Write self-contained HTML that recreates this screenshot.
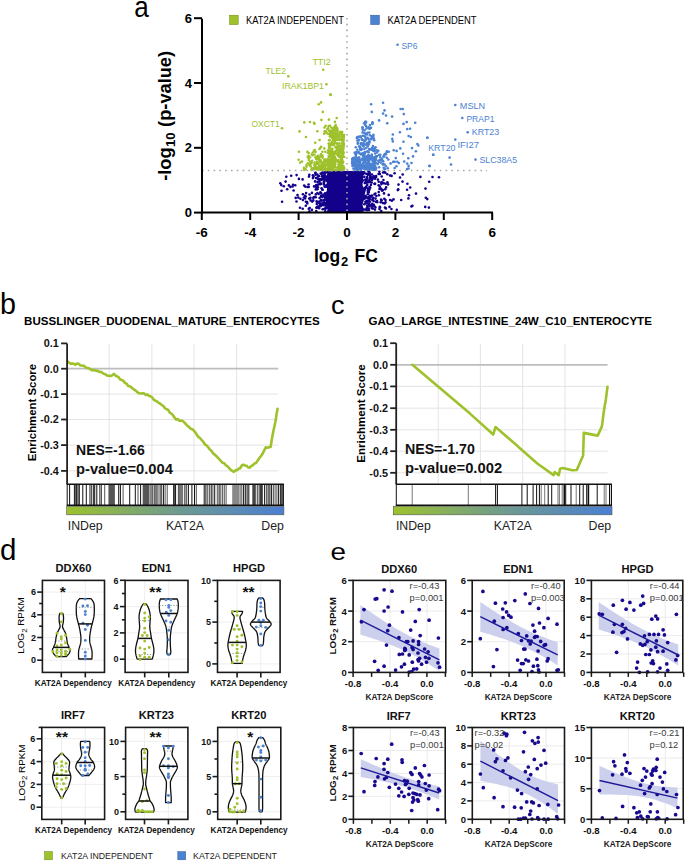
<!DOCTYPE html>
<html><head><meta charset="utf-8"><style>
html,body{margin:0;padding:0;background:#fff;}
svg{display:block;}
text{font-family:"Liberation Sans", sans-serif;}
</style></head><body>
<svg width="685" height="862" viewBox="0 0 685 862">
<rect width="685" height="862" fill="#fff"/>
<text x="134.2" y="16.6" font-size="29" fill="#000" textLength="14.5" lengthAdjust="spacingAndGlyphs">a</text>
<rect x="229.5" y="15.2" width="8.7" height="9.4" fill="#9ec12c" stroke="#6b8a1a" stroke-width="0.5"/>
<text x="246.0" y="23.6" font-size="10" fill="#000" textLength="97.9" lengthAdjust="spacingAndGlyphs">KAT2A INDEPENDENT</text>
<rect x="370.7" y="15.2" width="8.7" height="9.4" fill="#4b82d2" stroke="#2d5a9a" stroke-width="0.5"/>
<text x="387.4" y="23.6" font-size="10" fill="#000" textLength="89.2" lengthAdjust="spacingAndGlyphs">KAT2A DEPENDENT</text>
<path d="M326.4,171.0 L327.2,173.4 L326.8,175.8 L325.2,178.2 L325.4,180.6 L327.1,183.1 L324.5,185.5 L327.0,187.9 L326.9,190.3 L325.9,192.7 L325.4,195.1 L325.3,197.5 L325.3,199.9 L325.8,202.4 L326.0,204.8 L326.2,207.2 L327.5,209.6 L326.9,212.0 L363.1,212.0 L364.6,209.6 L363.1,207.2 L362.5,204.8 L363.2,202.4 L364.0,199.9 L364.0,197.5 L364.4,195.1 L365.3,192.7 L363.9,190.3 L364.0,187.9 L362.6,185.5 L362.6,183.1 L364.3,180.6 L363.0,178.2 L363.1,175.8 L365.5,173.4 L364.4,171.0Z" fill="#13008b"/>
<circle cx="315.5" cy="172.7" r="1.3" fill="#13008b"/>
<circle cx="325.9" cy="172.3" r="1.3" fill="#13008b"/>
<circle cx="319.2" cy="181.6" r="1.3" fill="#13008b"/>
<circle cx="324.1" cy="181.4" r="1.3" fill="#13008b"/>
<circle cx="323.3" cy="179.0" r="1.3" fill="#13008b"/>
<circle cx="302.9" cy="194.2" r="1.3" fill="#13008b"/>
<circle cx="315.5" cy="173.1" r="1.3" fill="#13008b"/>
<circle cx="297.5" cy="195.1" r="1.3" fill="#13008b"/>
<circle cx="312.9" cy="178.1" r="1.3" fill="#13008b"/>
<circle cx="309.2" cy="198.6" r="1.3" fill="#13008b"/>
<circle cx="324.9" cy="172.3" r="1.3" fill="#13008b"/>
<circle cx="323.7" cy="183.9" r="1.3" fill="#13008b"/>
<circle cx="324.2" cy="209.0" r="1.3" fill="#13008b"/>
<circle cx="317.4" cy="193.0" r="1.3" fill="#13008b"/>
<circle cx="316.8" cy="204.0" r="1.3" fill="#13008b"/>
<circle cx="325.0" cy="197.8" r="1.3" fill="#13008b"/>
<circle cx="323.1" cy="195.9" r="1.3" fill="#13008b"/>
<circle cx="318.0" cy="179.2" r="1.3" fill="#13008b"/>
<circle cx="325.5" cy="194.5" r="1.3" fill="#13008b"/>
<circle cx="325.3" cy="173.1" r="1.3" fill="#13008b"/>
<circle cx="319.5" cy="203.6" r="1.3" fill="#13008b"/>
<circle cx="311.9" cy="209.9" r="1.3" fill="#13008b"/>
<circle cx="305.8" cy="205.7" r="1.3" fill="#13008b"/>
<circle cx="320.7" cy="173.5" r="1.3" fill="#13008b"/>
<circle cx="316.2" cy="185.0" r="1.3" fill="#13008b"/>
<circle cx="320.3" cy="184.2" r="1.3" fill="#13008b"/>
<circle cx="319.0" cy="176.0" r="1.3" fill="#13008b"/>
<circle cx="324.9" cy="196.6" r="1.3" fill="#13008b"/>
<circle cx="307.3" cy="203.4" r="1.3" fill="#13008b"/>
<circle cx="319.4" cy="184.0" r="1.3" fill="#13008b"/>
<circle cx="319.4" cy="206.0" r="1.3" fill="#13008b"/>
<circle cx="325.8" cy="203.4" r="1.3" fill="#13008b"/>
<circle cx="317.9" cy="176.7" r="1.3" fill="#13008b"/>
<circle cx="318.0" cy="202.2" r="1.3" fill="#13008b"/>
<circle cx="318.0" cy="206.8" r="1.3" fill="#13008b"/>
<circle cx="321.7" cy="179.4" r="1.3" fill="#13008b"/>
<circle cx="315.8" cy="194.4" r="1.3" fill="#13008b"/>
<circle cx="314.2" cy="197.0" r="1.3" fill="#13008b"/>
<circle cx="321.1" cy="195.9" r="1.3" fill="#13008b"/>
<circle cx="323.4" cy="175.3" r="1.3" fill="#13008b"/>
<circle cx="313.3" cy="197.9" r="1.3" fill="#13008b"/>
<circle cx="321.0" cy="196.8" r="1.3" fill="#13008b"/>
<circle cx="320.4" cy="204.5" r="1.3" fill="#13008b"/>
<circle cx="325.2" cy="203.6" r="1.3" fill="#13008b"/>
<circle cx="324.2" cy="184.6" r="1.3" fill="#13008b"/>
<circle cx="310.6" cy="200.4" r="1.3" fill="#13008b"/>
<circle cx="320.5" cy="206.2" r="1.3" fill="#13008b"/>
<circle cx="325.8" cy="207.2" r="1.3" fill="#13008b"/>
<circle cx="316.0" cy="178.0" r="1.3" fill="#13008b"/>
<circle cx="322.3" cy="172.6" r="1.3" fill="#13008b"/>
<circle cx="303.9" cy="197.5" r="1.3" fill="#13008b"/>
<circle cx="319.7" cy="180.1" r="1.3" fill="#13008b"/>
<circle cx="318.7" cy="194.0" r="1.3" fill="#13008b"/>
<circle cx="322.7" cy="209.3" r="1.3" fill="#13008b"/>
<circle cx="325.9" cy="186.7" r="1.3" fill="#13008b"/>
<circle cx="285.6" cy="181.6" r="1.3" fill="#13008b"/>
<circle cx="322.5" cy="189.8" r="1.3" fill="#13008b"/>
<circle cx="310.5" cy="197.8" r="1.3" fill="#13008b"/>
<circle cx="324.9" cy="175.5" r="1.3" fill="#13008b"/>
<circle cx="305.4" cy="186.7" r="1.3" fill="#13008b"/>
<circle cx="325.9" cy="176.8" r="1.3" fill="#13008b"/>
<circle cx="319.6" cy="198.0" r="1.3" fill="#13008b"/>
<circle cx="325.3" cy="204.7" r="1.3" fill="#13008b"/>
<circle cx="324.6" cy="186.6" r="1.3" fill="#13008b"/>
<circle cx="314.1" cy="186.4" r="1.3" fill="#13008b"/>
<circle cx="306.1" cy="193.1" r="1.3" fill="#13008b"/>
<circle cx="320.9" cy="180.1" r="1.3" fill="#13008b"/>
<circle cx="315.1" cy="181.4" r="1.3" fill="#13008b"/>
<circle cx="317.9" cy="184.7" r="1.3" fill="#13008b"/>
<circle cx="322.4" cy="189.8" r="1.3" fill="#13008b"/>
<circle cx="309.3" cy="174.8" r="1.3" fill="#13008b"/>
<circle cx="312.2" cy="201.6" r="1.3" fill="#13008b"/>
<circle cx="323.4" cy="194.7" r="1.3" fill="#13008b"/>
<circle cx="320.6" cy="183.5" r="1.3" fill="#13008b"/>
<circle cx="317.4" cy="174.6" r="1.3" fill="#13008b"/>
<circle cx="317.4" cy="202.0" r="1.3" fill="#13008b"/>
<circle cx="325.4" cy="176.7" r="1.3" fill="#13008b"/>
<circle cx="286.3" cy="176.8" r="1.3" fill="#13008b"/>
<circle cx="326.0" cy="176.7" r="1.3" fill="#13008b"/>
<circle cx="315.5" cy="174.8" r="1.3" fill="#13008b"/>
<circle cx="316.4" cy="207.8" r="1.3" fill="#13008b"/>
<circle cx="323.9" cy="182.3" r="1.3" fill="#13008b"/>
<circle cx="320.9" cy="183.8" r="1.3" fill="#13008b"/>
<circle cx="323.2" cy="204.8" r="1.3" fill="#13008b"/>
<circle cx="325.9" cy="196.3" r="1.3" fill="#13008b"/>
<circle cx="319.9" cy="179.0" r="1.3" fill="#13008b"/>
<circle cx="317.0" cy="188.9" r="1.3" fill="#13008b"/>
<circle cx="317.4" cy="206.9" r="1.3" fill="#13008b"/>
<circle cx="292.6" cy="186.5" r="1.3" fill="#13008b"/>
<circle cx="324.7" cy="199.9" r="1.3" fill="#13008b"/>
<circle cx="324.6" cy="175.4" r="1.3" fill="#13008b"/>
<circle cx="321.6" cy="200.6" r="1.3" fill="#13008b"/>
<circle cx="324.4" cy="202.6" r="1.3" fill="#13008b"/>
<circle cx="321.9" cy="204.5" r="1.3" fill="#13008b"/>
<circle cx="305.1" cy="198.5" r="1.3" fill="#13008b"/>
<circle cx="315.9" cy="186.3" r="1.3" fill="#13008b"/>
<circle cx="321.5" cy="174.1" r="1.3" fill="#13008b"/>
<circle cx="320.4" cy="192.3" r="1.3" fill="#13008b"/>
<circle cx="282.1" cy="201.8" r="1.3" fill="#13008b"/>
<circle cx="321.9" cy="179.1" r="1.3" fill="#13008b"/>
<circle cx="317.5" cy="182.1" r="1.3" fill="#13008b"/>
<circle cx="311.9" cy="192.9" r="1.3" fill="#13008b"/>
<circle cx="316.6" cy="201.4" r="1.3" fill="#13008b"/>
<circle cx="316.9" cy="207.4" r="1.3" fill="#13008b"/>
<circle cx="313.6" cy="176.5" r="1.3" fill="#13008b"/>
<circle cx="324.1" cy="178.9" r="1.3" fill="#13008b"/>
<circle cx="321.5" cy="203.5" r="1.3" fill="#13008b"/>
<circle cx="315.7" cy="197.3" r="1.3" fill="#13008b"/>
<circle cx="320.9" cy="200.3" r="1.3" fill="#13008b"/>
<circle cx="309.4" cy="211.4" r="1.3" fill="#13008b"/>
<circle cx="325.2" cy="209.1" r="1.3" fill="#13008b"/>
<circle cx="321.9" cy="205.2" r="1.3" fill="#13008b"/>
<circle cx="323.4" cy="202.6" r="1.3" fill="#13008b"/>
<circle cx="317.9" cy="187.3" r="1.3" fill="#13008b"/>
<circle cx="322.4" cy="197.1" r="1.3" fill="#13008b"/>
<circle cx="298.9" cy="178.9" r="1.3" fill="#13008b"/>
<circle cx="319.3" cy="201.9" r="1.3" fill="#13008b"/>
<circle cx="305.9" cy="201.8" r="1.3" fill="#13008b"/>
<circle cx="313.3" cy="200.4" r="1.3" fill="#13008b"/>
<circle cx="317.4" cy="189.3" r="1.3" fill="#13008b"/>
<circle cx="316.9" cy="186.6" r="1.3" fill="#13008b"/>
<circle cx="321.6" cy="188.3" r="1.3" fill="#13008b"/>
<circle cx="323.6" cy="172.8" r="1.3" fill="#13008b"/>
<circle cx="324.0" cy="205.3" r="1.3" fill="#13008b"/>
<circle cx="325.1" cy="193.2" r="1.3" fill="#13008b"/>
<circle cx="308.7" cy="187.0" r="1.3" fill="#13008b"/>
<circle cx="321.2" cy="193.4" r="1.3" fill="#13008b"/>
<circle cx="323.7" cy="200.4" r="1.3" fill="#13008b"/>
<circle cx="316.1" cy="186.8" r="1.3" fill="#13008b"/>
<circle cx="321.9" cy="204.7" r="1.3" fill="#13008b"/>
<circle cx="319.1" cy="208.3" r="1.3" fill="#13008b"/>
<circle cx="307.5" cy="187.0" r="1.3" fill="#13008b"/>
<circle cx="324.3" cy="177.0" r="1.3" fill="#13008b"/>
<circle cx="319.4" cy="201.9" r="1.3" fill="#13008b"/>
<circle cx="325.3" cy="211.2" r="1.3" fill="#13008b"/>
<circle cx="322.9" cy="177.4" r="1.3" fill="#13008b"/>
<circle cx="321.3" cy="200.0" r="1.3" fill="#13008b"/>
<circle cx="323.9" cy="204.5" r="1.3" fill="#13008b"/>
<circle cx="325.9" cy="208.3" r="1.3" fill="#13008b"/>
<circle cx="323.4" cy="176.4" r="1.3" fill="#13008b"/>
<circle cx="312.9" cy="175.2" r="1.3" fill="#13008b"/>
<circle cx="316.3" cy="211.0" r="1.3" fill="#13008b"/>
<circle cx="321.9" cy="176.2" r="1.3" fill="#13008b"/>
<circle cx="324.4" cy="178.6" r="1.3" fill="#13008b"/>
<circle cx="309.5" cy="194.5" r="1.3" fill="#13008b"/>
<circle cx="315.8" cy="189.4" r="1.3" fill="#13008b"/>
<circle cx="296.5" cy="201.5" r="1.3" fill="#13008b"/>
<circle cx="322.5" cy="179.1" r="1.3" fill="#13008b"/>
<circle cx="309.7" cy="208.1" r="1.3" fill="#13008b"/>
<circle cx="325.6" cy="180.2" r="1.3" fill="#13008b"/>
<circle cx="380.7" cy="202.3" r="1.3" fill="#13008b"/>
<circle cx="366.2" cy="173.8" r="1.3" fill="#13008b"/>
<circle cx="367.1" cy="200.8" r="1.3" fill="#13008b"/>
<circle cx="364.3" cy="204.2" r="1.3" fill="#13008b"/>
<circle cx="381.4" cy="189.3" r="1.3" fill="#13008b"/>
<circle cx="379.9" cy="174.0" r="1.3" fill="#13008b"/>
<circle cx="384.3" cy="198.8" r="1.3" fill="#13008b"/>
<circle cx="367.0" cy="181.3" r="1.3" fill="#13008b"/>
<circle cx="365.7" cy="197.2" r="1.3" fill="#13008b"/>
<circle cx="379.7" cy="186.6" r="1.3" fill="#13008b"/>
<circle cx="368.4" cy="197.0" r="1.3" fill="#13008b"/>
<circle cx="378.7" cy="181.8" r="1.3" fill="#13008b"/>
<circle cx="368.4" cy="190.6" r="1.3" fill="#13008b"/>
<circle cx="368.7" cy="192.5" r="1.3" fill="#13008b"/>
<circle cx="364.3" cy="196.7" r="1.3" fill="#13008b"/>
<circle cx="377.9" cy="179.6" r="1.3" fill="#13008b"/>
<circle cx="367.4" cy="210.0" r="1.3" fill="#13008b"/>
<circle cx="364.8" cy="183.1" r="1.3" fill="#13008b"/>
<circle cx="374.6" cy="183.7" r="1.3" fill="#13008b"/>
<circle cx="369.9" cy="181.8" r="1.3" fill="#13008b"/>
<circle cx="367.7" cy="174.2" r="1.3" fill="#13008b"/>
<circle cx="380.6" cy="188.4" r="1.3" fill="#13008b"/>
<circle cx="367.6" cy="202.4" r="1.3" fill="#13008b"/>
<circle cx="372.3" cy="199.9" r="1.3" fill="#13008b"/>
<circle cx="366.6" cy="179.3" r="1.3" fill="#13008b"/>
<circle cx="376.0" cy="177.0" r="1.3" fill="#13008b"/>
<circle cx="388.1" cy="184.4" r="1.3" fill="#13008b"/>
<circle cx="377.2" cy="202.2" r="1.3" fill="#13008b"/>
<circle cx="368.7" cy="191.0" r="1.3" fill="#13008b"/>
<circle cx="385.9" cy="208.4" r="1.3" fill="#13008b"/>
<circle cx="373.3" cy="197.8" r="1.3" fill="#13008b"/>
<circle cx="365.7" cy="196.3" r="1.3" fill="#13008b"/>
<circle cx="366.1" cy="202.2" r="1.3" fill="#13008b"/>
<circle cx="365.6" cy="201.5" r="1.3" fill="#13008b"/>
<circle cx="378.7" cy="185.3" r="1.3" fill="#13008b"/>
<circle cx="429.2" cy="181.8" r="1.3" fill="#13008b"/>
<circle cx="379.5" cy="189.0" r="1.3" fill="#13008b"/>
<circle cx="364.4" cy="191.1" r="1.3" fill="#13008b"/>
<circle cx="371.5" cy="177.2" r="1.3" fill="#13008b"/>
<circle cx="385.2" cy="189.2" r="1.3" fill="#13008b"/>
<circle cx="369.8" cy="197.1" r="1.3" fill="#13008b"/>
<circle cx="364.3" cy="176.9" r="1.3" fill="#13008b"/>
<circle cx="367.0" cy="177.0" r="1.3" fill="#13008b"/>
<circle cx="367.1" cy="178.4" r="1.3" fill="#13008b"/>
<circle cx="365.6" cy="182.8" r="1.3" fill="#13008b"/>
<circle cx="366.9" cy="210.0" r="1.3" fill="#13008b"/>
<circle cx="383.1" cy="172.5" r="1.3" fill="#13008b"/>
<circle cx="375.1" cy="178.8" r="1.3" fill="#13008b"/>
<circle cx="369.8" cy="178.1" r="1.3" fill="#13008b"/>
<circle cx="382.4" cy="190.5" r="1.3" fill="#13008b"/>
<circle cx="384.2" cy="172.1" r="1.3" fill="#13008b"/>
<circle cx="369.2" cy="189.8" r="1.3" fill="#13008b"/>
<circle cx="372.3" cy="178.0" r="1.3" fill="#13008b"/>
<circle cx="367.3" cy="182.3" r="1.3" fill="#13008b"/>
<circle cx="365.9" cy="203.2" r="1.3" fill="#13008b"/>
<circle cx="370.1" cy="178.9" r="1.3" fill="#13008b"/>
<circle cx="364.6" cy="196.2" r="1.3" fill="#13008b"/>
<circle cx="370.2" cy="187.8" r="1.3" fill="#13008b"/>
<circle cx="365.0" cy="188.2" r="1.3" fill="#13008b"/>
<circle cx="369.4" cy="204.2" r="1.3" fill="#13008b"/>
<circle cx="372.1" cy="177.9" r="1.3" fill="#13008b"/>
<circle cx="368.7" cy="208.5" r="1.3" fill="#13008b"/>
<circle cx="380.0" cy="207.2" r="1.3" fill="#13008b"/>
<circle cx="369.2" cy="198.2" r="1.3" fill="#13008b"/>
<circle cx="369.4" cy="173.5" r="1.3" fill="#13008b"/>
<circle cx="365.5" cy="198.0" r="1.3" fill="#13008b"/>
<circle cx="371.9" cy="195.5" r="1.3" fill="#13008b"/>
<circle cx="385.5" cy="202.4" r="1.3" fill="#13008b"/>
<circle cx="383.4" cy="180.1" r="1.3" fill="#13008b"/>
<circle cx="365.0" cy="209.6" r="1.3" fill="#13008b"/>
<circle cx="379.8" cy="206.9" r="1.3" fill="#13008b"/>
<circle cx="376.1" cy="176.1" r="1.3" fill="#13008b"/>
<circle cx="381.4" cy="184.1" r="1.3" fill="#13008b"/>
<circle cx="385.4" cy="172.8" r="1.3" fill="#13008b"/>
<circle cx="373.8" cy="204.7" r="1.3" fill="#13008b"/>
<circle cx="371.7" cy="208.1" r="1.3" fill="#13008b"/>
<circle cx="381.3" cy="211.1" r="1.3" fill="#13008b"/>
<circle cx="376.4" cy="196.0" r="1.3" fill="#13008b"/>
<circle cx="367.6" cy="198.1" r="1.3" fill="#13008b"/>
<circle cx="375.5" cy="198.6" r="1.3" fill="#13008b"/>
<circle cx="367.7" cy="194.3" r="1.3" fill="#13008b"/>
<circle cx="374.9" cy="209.6" r="1.3" fill="#13008b"/>
<circle cx="369.8" cy="195.8" r="1.3" fill="#13008b"/>
<circle cx="367.2" cy="184.9" r="1.3" fill="#13008b"/>
<circle cx="367.8" cy="192.0" r="1.3" fill="#13008b"/>
<circle cx="364.1" cy="172.2" r="1.3" fill="#13008b"/>
<circle cx="381.6" cy="200.5" r="1.3" fill="#13008b"/>
<circle cx="369.7" cy="199.3" r="1.3" fill="#13008b"/>
<circle cx="367.5" cy="188.3" r="1.3" fill="#13008b"/>
<circle cx="369.7" cy="205.6" r="1.3" fill="#13008b"/>
<circle cx="375.9" cy="201.7" r="1.3" fill="#13008b"/>
<circle cx="370.9" cy="185.0" r="1.3" fill="#13008b"/>
<circle cx="367.8" cy="174.6" r="1.3" fill="#13008b"/>
<circle cx="374.2" cy="176.8" r="1.3" fill="#13008b"/>
<circle cx="372.5" cy="178.9" r="1.3" fill="#13008b"/>
<circle cx="385.7" cy="183.7" r="1.3" fill="#13008b"/>
<circle cx="364.8" cy="189.4" r="1.3" fill="#13008b"/>
<circle cx="372.8" cy="208.6" r="1.3" fill="#13008b"/>
<circle cx="371.7" cy="182.6" r="1.3" fill="#13008b"/>
<circle cx="375.4" cy="207.4" r="1.3" fill="#13008b"/>
<circle cx="364.5" cy="198.7" r="1.3" fill="#13008b"/>
<circle cx="367.2" cy="205.6" r="1.3" fill="#13008b"/>
<circle cx="365.5" cy="187.6" r="1.3" fill="#13008b"/>
<circle cx="368.5" cy="171.6" r="1.3" fill="#13008b"/>
<circle cx="382.9" cy="203.0" r="1.3" fill="#13008b"/>
<circle cx="366.0" cy="181.3" r="1.3" fill="#13008b"/>
<circle cx="374.7" cy="177.2" r="1.3" fill="#13008b"/>
<circle cx="384.6" cy="203.5" r="1.3" fill="#13008b"/>
<circle cx="372.7" cy="199.0" r="1.3" fill="#13008b"/>
<circle cx="372.0" cy="180.0" r="1.3" fill="#13008b"/>
<circle cx="387.4" cy="182.2" r="1.3" fill="#13008b"/>
<circle cx="379.5" cy="209.1" r="1.3" fill="#13008b"/>
<circle cx="370.3" cy="182.2" r="1.3" fill="#13008b"/>
<circle cx="381.1" cy="199.6" r="1.3" fill="#13008b"/>
<circle cx="370.1" cy="176.7" r="1.3" fill="#13008b"/>
<circle cx="368.6" cy="204.1" r="1.3" fill="#13008b"/>
<circle cx="373.8" cy="176.2" r="1.3" fill="#13008b"/>
<circle cx="378.7" cy="192.1" r="1.3" fill="#13008b"/>
<circle cx="368.8" cy="172.9" r="1.3" fill="#13008b"/>
<circle cx="375.4" cy="193.5" r="1.3" fill="#13008b"/>
<circle cx="371.6" cy="205.4" r="1.3" fill="#13008b"/>
<circle cx="370.2" cy="174.9" r="1.3" fill="#13008b"/>
<circle cx="381.6" cy="182.5" r="1.3" fill="#13008b"/>
<circle cx="366.0" cy="202.1" r="1.3" fill="#13008b"/>
<circle cx="365.0" cy="195.8" r="1.3" fill="#13008b"/>
<circle cx="374.8" cy="184.0" r="1.3" fill="#13008b"/>
<circle cx="371.5" cy="196.7" r="1.3" fill="#13008b"/>
<circle cx="407.1" cy="189.7" r="1.3" fill="#13008b"/>
<circle cx="372.8" cy="206.0" r="1.3" fill="#13008b"/>
<circle cx="383.9" cy="183.2" r="1.3" fill="#13008b"/>
<circle cx="369.9" cy="201.8" r="1.3" fill="#13008b"/>
<circle cx="364.4" cy="196.9" r="1.3" fill="#13008b"/>
<circle cx="373.6" cy="201.1" r="1.3" fill="#13008b"/>
<circle cx="366.2" cy="186.6" r="1.3" fill="#13008b"/>
<circle cx="368.7" cy="200.5" r="1.3" fill="#13008b"/>
<circle cx="393.5" cy="199.4" r="1.3" fill="#13008b"/>
<circle cx="369.4" cy="187.0" r="1.3" fill="#13008b"/>
<circle cx="369.6" cy="172.6" r="1.3" fill="#13008b"/>
<circle cx="369.0" cy="210.0" r="1.3" fill="#13008b"/>
<circle cx="385.5" cy="200.0" r="1.3" fill="#13008b"/>
<circle cx="365.3" cy="179.7" r="1.3" fill="#13008b"/>
<circle cx="369.1" cy="200.7" r="1.3" fill="#13008b"/>
<circle cx="366.3" cy="182.6" r="1.3" fill="#13008b"/>
<circle cx="367.9" cy="190.3" r="1.3" fill="#13008b"/>
<circle cx="374.2" cy="205.9" r="1.3" fill="#13008b"/>
<circle cx="369.2" cy="189.4" r="1.3" fill="#13008b"/>
<circle cx="382.5" cy="183.0" r="1.3" fill="#13008b"/>
<circle cx="375.1" cy="183.7" r="1.3" fill="#13008b"/>
<circle cx="368.1" cy="174.6" r="1.3" fill="#13008b"/>
<circle cx="369.2" cy="180.3" r="1.3" fill="#13008b"/>
<circle cx="368.3" cy="182.3" r="1.3" fill="#13008b"/>
<circle cx="371.7" cy="178.4" r="1.3" fill="#13008b"/>
<circle cx="378.6" cy="174.0" r="1.3" fill="#13008b"/>
<circle cx="397.8" cy="190.1" r="1.3" fill="#13008b"/>
<circle cx="365.7" cy="180.1" r="1.3" fill="#13008b"/>
<circle cx="377.0" cy="201.1" r="1.3" fill="#13008b"/>
<circle cx="366.6" cy="208.4" r="1.3" fill="#13008b"/>
<circle cx="381.5" cy="182.4" r="1.3" fill="#13008b"/>
<circle cx="374.5" cy="194.4" r="1.3" fill="#13008b"/>
<circle cx="368.6" cy="191.8" r="1.3" fill="#13008b"/>
<circle cx="372.0" cy="174.5" r="1.3" fill="#13008b"/>
<circle cx="381.7" cy="176.5" r="1.3" fill="#13008b"/>
<circle cx="367.5" cy="206.9" r="1.3" fill="#13008b"/>
<circle cx="382.0" cy="190.5" r="1.3" fill="#13008b"/>
<circle cx="372.2" cy="203.7" r="1.3" fill="#13008b"/>
<circle cx="387.3" cy="174.2" r="1.3" fill="#13008b"/>
<circle cx="378.9" cy="195.3" r="1.3" fill="#13008b"/>
<circle cx="372.8" cy="206.1" r="1.3" fill="#13008b"/>
<circle cx="369.6" cy="206.2" r="1.3" fill="#13008b"/>
<circle cx="379.3" cy="171.7" r="1.3" fill="#13008b"/>
<circle cx="295.2" cy="185.3" r="1.3" fill="#13008b"/>
<circle cx="290.4" cy="186.9" r="1.3" fill="#13008b"/>
<circle cx="302.6" cy="179.4" r="1.3" fill="#13008b"/>
<circle cx="281.3" cy="185.1" r="1.3" fill="#13008b"/>
<circle cx="287.2" cy="189.3" r="1.3" fill="#13008b"/>
<circle cx="304.2" cy="185.6" r="1.3" fill="#13008b"/>
<circle cx="293.6" cy="190.5" r="1.3" fill="#13008b"/>
<circle cx="293.0" cy="184.7" r="1.3" fill="#13008b"/>
<circle cx="309.0" cy="176.6" r="1.3" fill="#13008b"/>
<circle cx="288.9" cy="185.4" r="1.3" fill="#13008b"/>
<circle cx="280.3" cy="183.3" r="1.3" fill="#13008b"/>
<circle cx="291.2" cy="175.8" r="1.3" fill="#13008b"/>
<circle cx="283.8" cy="186.2" r="1.3" fill="#13008b"/>
<circle cx="281.5" cy="190.8" r="1.3" fill="#13008b"/>
<circle cx="296.6" cy="175.1" r="1.3" fill="#13008b"/>
<circle cx="308.6" cy="184.5" r="1.3" fill="#13008b"/>
<circle cx="305.7" cy="196.5" r="1.3" fill="#13008b"/>
<circle cx="300.4" cy="198.7" r="1.3" fill="#13008b"/>
<circle cx="298.3" cy="197.6" r="1.3" fill="#13008b"/>
<circle cx="300.0" cy="207.7" r="1.3" fill="#13008b"/>
<circle cx="302.7" cy="208.7" r="1.3" fill="#13008b"/>
<circle cx="305.0" cy="195.7" r="1.3" fill="#13008b"/>
<circle cx="302.9" cy="200.0" r="1.3" fill="#13008b"/>
<circle cx="295.7" cy="197.9" r="1.3" fill="#13008b"/>
<circle cx="307.1" cy="202.0" r="1.3" fill="#13008b"/>
<circle cx="308.8" cy="208.8" r="1.3" fill="#13008b"/>
<circle cx="386.1" cy="187.4" r="1.3" fill="#13008b"/>
<circle cx="391.9" cy="200.7" r="1.3" fill="#13008b"/>
<circle cx="410.2" cy="187.5" r="1.3" fill="#13008b"/>
<circle cx="412.4" cy="205.7" r="1.3" fill="#13008b"/>
<circle cx="425.2" cy="206.9" r="1.3" fill="#13008b"/>
<circle cx="407.4" cy="183.8" r="1.3" fill="#13008b"/>
<circle cx="390.2" cy="200.0" r="1.3" fill="#13008b"/>
<circle cx="402.5" cy="181.6" r="1.3" fill="#13008b"/>
<circle cx="439.0" cy="177.3" r="1.3" fill="#13008b"/>
<circle cx="425.5" cy="188.6" r="1.3" fill="#13008b"/>
<circle cx="388.7" cy="194.9" r="1.3" fill="#13008b"/>
<circle cx="428.9" cy="207.6" r="1.3" fill="#13008b"/>
<circle cx="400.0" cy="177.5" r="1.3" fill="#13008b"/>
<circle cx="427.3" cy="199.1" r="1.3" fill="#13008b"/>
<circle cx="382.7" cy="190.1" r="1.3" fill="#13008b"/>
<circle cx="432.5" cy="177.0" r="1.3" fill="#13008b"/>
<circle cx="391.4" cy="209.0" r="1.3" fill="#13008b"/>
<circle cx="408.4" cy="198.4" r="1.3" fill="#13008b"/>
<circle cx="420.4" cy="176.9" r="1.3" fill="#13008b"/>
<circle cx="411.5" cy="206.4" r="1.3" fill="#13008b"/>
<circle cx="391.6" cy="175.9" r="1.3" fill="#13008b"/>
<circle cx="390.1" cy="175.5" r="1.3" fill="#13008b"/>
<circle cx="398.5" cy="184.6" r="1.3" fill="#13008b"/>
<circle cx="385.0" cy="207.6" r="1.3" fill="#13008b"/>
<circle cx="394.6" cy="173.3" r="1.3" fill="#13008b"/>
<circle cx="389.5" cy="206.9" r="1.3" fill="#13008b"/>
<circle cx="409.0" cy="195.2" r="1.3" fill="#13008b"/>
<circle cx="402.7" cy="174.5" r="1.3" fill="#13008b"/>
<circle cx="416.0" cy="193.6" r="1.3" fill="#13008b"/>
<circle cx="398.3" cy="189.4" r="1.3" fill="#13008b"/>
<circle cx="384.0" cy="193.4" r="1.3" fill="#13008b"/>
<circle cx="401.2" cy="200.0" r="1.3" fill="#13008b"/>
<circle cx="425.8" cy="197.8" r="1.3" fill="#13008b"/>
<circle cx="396.8" cy="209.9" r="1.3" fill="#13008b"/>
<circle cx="331.7" cy="166.8" r="1.3" fill="#9ec12c"/>
<circle cx="334.9" cy="141.6" r="1.3" fill="#9ec12c"/>
<circle cx="334.6" cy="156.5" r="1.3" fill="#9ec12c"/>
<circle cx="333.1" cy="144.5" r="1.3" fill="#9ec12c"/>
<circle cx="335.8" cy="134.6" r="1.3" fill="#9ec12c"/>
<circle cx="341.0" cy="132.3" r="1.3" fill="#9ec12c"/>
<circle cx="327.5" cy="164.7" r="1.3" fill="#9ec12c"/>
<circle cx="331.8" cy="157.4" r="1.3" fill="#9ec12c"/>
<circle cx="336.6" cy="136.2" r="1.3" fill="#9ec12c"/>
<circle cx="339.5" cy="134.3" r="1.3" fill="#9ec12c"/>
<circle cx="338.0" cy="160.9" r="1.3" fill="#9ec12c"/>
<circle cx="340.3" cy="132.6" r="1.3" fill="#9ec12c"/>
<circle cx="328.6" cy="159.8" r="1.3" fill="#9ec12c"/>
<circle cx="329.5" cy="163.9" r="1.3" fill="#9ec12c"/>
<circle cx="333.3" cy="145.0" r="1.3" fill="#9ec12c"/>
<circle cx="331.7" cy="159.7" r="1.3" fill="#9ec12c"/>
<circle cx="340.0" cy="156.7" r="1.3" fill="#9ec12c"/>
<circle cx="344.1" cy="156.9" r="1.3" fill="#9ec12c"/>
<circle cx="338.8" cy="155.9" r="1.3" fill="#9ec12c"/>
<circle cx="326.1" cy="169.7" r="1.3" fill="#9ec12c"/>
<circle cx="331.1" cy="170.0" r="1.3" fill="#9ec12c"/>
<circle cx="341.2" cy="140.1" r="1.3" fill="#9ec12c"/>
<circle cx="343.0" cy="151.3" r="1.3" fill="#9ec12c"/>
<circle cx="337.7" cy="147.3" r="1.3" fill="#9ec12c"/>
<circle cx="334.4" cy="139.3" r="1.3" fill="#9ec12c"/>
<circle cx="333.0" cy="159.5" r="1.3" fill="#9ec12c"/>
<circle cx="337.7" cy="161.7" r="1.3" fill="#9ec12c"/>
<circle cx="341.8" cy="162.5" r="1.3" fill="#9ec12c"/>
<circle cx="332.6" cy="161.2" r="1.3" fill="#9ec12c"/>
<circle cx="331.8" cy="142.1" r="1.3" fill="#9ec12c"/>
<circle cx="326.7" cy="160.6" r="1.3" fill="#9ec12c"/>
<circle cx="328.8" cy="163.4" r="1.3" fill="#9ec12c"/>
<circle cx="341.8" cy="148.8" r="1.3" fill="#9ec12c"/>
<circle cx="337.3" cy="167.6" r="1.3" fill="#9ec12c"/>
<circle cx="344.0" cy="168.1" r="1.3" fill="#9ec12c"/>
<circle cx="329.5" cy="146.0" r="1.3" fill="#9ec12c"/>
<circle cx="334.7" cy="138.9" r="1.3" fill="#9ec12c"/>
<circle cx="340.5" cy="163.9" r="1.3" fill="#9ec12c"/>
<circle cx="338.7" cy="149.1" r="1.3" fill="#9ec12c"/>
<circle cx="326.8" cy="169.9" r="1.3" fill="#9ec12c"/>
<circle cx="333.9" cy="157.4" r="1.3" fill="#9ec12c"/>
<circle cx="338.3" cy="149.3" r="1.3" fill="#9ec12c"/>
<circle cx="338.6" cy="164.6" r="1.3" fill="#9ec12c"/>
<circle cx="334.5" cy="162.0" r="1.3" fill="#9ec12c"/>
<circle cx="330.6" cy="153.3" r="1.3" fill="#9ec12c"/>
<circle cx="343.6" cy="152.7" r="1.3" fill="#9ec12c"/>
<circle cx="334.5" cy="165.6" r="1.3" fill="#9ec12c"/>
<circle cx="339.7" cy="145.7" r="1.3" fill="#9ec12c"/>
<circle cx="335.5" cy="170.0" r="1.3" fill="#9ec12c"/>
<circle cx="331.0" cy="134.2" r="1.3" fill="#9ec12c"/>
<circle cx="330.4" cy="165.2" r="1.3" fill="#9ec12c"/>
<circle cx="327.5" cy="162.6" r="1.3" fill="#9ec12c"/>
<circle cx="329.4" cy="166.5" r="1.3" fill="#9ec12c"/>
<circle cx="332.8" cy="132.9" r="1.3" fill="#9ec12c"/>
<circle cx="333.5" cy="166.2" r="1.3" fill="#9ec12c"/>
<circle cx="332.9" cy="152.5" r="1.3" fill="#9ec12c"/>
<circle cx="335.4" cy="129.2" r="1.3" fill="#9ec12c"/>
<circle cx="341.5" cy="138.8" r="1.3" fill="#9ec12c"/>
<circle cx="325.9" cy="170.0" r="1.3" fill="#9ec12c"/>
<circle cx="329.2" cy="153.3" r="1.3" fill="#9ec12c"/>
<circle cx="341.0" cy="151.1" r="1.3" fill="#9ec12c"/>
<circle cx="336.7" cy="147.6" r="1.3" fill="#9ec12c"/>
<circle cx="334.3" cy="160.9" r="1.3" fill="#9ec12c"/>
<circle cx="331.3" cy="161.1" r="1.3" fill="#9ec12c"/>
<circle cx="335.6" cy="170.0" r="1.3" fill="#9ec12c"/>
<circle cx="329.6" cy="170.0" r="1.3" fill="#9ec12c"/>
<circle cx="341.8" cy="152.8" r="1.3" fill="#9ec12c"/>
<circle cx="340.9" cy="170.0" r="1.3" fill="#9ec12c"/>
<circle cx="331.8" cy="166.3" r="1.3" fill="#9ec12c"/>
<circle cx="327.1" cy="160.4" r="1.3" fill="#9ec12c"/>
<circle cx="342.1" cy="167.5" r="1.3" fill="#9ec12c"/>
<circle cx="331.3" cy="167.8" r="1.3" fill="#9ec12c"/>
<circle cx="339.2" cy="136.6" r="1.3" fill="#9ec12c"/>
<circle cx="341.8" cy="155.3" r="1.3" fill="#9ec12c"/>
<circle cx="340.6" cy="162.8" r="1.3" fill="#9ec12c"/>
<circle cx="342.1" cy="143.5" r="1.3" fill="#9ec12c"/>
<circle cx="334.8" cy="167.1" r="1.3" fill="#9ec12c"/>
<circle cx="341.4" cy="164.2" r="1.3" fill="#9ec12c"/>
<circle cx="336.4" cy="134.3" r="1.3" fill="#9ec12c"/>
<circle cx="333.5" cy="135.3" r="1.3" fill="#9ec12c"/>
<circle cx="335.6" cy="151.6" r="1.3" fill="#9ec12c"/>
<circle cx="331.9" cy="167.8" r="1.3" fill="#9ec12c"/>
<circle cx="340.1" cy="162.5" r="1.3" fill="#9ec12c"/>
<circle cx="341.1" cy="170.0" r="1.3" fill="#9ec12c"/>
<circle cx="328.3" cy="168.2" r="1.3" fill="#9ec12c"/>
<circle cx="328.6" cy="170.0" r="1.3" fill="#9ec12c"/>
<circle cx="332.9" cy="167.5" r="1.3" fill="#9ec12c"/>
<circle cx="335.6" cy="147.2" r="1.3" fill="#9ec12c"/>
<circle cx="343.4" cy="166.1" r="1.3" fill="#9ec12c"/>
<circle cx="343.1" cy="166.8" r="1.3" fill="#9ec12c"/>
<circle cx="343.7" cy="137.1" r="1.3" fill="#9ec12c"/>
<circle cx="339.4" cy="162.5" r="1.3" fill="#9ec12c"/>
<circle cx="338.5" cy="160.1" r="1.3" fill="#9ec12c"/>
<circle cx="330.7" cy="168.9" r="1.3" fill="#9ec12c"/>
<circle cx="334.7" cy="140.5" r="1.3" fill="#9ec12c"/>
<circle cx="328.7" cy="143.6" r="1.3" fill="#9ec12c"/>
<circle cx="341.4" cy="152.7" r="1.3" fill="#9ec12c"/>
<circle cx="332.2" cy="152.7" r="1.3" fill="#9ec12c"/>
<circle cx="327.0" cy="169.8" r="1.3" fill="#9ec12c"/>
<circle cx="331.7" cy="166.3" r="1.3" fill="#9ec12c"/>
<circle cx="332.9" cy="153.5" r="1.3" fill="#9ec12c"/>
<circle cx="340.3" cy="131.7" r="1.3" fill="#9ec12c"/>
<circle cx="329.1" cy="140.3" r="1.3" fill="#9ec12c"/>
<circle cx="331.5" cy="151.7" r="1.3" fill="#9ec12c"/>
<circle cx="342.5" cy="152.5" r="1.3" fill="#9ec12c"/>
<circle cx="341.5" cy="167.3" r="1.3" fill="#9ec12c"/>
<circle cx="338.7" cy="138.0" r="1.3" fill="#9ec12c"/>
<circle cx="336.0" cy="170.0" r="1.3" fill="#9ec12c"/>
<circle cx="329.8" cy="168.0" r="1.3" fill="#9ec12c"/>
<circle cx="342.2" cy="145.8" r="1.3" fill="#9ec12c"/>
<circle cx="340.6" cy="139.7" r="1.3" fill="#9ec12c"/>
<circle cx="336.9" cy="139.8" r="1.3" fill="#9ec12c"/>
<circle cx="330.1" cy="154.0" r="1.3" fill="#9ec12c"/>
<circle cx="330.1" cy="163.6" r="1.3" fill="#9ec12c"/>
<circle cx="332.8" cy="166.8" r="1.3" fill="#9ec12c"/>
<circle cx="334.3" cy="137.8" r="1.3" fill="#9ec12c"/>
<circle cx="330.5" cy="136.2" r="1.3" fill="#9ec12c"/>
<circle cx="333.5" cy="164.2" r="1.3" fill="#9ec12c"/>
<circle cx="336.0" cy="137.9" r="1.3" fill="#9ec12c"/>
<circle cx="331.8" cy="159.1" r="1.3" fill="#9ec12c"/>
<circle cx="333.4" cy="159.8" r="1.3" fill="#9ec12c"/>
<circle cx="332.9" cy="155.1" r="1.3" fill="#9ec12c"/>
<circle cx="332.5" cy="170.0" r="1.3" fill="#9ec12c"/>
<circle cx="337.8" cy="153.9" r="1.3" fill="#9ec12c"/>
<circle cx="335.2" cy="164.0" r="1.3" fill="#9ec12c"/>
<circle cx="331.6" cy="145.1" r="1.3" fill="#9ec12c"/>
<circle cx="340.8" cy="152.6" r="1.3" fill="#9ec12c"/>
<circle cx="337.1" cy="136.2" r="1.3" fill="#9ec12c"/>
<circle cx="336.3" cy="136.3" r="1.3" fill="#9ec12c"/>
<circle cx="339.0" cy="166.4" r="1.3" fill="#9ec12c"/>
<circle cx="339.7" cy="164.1" r="1.3" fill="#9ec12c"/>
<circle cx="342.0" cy="135.9" r="1.3" fill="#9ec12c"/>
<circle cx="341.0" cy="156.4" r="1.3" fill="#9ec12c"/>
<circle cx="338.1" cy="167.8" r="1.3" fill="#9ec12c"/>
<circle cx="339.1" cy="166.9" r="1.3" fill="#9ec12c"/>
<circle cx="332.1" cy="133.4" r="1.3" fill="#9ec12c"/>
<circle cx="339.2" cy="153.6" r="1.3" fill="#9ec12c"/>
<circle cx="330.7" cy="165.1" r="1.3" fill="#9ec12c"/>
<circle cx="331.7" cy="155.0" r="1.3" fill="#9ec12c"/>
<circle cx="329.1" cy="156.9" r="1.3" fill="#9ec12c"/>
<circle cx="333.9" cy="156.6" r="1.3" fill="#9ec12c"/>
<circle cx="330.2" cy="133.5" r="1.3" fill="#9ec12c"/>
<circle cx="339.2" cy="135.9" r="1.3" fill="#9ec12c"/>
<circle cx="339.6" cy="165.9" r="1.3" fill="#9ec12c"/>
<circle cx="340.1" cy="167.7" r="1.3" fill="#9ec12c"/>
<circle cx="329.0" cy="160.0" r="1.3" fill="#9ec12c"/>
<circle cx="338.8" cy="139.6" r="1.3" fill="#9ec12c"/>
<circle cx="341.6" cy="147.9" r="1.3" fill="#9ec12c"/>
<circle cx="328.9" cy="146.0" r="1.3" fill="#9ec12c"/>
<circle cx="331.0" cy="150.8" r="1.3" fill="#9ec12c"/>
<circle cx="330.9" cy="165.2" r="1.3" fill="#9ec12c"/>
<circle cx="336.4" cy="135.1" r="1.3" fill="#9ec12c"/>
<circle cx="328.7" cy="170.0" r="1.3" fill="#9ec12c"/>
<circle cx="337.0" cy="143.4" r="1.3" fill="#9ec12c"/>
<circle cx="332.3" cy="165.6" r="1.3" fill="#9ec12c"/>
<circle cx="338.3" cy="156.0" r="1.3" fill="#9ec12c"/>
<circle cx="337.6" cy="131.8" r="1.3" fill="#9ec12c"/>
<circle cx="339.0" cy="151.2" r="1.3" fill="#9ec12c"/>
<circle cx="330.4" cy="166.5" r="1.3" fill="#9ec12c"/>
<circle cx="339.2" cy="156.7" r="1.3" fill="#9ec12c"/>
<circle cx="339.9" cy="149.0" r="1.3" fill="#9ec12c"/>
<circle cx="339.0" cy="170.0" r="1.3" fill="#9ec12c"/>
<circle cx="327.6" cy="162.6" r="1.3" fill="#9ec12c"/>
<circle cx="343.2" cy="168.6" r="1.3" fill="#9ec12c"/>
<circle cx="337.3" cy="150.1" r="1.3" fill="#9ec12c"/>
<circle cx="331.6" cy="158.3" r="1.3" fill="#9ec12c"/>
<circle cx="334.8" cy="152.3" r="1.3" fill="#9ec12c"/>
<circle cx="335.8" cy="159.2" r="1.3" fill="#9ec12c"/>
<circle cx="336.5" cy="147.7" r="1.3" fill="#9ec12c"/>
<circle cx="330.2" cy="169.1" r="1.3" fill="#9ec12c"/>
<circle cx="333.2" cy="138.9" r="1.3" fill="#9ec12c"/>
<circle cx="334.8" cy="136.8" r="1.3" fill="#9ec12c"/>
<circle cx="340.6" cy="151.7" r="1.3" fill="#9ec12c"/>
<circle cx="334.5" cy="157.6" r="1.3" fill="#9ec12c"/>
<circle cx="330.1" cy="136.3" r="1.3" fill="#9ec12c"/>
<circle cx="334.5" cy="161.2" r="1.3" fill="#9ec12c"/>
<circle cx="332.3" cy="138.0" r="1.3" fill="#9ec12c"/>
<circle cx="326.9" cy="160.5" r="1.3" fill="#9ec12c"/>
<circle cx="343.8" cy="145.4" r="1.3" fill="#9ec12c"/>
<circle cx="331.7" cy="161.3" r="1.3" fill="#9ec12c"/>
<circle cx="336.7" cy="150.2" r="1.3" fill="#9ec12c"/>
<circle cx="334.9" cy="135.3" r="1.3" fill="#9ec12c"/>
<circle cx="326.5" cy="170.0" r="1.3" fill="#9ec12c"/>
<circle cx="342.7" cy="141.3" r="1.3" fill="#9ec12c"/>
<circle cx="343.2" cy="149.6" r="1.3" fill="#9ec12c"/>
<circle cx="329.7" cy="162.6" r="1.3" fill="#9ec12c"/>
<circle cx="334.0" cy="159.8" r="1.3" fill="#9ec12c"/>
<circle cx="332.5" cy="170.0" r="1.3" fill="#9ec12c"/>
<circle cx="329.3" cy="163.1" r="1.3" fill="#9ec12c"/>
<circle cx="338.8" cy="147.8" r="1.3" fill="#9ec12c"/>
<circle cx="340.2" cy="168.3" r="1.3" fill="#9ec12c"/>
<circle cx="340.4" cy="145.9" r="1.3" fill="#9ec12c"/>
<circle cx="339.4" cy="137.0" r="1.3" fill="#9ec12c"/>
<circle cx="330.5" cy="130.7" r="1.3" fill="#9ec12c"/>
<circle cx="332.7" cy="138.6" r="1.3" fill="#9ec12c"/>
<circle cx="336.9" cy="140.0" r="1.3" fill="#9ec12c"/>
<circle cx="338.8" cy="165.6" r="1.3" fill="#9ec12c"/>
<circle cx="335.0" cy="138.6" r="1.3" fill="#9ec12c"/>
<circle cx="334.1" cy="166.7" r="1.3" fill="#9ec12c"/>
<circle cx="341.8" cy="137.9" r="1.3" fill="#9ec12c"/>
<circle cx="330.1" cy="134.8" r="1.3" fill="#9ec12c"/>
<circle cx="332.4" cy="148.9" r="1.3" fill="#9ec12c"/>
<circle cx="332.4" cy="153.2" r="1.3" fill="#9ec12c"/>
<circle cx="344.1" cy="168.1" r="1.3" fill="#9ec12c"/>
<circle cx="331.5" cy="150.9" r="1.3" fill="#9ec12c"/>
<circle cx="327.7" cy="158.8" r="1.3" fill="#9ec12c"/>
<circle cx="333.5" cy="167.4" r="1.3" fill="#9ec12c"/>
<circle cx="337.7" cy="167.8" r="1.3" fill="#9ec12c"/>
<circle cx="330.9" cy="144.8" r="1.3" fill="#9ec12c"/>
<circle cx="341.9" cy="134.0" r="1.3" fill="#9ec12c"/>
<circle cx="330.0" cy="161.6" r="1.3" fill="#9ec12c"/>
<circle cx="338.7" cy="168.4" r="1.3" fill="#9ec12c"/>
<circle cx="329.5" cy="160.8" r="1.3" fill="#9ec12c"/>
<circle cx="342.0" cy="166.1" r="1.3" fill="#9ec12c"/>
<circle cx="329.5" cy="167.6" r="1.3" fill="#9ec12c"/>
<circle cx="339.9" cy="148.5" r="1.3" fill="#9ec12c"/>
<circle cx="341.4" cy="160.1" r="1.3" fill="#9ec12c"/>
<circle cx="331.4" cy="157.8" r="1.3" fill="#9ec12c"/>
<circle cx="327.8" cy="164.6" r="1.3" fill="#9ec12c"/>
<circle cx="337.7" cy="145.9" r="1.3" fill="#9ec12c"/>
<circle cx="335.3" cy="161.6" r="1.3" fill="#9ec12c"/>
<circle cx="335.2" cy="157.7" r="1.3" fill="#9ec12c"/>
<circle cx="340.4" cy="157.5" r="1.3" fill="#9ec12c"/>
<circle cx="336.1" cy="139.2" r="1.3" fill="#9ec12c"/>
<circle cx="335.2" cy="163.7" r="1.3" fill="#9ec12c"/>
<circle cx="336.0" cy="146.7" r="1.3" fill="#9ec12c"/>
<circle cx="334.4" cy="164.3" r="1.3" fill="#9ec12c"/>
<circle cx="335.3" cy="139.7" r="1.3" fill="#9ec12c"/>
<circle cx="329.6" cy="159.7" r="1.3" fill="#9ec12c"/>
<circle cx="332.0" cy="158.1" r="1.3" fill="#9ec12c"/>
<circle cx="333.0" cy="140.6" r="1.3" fill="#9ec12c"/>
<circle cx="331.9" cy="150.6" r="1.3" fill="#9ec12c"/>
<circle cx="340.2" cy="167.9" r="1.3" fill="#9ec12c"/>
<circle cx="328.0" cy="166.3" r="1.3" fill="#9ec12c"/>
<circle cx="333.3" cy="128.4" r="1.3" fill="#9ec12c"/>
<circle cx="335.3" cy="170.0" r="1.3" fill="#9ec12c"/>
<circle cx="331.9" cy="163.4" r="1.3" fill="#9ec12c"/>
<circle cx="333.4" cy="132.2" r="1.3" fill="#9ec12c"/>
<circle cx="332.5" cy="170.0" r="1.3" fill="#9ec12c"/>
<circle cx="335.1" cy="167.1" r="1.3" fill="#9ec12c"/>
<circle cx="338.4" cy="161.5" r="1.3" fill="#9ec12c"/>
<circle cx="343.7" cy="169.1" r="1.3" fill="#9ec12c"/>
<circle cx="341.7" cy="158.0" r="1.3" fill="#9ec12c"/>
<circle cx="334.7" cy="153.4" r="1.3" fill="#9ec12c"/>
<circle cx="334.6" cy="160.7" r="1.3" fill="#9ec12c"/>
<circle cx="333.5" cy="167.3" r="1.3" fill="#9ec12c"/>
<circle cx="332.4" cy="143.8" r="1.3" fill="#9ec12c"/>
<circle cx="343.5" cy="143.3" r="1.3" fill="#9ec12c"/>
<circle cx="328.9" cy="151.0" r="1.3" fill="#9ec12c"/>
<circle cx="329.7" cy="166.0" r="1.3" fill="#9ec12c"/>
<circle cx="338.5" cy="154.2" r="1.3" fill="#9ec12c"/>
<circle cx="337.6" cy="147.9" r="1.3" fill="#9ec12c"/>
<circle cx="331.9" cy="156.2" r="1.3" fill="#9ec12c"/>
<circle cx="343.2" cy="142.1" r="1.3" fill="#9ec12c"/>
<circle cx="333.9" cy="159.4" r="1.3" fill="#9ec12c"/>
<circle cx="337.5" cy="153.3" r="1.3" fill="#9ec12c"/>
<circle cx="327.3" cy="168.9" r="1.3" fill="#9ec12c"/>
<circle cx="342.3" cy="156.2" r="1.3" fill="#9ec12c"/>
<circle cx="330.3" cy="143.7" r="1.3" fill="#9ec12c"/>
<circle cx="334.8" cy="143.2" r="1.3" fill="#9ec12c"/>
<circle cx="342.2" cy="160.3" r="1.3" fill="#9ec12c"/>
<circle cx="343.4" cy="136.8" r="1.3" fill="#9ec12c"/>
<circle cx="342.8" cy="140.0" r="1.3" fill="#9ec12c"/>
<circle cx="341.2" cy="159.8" r="1.3" fill="#9ec12c"/>
<circle cx="331.2" cy="156.0" r="1.3" fill="#9ec12c"/>
<circle cx="329.6" cy="140.1" r="1.3" fill="#9ec12c"/>
<circle cx="334.3" cy="164.1" r="1.3" fill="#9ec12c"/>
<circle cx="329.1" cy="148.4" r="1.3" fill="#9ec12c"/>
<circle cx="343.6" cy="147.6" r="1.3" fill="#9ec12c"/>
<circle cx="327.7" cy="152.7" r="1.3" fill="#9ec12c"/>
<circle cx="334.0" cy="139.6" r="1.3" fill="#9ec12c"/>
<circle cx="330.2" cy="160.9" r="1.3" fill="#9ec12c"/>
<circle cx="328.1" cy="150.3" r="1.3" fill="#9ec12c"/>
<circle cx="335.4" cy="161.2" r="1.3" fill="#9ec12c"/>
<circle cx="331.1" cy="132.3" r="1.3" fill="#9ec12c"/>
<circle cx="342.4" cy="163.3" r="1.3" fill="#9ec12c"/>
<circle cx="339.4" cy="143.4" r="1.3" fill="#9ec12c"/>
<circle cx="333.6" cy="154.9" r="1.3" fill="#9ec12c"/>
<circle cx="342.0" cy="132.0" r="1.3" fill="#9ec12c"/>
<circle cx="341.3" cy="134.6" r="1.3" fill="#9ec12c"/>
<circle cx="331.6" cy="170.0" r="1.3" fill="#9ec12c"/>
<circle cx="342.0" cy="132.6" r="1.3" fill="#9ec12c"/>
<circle cx="343.0" cy="154.6" r="1.3" fill="#9ec12c"/>
<circle cx="337.1" cy="170.0" r="1.3" fill="#9ec12c"/>
<circle cx="333.3" cy="154.5" r="1.3" fill="#9ec12c"/>
<circle cx="342.3" cy="170.0" r="1.3" fill="#9ec12c"/>
<circle cx="343.2" cy="152.9" r="1.3" fill="#9ec12c"/>
<circle cx="332.3" cy="166.0" r="1.3" fill="#9ec12c"/>
<circle cx="328.7" cy="155.8" r="1.3" fill="#9ec12c"/>
<circle cx="341.9" cy="159.3" r="1.3" fill="#9ec12c"/>
<circle cx="338.7" cy="150.4" r="1.3" fill="#9ec12c"/>
<circle cx="332.8" cy="138.1" r="1.3" fill="#9ec12c"/>
<circle cx="337.8" cy="136.7" r="1.3" fill="#9ec12c"/>
<circle cx="332.0" cy="161.7" r="1.3" fill="#9ec12c"/>
<circle cx="342.9" cy="149.9" r="1.3" fill="#9ec12c"/>
<circle cx="331.9" cy="170.0" r="1.3" fill="#9ec12c"/>
<circle cx="330.1" cy="160.0" r="1.3" fill="#9ec12c"/>
<circle cx="330.1" cy="136.6" r="1.3" fill="#9ec12c"/>
<circle cx="332.1" cy="167.4" r="1.3" fill="#9ec12c"/>
<circle cx="344.0" cy="135.0" r="1.3" fill="#9ec12c"/>
<circle cx="331.5" cy="149.7" r="1.3" fill="#9ec12c"/>
<circle cx="334.6" cy="161.8" r="1.3" fill="#9ec12c"/>
<circle cx="343.8" cy="144.4" r="1.3" fill="#9ec12c"/>
<circle cx="326.3" cy="164.7" r="1.3" fill="#9ec12c"/>
<circle cx="333.6" cy="139.6" r="1.3" fill="#9ec12c"/>
<circle cx="341.0" cy="165.6" r="1.3" fill="#9ec12c"/>
<circle cx="328.1" cy="162.9" r="1.3" fill="#9ec12c"/>
<circle cx="343.1" cy="142.9" r="1.3" fill="#9ec12c"/>
<circle cx="341.3" cy="158.0" r="1.3" fill="#9ec12c"/>
<circle cx="328.6" cy="165.4" r="1.3" fill="#9ec12c"/>
<circle cx="337.3" cy="154.7" r="1.3" fill="#9ec12c"/>
<circle cx="336.4" cy="160.6" r="1.3" fill="#9ec12c"/>
<circle cx="339.1" cy="152.0" r="1.3" fill="#9ec12c"/>
<circle cx="333.4" cy="143.6" r="1.3" fill="#9ec12c"/>
<circle cx="335.1" cy="137.7" r="1.3" fill="#9ec12c"/>
<circle cx="330.0" cy="170.0" r="1.3" fill="#9ec12c"/>
<circle cx="332.5" cy="151.6" r="1.3" fill="#9ec12c"/>
<circle cx="332.1" cy="136.2" r="1.3" fill="#9ec12c"/>
<circle cx="342.6" cy="157.0" r="1.3" fill="#9ec12c"/>
<circle cx="342.4" cy="145.8" r="1.3" fill="#9ec12c"/>
<circle cx="332.4" cy="168.5" r="1.3" fill="#9ec12c"/>
<circle cx="339.6" cy="140.0" r="1.3" fill="#9ec12c"/>
<circle cx="335.8" cy="151.0" r="1.3" fill="#9ec12c"/>
<circle cx="333.6" cy="136.5" r="1.3" fill="#9ec12c"/>
<circle cx="334.0" cy="145.0" r="1.3" fill="#9ec12c"/>
<circle cx="343.7" cy="140.0" r="1.3" fill="#9ec12c"/>
<circle cx="331.9" cy="170.0" r="1.3" fill="#9ec12c"/>
<circle cx="337.6" cy="143.9" r="1.3" fill="#9ec12c"/>
<circle cx="343.2" cy="162.0" r="1.3" fill="#9ec12c"/>
<circle cx="331.8" cy="161.5" r="1.3" fill="#9ec12c"/>
<circle cx="340.8" cy="161.9" r="1.3" fill="#9ec12c"/>
<circle cx="330.0" cy="147.9" r="1.3" fill="#9ec12c"/>
<circle cx="339.8" cy="152.3" r="1.3" fill="#9ec12c"/>
<circle cx="341.5" cy="132.4" r="1.3" fill="#9ec12c"/>
<circle cx="341.2" cy="170.0" r="1.3" fill="#9ec12c"/>
<circle cx="343.7" cy="170.0" r="1.3" fill="#9ec12c"/>
<circle cx="339.3" cy="154.6" r="1.3" fill="#9ec12c"/>
<circle cx="343.9" cy="137.6" r="1.3" fill="#9ec12c"/>
<circle cx="332.0" cy="154.6" r="1.3" fill="#9ec12c"/>
<circle cx="336.2" cy="153.7" r="1.3" fill="#9ec12c"/>
<circle cx="327.0" cy="133.2" r="1.3" fill="#9ec12c"/>
<circle cx="325.2" cy="131.9" r="1.3" fill="#9ec12c"/>
<circle cx="330.1" cy="134.1" r="1.3" fill="#9ec12c"/>
<circle cx="334.1" cy="127.7" r="1.3" fill="#9ec12c"/>
<circle cx="334.9" cy="132.9" r="1.3" fill="#9ec12c"/>
<circle cx="324.2" cy="133.7" r="1.3" fill="#9ec12c"/>
<circle cx="337.2" cy="128.6" r="1.3" fill="#9ec12c"/>
<circle cx="327.5" cy="129.1" r="1.3" fill="#9ec12c"/>
<circle cx="328.1" cy="128.3" r="1.3" fill="#9ec12c"/>
<circle cx="335.7" cy="125.1" r="1.3" fill="#9ec12c"/>
<circle cx="336.5" cy="127.3" r="1.3" fill="#9ec12c"/>
<circle cx="334.3" cy="128.3" r="1.3" fill="#9ec12c"/>
<circle cx="328.7" cy="126.1" r="1.3" fill="#9ec12c"/>
<circle cx="330.5" cy="132.7" r="1.3" fill="#9ec12c"/>
<circle cx="335.7" cy="129.3" r="1.3" fill="#9ec12c"/>
<circle cx="329.0" cy="130.7" r="1.3" fill="#9ec12c"/>
<circle cx="335.3" cy="127.8" r="1.3" fill="#9ec12c"/>
<circle cx="334.9" cy="128.6" r="1.3" fill="#9ec12c"/>
<circle cx="330.6" cy="132.5" r="1.3" fill="#9ec12c"/>
<circle cx="336.6" cy="129.7" r="1.3" fill="#9ec12c"/>
<circle cx="329.4" cy="131.0" r="1.3" fill="#9ec12c"/>
<circle cx="334.5" cy="129.2" r="1.3" fill="#9ec12c"/>
<circle cx="333.0" cy="130.6" r="1.3" fill="#9ec12c"/>
<circle cx="328.6" cy="134.0" r="1.3" fill="#9ec12c"/>
<circle cx="331.4" cy="127.7" r="1.3" fill="#9ec12c"/>
<circle cx="332.5" cy="130.2" r="1.3" fill="#9ec12c"/>
<circle cx="331.5" cy="131.9" r="1.3" fill="#9ec12c"/>
<circle cx="325.6" cy="125.9" r="1.3" fill="#9ec12c"/>
<circle cx="337.9" cy="134.6" r="1.3" fill="#9ec12c"/>
<circle cx="337.5" cy="130.0" r="1.3" fill="#9ec12c"/>
<circle cx="324.5" cy="127.5" r="1.3" fill="#9ec12c"/>
<circle cx="337.2" cy="132.6" r="1.3" fill="#9ec12c"/>
<circle cx="331.4" cy="133.2" r="1.3" fill="#9ec12c"/>
<circle cx="325.8" cy="131.3" r="1.3" fill="#9ec12c"/>
<circle cx="335.5" cy="134.2" r="1.3" fill="#9ec12c"/>
<circle cx="330.1" cy="125.9" r="1.3" fill="#9ec12c"/>
<circle cx="334.0" cy="130.3" r="1.3" fill="#9ec12c"/>
<circle cx="335.6" cy="132.4" r="1.3" fill="#9ec12c"/>
<circle cx="331.5" cy="134.2" r="1.3" fill="#9ec12c"/>
<circle cx="324.7" cy="131.4" r="1.3" fill="#9ec12c"/>
<circle cx="324.3" cy="148.4" r="1.3" fill="#9ec12c"/>
<circle cx="303.9" cy="167.9" r="1.3" fill="#9ec12c"/>
<circle cx="324.7" cy="160.7" r="1.3" fill="#9ec12c"/>
<circle cx="308.8" cy="160.0" r="1.3" fill="#9ec12c"/>
<circle cx="320.1" cy="166.5" r="1.3" fill="#9ec12c"/>
<circle cx="324.6" cy="163.3" r="1.3" fill="#9ec12c"/>
<circle cx="315.5" cy="152.0" r="1.3" fill="#9ec12c"/>
<circle cx="318.6" cy="163.0" r="1.3" fill="#9ec12c"/>
<circle cx="322.6" cy="164.0" r="1.3" fill="#9ec12c"/>
<circle cx="322.8" cy="167.0" r="1.3" fill="#9ec12c"/>
<circle cx="324.2" cy="159.8" r="1.3" fill="#9ec12c"/>
<circle cx="318.4" cy="169.8" r="1.3" fill="#9ec12c"/>
<circle cx="319.2" cy="167.4" r="1.3" fill="#9ec12c"/>
<circle cx="321.2" cy="146.7" r="1.3" fill="#9ec12c"/>
<circle cx="321.5" cy="164.0" r="1.3" fill="#9ec12c"/>
<circle cx="314.5" cy="164.6" r="1.3" fill="#9ec12c"/>
<circle cx="319.2" cy="165.6" r="1.3" fill="#9ec12c"/>
<circle cx="320.3" cy="156.6" r="1.3" fill="#9ec12c"/>
<circle cx="312.6" cy="155.2" r="1.3" fill="#9ec12c"/>
<circle cx="324.9" cy="167.3" r="1.3" fill="#9ec12c"/>
<circle cx="319.8" cy="159.8" r="1.3" fill="#9ec12c"/>
<circle cx="322.5" cy="155.9" r="1.3" fill="#9ec12c"/>
<circle cx="323.6" cy="164.8" r="1.3" fill="#9ec12c"/>
<circle cx="316.6" cy="161.9" r="1.3" fill="#9ec12c"/>
<circle cx="315.0" cy="167.6" r="1.3" fill="#9ec12c"/>
<circle cx="316.7" cy="169.4" r="1.3" fill="#9ec12c"/>
<circle cx="323.6" cy="169.1" r="1.3" fill="#9ec12c"/>
<circle cx="311.5" cy="170.0" r="1.3" fill="#9ec12c"/>
<circle cx="317.1" cy="158.9" r="1.3" fill="#9ec12c"/>
<circle cx="317.7" cy="168.8" r="1.3" fill="#9ec12c"/>
<circle cx="311.8" cy="168.5" r="1.3" fill="#9ec12c"/>
<circle cx="323.1" cy="167.2" r="1.3" fill="#9ec12c"/>
<circle cx="315.5" cy="166.6" r="1.3" fill="#9ec12c"/>
<circle cx="320.6" cy="161.1" r="1.3" fill="#9ec12c"/>
<circle cx="324.0" cy="165.0" r="1.3" fill="#9ec12c"/>
<circle cx="325.5" cy="169.5" r="1.3" fill="#9ec12c"/>
<circle cx="322.1" cy="164.3" r="1.3" fill="#9ec12c"/>
<circle cx="313.3" cy="168.8" r="1.3" fill="#9ec12c"/>
<circle cx="318.0" cy="163.9" r="1.3" fill="#9ec12c"/>
<circle cx="314.9" cy="150.0" r="1.3" fill="#9ec12c"/>
<circle cx="316.3" cy="156.7" r="1.3" fill="#9ec12c"/>
<circle cx="314.7" cy="165.5" r="1.3" fill="#9ec12c"/>
<circle cx="322.7" cy="169.5" r="1.3" fill="#9ec12c"/>
<circle cx="320.3" cy="148.1" r="1.3" fill="#9ec12c"/>
<circle cx="306.5" cy="166.8" r="1.3" fill="#9ec12c"/>
<circle cx="319.0" cy="169.1" r="1.3" fill="#9ec12c"/>
<circle cx="324.3" cy="167.0" r="1.3" fill="#9ec12c"/>
<circle cx="321.7" cy="166.9" r="1.3" fill="#9ec12c"/>
<circle cx="308.6" cy="155.9" r="1.3" fill="#9ec12c"/>
<circle cx="324.4" cy="169.8" r="1.3" fill="#9ec12c"/>
<circle cx="319.5" cy="149.0" r="1.3" fill="#9ec12c"/>
<circle cx="324.7" cy="161.2" r="1.3" fill="#9ec12c"/>
<circle cx="317.2" cy="163.1" r="1.3" fill="#9ec12c"/>
<circle cx="319.4" cy="160.0" r="1.3" fill="#9ec12c"/>
<circle cx="322.4" cy="151.8" r="1.3" fill="#9ec12c"/>
<circle cx="321.1" cy="166.7" r="1.3" fill="#9ec12c"/>
<circle cx="321.9" cy="169.4" r="1.3" fill="#9ec12c"/>
<circle cx="312.1" cy="160.8" r="1.3" fill="#9ec12c"/>
<circle cx="318.6" cy="157.4" r="1.3" fill="#9ec12c"/>
<circle cx="319.1" cy="158.9" r="1.3" fill="#9ec12c"/>
<circle cx="321.3" cy="166.5" r="1.3" fill="#9ec12c"/>
<circle cx="321.6" cy="156.1" r="1.3" fill="#9ec12c"/>
<circle cx="313.8" cy="168.6" r="1.3" fill="#9ec12c"/>
<circle cx="325.3" cy="169.0" r="1.3" fill="#9ec12c"/>
<circle cx="310.7" cy="166.5" r="1.3" fill="#9ec12c"/>
<circle cx="317.9" cy="163.2" r="1.3" fill="#9ec12c"/>
<circle cx="323.5" cy="166.1" r="1.3" fill="#9ec12c"/>
<circle cx="314.5" cy="162.5" r="1.3" fill="#9ec12c"/>
<circle cx="322.7" cy="164.7" r="1.3" fill="#9ec12c"/>
<circle cx="321.4" cy="154.8" r="1.3" fill="#9ec12c"/>
<circle cx="313.9" cy="150.7" r="1.3" fill="#9ec12c"/>
<circle cx="320.2" cy="168.8" r="1.3" fill="#9ec12c"/>
<circle cx="325.5" cy="165.8" r="1.3" fill="#9ec12c"/>
<circle cx="322.6" cy="165.1" r="1.3" fill="#9ec12c"/>
<circle cx="319.6" cy="160.5" r="1.3" fill="#9ec12c"/>
<circle cx="316.0" cy="168.5" r="1.3" fill="#9ec12c"/>
<circle cx="325.0" cy="159.6" r="1.3" fill="#9ec12c"/>
<circle cx="311.6" cy="163.0" r="1.3" fill="#9ec12c"/>
<circle cx="324.6" cy="169.0" r="1.3" fill="#9ec12c"/>
<circle cx="325.3" cy="168.4" r="1.3" fill="#9ec12c"/>
<circle cx="320.2" cy="166.3" r="1.3" fill="#9ec12c"/>
<circle cx="317.4" cy="167.5" r="1.3" fill="#9ec12c"/>
<circle cx="314.4" cy="154.5" r="1.3" fill="#9ec12c"/>
<circle cx="310.5" cy="164.0" r="1.3" fill="#9ec12c"/>
<circle cx="314.8" cy="167.1" r="1.3" fill="#9ec12c"/>
<circle cx="313.0" cy="168.5" r="1.3" fill="#9ec12c"/>
<circle cx="320.7" cy="160.2" r="1.3" fill="#9ec12c"/>
<circle cx="322.6" cy="157.8" r="1.3" fill="#9ec12c"/>
<circle cx="316.2" cy="159.1" r="1.3" fill="#9ec12c"/>
<circle cx="317.2" cy="162.2" r="1.3" fill="#9ec12c"/>
<circle cx="311.7" cy="154.5" r="1.3" fill="#9ec12c"/>
<circle cx="318.0" cy="155.8" r="1.3" fill="#9ec12c"/>
<circle cx="323.1" cy="162.6" r="1.3" fill="#9ec12c"/>
<circle cx="317.1" cy="158.2" r="1.3" fill="#9ec12c"/>
<circle cx="322.8" cy="163.6" r="1.3" fill="#9ec12c"/>
<circle cx="309.5" cy="165.0" r="1.3" fill="#9ec12c"/>
<circle cx="320.9" cy="154.2" r="1.3" fill="#9ec12c"/>
<circle cx="321.2" cy="169.7" r="1.3" fill="#9ec12c"/>
<circle cx="315.5" cy="157.2" r="1.3" fill="#9ec12c"/>
<circle cx="308.7" cy="157.9" r="1.3" fill="#9ec12c"/>
<circle cx="319.7" cy="160.8" r="1.3" fill="#9ec12c"/>
<circle cx="307.8" cy="163.2" r="1.3" fill="#9ec12c"/>
<circle cx="324.5" cy="169.3" r="1.3" fill="#9ec12c"/>
<circle cx="324.4" cy="163.7" r="1.3" fill="#9ec12c"/>
<circle cx="310.2" cy="161.9" r="1.3" fill="#9ec12c"/>
<circle cx="322.8" cy="166.6" r="1.3" fill="#9ec12c"/>
<circle cx="325.4" cy="169.6" r="1.3" fill="#9ec12c"/>
<circle cx="320.8" cy="161.7" r="1.3" fill="#9ec12c"/>
<circle cx="312.8" cy="152.5" r="1.3" fill="#9ec12c"/>
<circle cx="325.0" cy="163.5" r="1.3" fill="#9ec12c"/>
<circle cx="317.2" cy="159.0" r="1.3" fill="#9ec12c"/>
<circle cx="321.4" cy="170.0" r="1.3" fill="#9ec12c"/>
<circle cx="323.1" cy="162.9" r="1.3" fill="#9ec12c"/>
<circle cx="324.9" cy="165.2" r="1.3" fill="#9ec12c"/>
<circle cx="325.3" cy="151.7" r="1.3" fill="#9ec12c"/>
<circle cx="318.2" cy="156.3" r="1.3" fill="#9ec12c"/>
<circle cx="315.8" cy="164.6" r="1.3" fill="#9ec12c"/>
<circle cx="314.4" cy="169.1" r="1.3" fill="#9ec12c"/>
<circle cx="316.1" cy="157.2" r="1.3" fill="#9ec12c"/>
<circle cx="317.9" cy="167.5" r="1.3" fill="#9ec12c"/>
<circle cx="302.0" cy="161.5" r="1.3" fill="#9ec12c"/>
<circle cx="309.8" cy="165.3" r="1.3" fill="#9ec12c"/>
<circle cx="308.6" cy="153.0" r="1.3" fill="#9ec12c"/>
<circle cx="305.6" cy="169.2" r="1.3" fill="#9ec12c"/>
<circle cx="307.8" cy="156.9" r="1.3" fill="#9ec12c"/>
<circle cx="304.1" cy="169.9" r="1.3" fill="#9ec12c"/>
<circle cx="306.5" cy="165.1" r="1.3" fill="#9ec12c"/>
<circle cx="298.6" cy="159.7" r="1.3" fill="#9ec12c"/>
<circle cx="309.9" cy="157.3" r="1.3" fill="#9ec12c"/>
<circle cx="307.4" cy="151.9" r="1.3" fill="#9ec12c"/>
<circle cx="298.9" cy="151.8" r="1.3" fill="#9ec12c"/>
<circle cx="300.2" cy="162.6" r="1.3" fill="#9ec12c"/>
<circle cx="318.7" cy="104.3" r="1.3" fill="#9ec12c"/>
<circle cx="321.0" cy="102.4" r="1.3" fill="#9ec12c"/>
<circle cx="322.8" cy="111.9" r="1.3" fill="#9ec12c"/>
<circle cx="321.4" cy="119.9" r="1.3" fill="#9ec12c"/>
<circle cx="314.0" cy="122.8" r="1.3" fill="#9ec12c"/>
<circle cx="314.5" cy="123.8" r="1.3" fill="#9ec12c"/>
<circle cx="304.3" cy="122.4" r="1.3" fill="#9ec12c"/>
<circle cx="328.9" cy="119.6" r="1.3" fill="#9ec12c"/>
<circle cx="336.7" cy="118.0" r="1.3" fill="#9ec12c"/>
<circle cx="334.9" cy="121.9" r="1.3" fill="#9ec12c"/>
<circle cx="330.7" cy="95.0" r="1.3" fill="#9ec12c"/>
<circle cx="299.5" cy="131.4" r="1.3" fill="#9ec12c"/>
<circle cx="317.3" cy="131.2" r="1.3" fill="#9ec12c"/>
<circle cx="319.6" cy="140.0" r="1.3" fill="#9ec12c"/>
<circle cx="315.2" cy="142.8" r="1.3" fill="#9ec12c"/>
<circle cx="335.4" cy="129.8" r="1.3" fill="#9ec12c"/>
<circle cx="334.9" cy="126.5" r="1.3" fill="#9ec12c"/>
<circle cx="323.2" cy="69.8" r="1.3" fill="#9ec12c"/>
<circle cx="288.3" cy="76.2" r="1.3" fill="#9ec12c"/>
<circle cx="326.4" cy="84.2" r="1.3" fill="#9ec12c"/>
<circle cx="330.4" cy="94.2" r="1.3" fill="#9ec12c"/>
<circle cx="282.0" cy="128.2" r="1.3" fill="#9ec12c"/>
<circle cx="310.0" cy="122.0" r="1.3" fill="#9ec12c"/>
<circle cx="306.0" cy="137.0" r="1.3" fill="#9ec12c"/>
<circle cx="370.6" cy="159.2" r="1.3" fill="#4b82d2"/>
<circle cx="373.8" cy="158.7" r="1.3" fill="#4b82d2"/>
<circle cx="360.8" cy="165.9" r="1.3" fill="#4b82d2"/>
<circle cx="374.5" cy="167.7" r="1.3" fill="#4b82d2"/>
<circle cx="359.1" cy="159.1" r="1.3" fill="#4b82d2"/>
<circle cx="374.6" cy="160.5" r="1.3" fill="#4b82d2"/>
<circle cx="374.1" cy="159.5" r="1.3" fill="#4b82d2"/>
<circle cx="355.7" cy="166.2" r="1.3" fill="#4b82d2"/>
<circle cx="372.7" cy="167.4" r="1.3" fill="#4b82d2"/>
<circle cx="368.9" cy="168.0" r="1.3" fill="#4b82d2"/>
<circle cx="368.9" cy="159.1" r="1.3" fill="#4b82d2"/>
<circle cx="372.2" cy="158.3" r="1.3" fill="#4b82d2"/>
<circle cx="364.9" cy="166.5" r="1.3" fill="#4b82d2"/>
<circle cx="364.2" cy="159.1" r="1.3" fill="#4b82d2"/>
<circle cx="360.8" cy="166.3" r="1.3" fill="#4b82d2"/>
<circle cx="372.8" cy="165.4" r="1.3" fill="#4b82d2"/>
<circle cx="373.6" cy="163.8" r="1.3" fill="#4b82d2"/>
<circle cx="355.9" cy="168.2" r="1.3" fill="#4b82d2"/>
<circle cx="370.5" cy="167.7" r="1.3" fill="#4b82d2"/>
<circle cx="358.6" cy="167.7" r="1.3" fill="#4b82d2"/>
<circle cx="356.4" cy="167.7" r="1.3" fill="#4b82d2"/>
<circle cx="356.7" cy="164.5" r="1.3" fill="#4b82d2"/>
<circle cx="365.8" cy="169.3" r="1.3" fill="#4b82d2"/>
<circle cx="358.7" cy="160.6" r="1.3" fill="#4b82d2"/>
<circle cx="357.8" cy="168.7" r="1.3" fill="#4b82d2"/>
<circle cx="354.4" cy="165.5" r="1.3" fill="#4b82d2"/>
<circle cx="359.8" cy="162.7" r="1.3" fill="#4b82d2"/>
<circle cx="370.6" cy="169.0" r="1.3" fill="#4b82d2"/>
<circle cx="352.5" cy="165.9" r="1.3" fill="#4b82d2"/>
<circle cx="363.6" cy="163.8" r="1.3" fill="#4b82d2"/>
<circle cx="366.5" cy="164.0" r="1.3" fill="#4b82d2"/>
<circle cx="353.2" cy="158.8" r="1.3" fill="#4b82d2"/>
<circle cx="359.1" cy="160.5" r="1.3" fill="#4b82d2"/>
<circle cx="373.8" cy="169.2" r="1.3" fill="#4b82d2"/>
<circle cx="375.9" cy="159.7" r="1.3" fill="#4b82d2"/>
<circle cx="372.4" cy="164.0" r="1.3" fill="#4b82d2"/>
<circle cx="356.1" cy="162.2" r="1.3" fill="#4b82d2"/>
<circle cx="370.3" cy="168.8" r="1.3" fill="#4b82d2"/>
<circle cx="362.8" cy="165.1" r="1.3" fill="#4b82d2"/>
<circle cx="356.1" cy="161.8" r="1.3" fill="#4b82d2"/>
<circle cx="363.5" cy="160.3" r="1.3" fill="#4b82d2"/>
<circle cx="374.1" cy="160.2" r="1.3" fill="#4b82d2"/>
<circle cx="373.1" cy="168.2" r="1.3" fill="#4b82d2"/>
<circle cx="361.4" cy="159.8" r="1.3" fill="#4b82d2"/>
<circle cx="353.5" cy="163.8" r="1.3" fill="#4b82d2"/>
<circle cx="373.6" cy="162.3" r="1.3" fill="#4b82d2"/>
<circle cx="375.7" cy="159.5" r="1.3" fill="#4b82d2"/>
<circle cx="364.3" cy="166.0" r="1.3" fill="#4b82d2"/>
<circle cx="357.4" cy="158.3" r="1.3" fill="#4b82d2"/>
<circle cx="365.1" cy="159.0" r="1.3" fill="#4b82d2"/>
<circle cx="368.7" cy="160.2" r="1.3" fill="#4b82d2"/>
<circle cx="363.6" cy="166.3" r="1.3" fill="#4b82d2"/>
<circle cx="360.5" cy="164.3" r="1.3" fill="#4b82d2"/>
<circle cx="357.9" cy="168.7" r="1.3" fill="#4b82d2"/>
<circle cx="359.1" cy="160.9" r="1.3" fill="#4b82d2"/>
<circle cx="353.2" cy="158.8" r="1.3" fill="#4b82d2"/>
<circle cx="358.1" cy="168.8" r="1.3" fill="#4b82d2"/>
<circle cx="374.9" cy="161.1" r="1.3" fill="#4b82d2"/>
<circle cx="352.2" cy="161.9" r="1.3" fill="#4b82d2"/>
<circle cx="369.5" cy="169.8" r="1.3" fill="#4b82d2"/>
<circle cx="370.9" cy="158.4" r="1.3" fill="#4b82d2"/>
<circle cx="361.7" cy="165.0" r="1.3" fill="#4b82d2"/>
<circle cx="366.3" cy="167.6" r="1.3" fill="#4b82d2"/>
<circle cx="357.3" cy="169.9" r="1.3" fill="#4b82d2"/>
<circle cx="368.0" cy="160.6" r="1.3" fill="#4b82d2"/>
<circle cx="369.0" cy="166.8" r="1.3" fill="#4b82d2"/>
<circle cx="369.6" cy="164.5" r="1.3" fill="#4b82d2"/>
<circle cx="363.8" cy="168.5" r="1.3" fill="#4b82d2"/>
<circle cx="375.3" cy="163.2" r="1.3" fill="#4b82d2"/>
<circle cx="372.8" cy="166.1" r="1.3" fill="#4b82d2"/>
<circle cx="365.7" cy="160.2" r="1.3" fill="#4b82d2"/>
<circle cx="368.4" cy="162.3" r="1.3" fill="#4b82d2"/>
<circle cx="358.6" cy="161.5" r="1.3" fill="#4b82d2"/>
<circle cx="374.6" cy="167.8" r="1.3" fill="#4b82d2"/>
<circle cx="367.5" cy="169.6" r="1.3" fill="#4b82d2"/>
<circle cx="373.5" cy="159.0" r="1.3" fill="#4b82d2"/>
<circle cx="358.9" cy="158.1" r="1.3" fill="#4b82d2"/>
<circle cx="375.6" cy="162.7" r="1.3" fill="#4b82d2"/>
<circle cx="354.5" cy="158.3" r="1.3" fill="#4b82d2"/>
<circle cx="364.7" cy="161.7" r="1.3" fill="#4b82d2"/>
<circle cx="354.7" cy="163.2" r="1.3" fill="#4b82d2"/>
<circle cx="356.6" cy="165.8" r="1.3" fill="#4b82d2"/>
<circle cx="370.3" cy="166.6" r="1.3" fill="#4b82d2"/>
<circle cx="353.6" cy="164.9" r="1.3" fill="#4b82d2"/>
<circle cx="361.2" cy="168.2" r="1.3" fill="#4b82d2"/>
<circle cx="356.6" cy="165.7" r="1.3" fill="#4b82d2"/>
<circle cx="372.4" cy="164.6" r="1.3" fill="#4b82d2"/>
<circle cx="354.0" cy="169.9" r="1.3" fill="#4b82d2"/>
<circle cx="360.1" cy="166.1" r="1.3" fill="#4b82d2"/>
<circle cx="372.5" cy="167.5" r="1.3" fill="#4b82d2"/>
<circle cx="368.5" cy="162.8" r="1.3" fill="#4b82d2"/>
<circle cx="368.9" cy="160.1" r="1.3" fill="#4b82d2"/>
<circle cx="375.8" cy="163.1" r="1.3" fill="#4b82d2"/>
<circle cx="352.6" cy="162.4" r="1.3" fill="#4b82d2"/>
<circle cx="368.0" cy="163.1" r="1.3" fill="#4b82d2"/>
<circle cx="369.9" cy="167.8" r="1.3" fill="#4b82d2"/>
<circle cx="370.0" cy="166.4" r="1.3" fill="#4b82d2"/>
<circle cx="369.1" cy="159.6" r="1.3" fill="#4b82d2"/>
<circle cx="353.7" cy="157.9" r="1.3" fill="#4b82d2"/>
<circle cx="354.0" cy="168.6" r="1.3" fill="#4b82d2"/>
<circle cx="370.5" cy="170.0" r="1.3" fill="#4b82d2"/>
<circle cx="366.7" cy="157.6" r="1.3" fill="#4b82d2"/>
<circle cx="358.3" cy="159.3" r="1.3" fill="#4b82d2"/>
<circle cx="352.2" cy="163.2" r="1.3" fill="#4b82d2"/>
<circle cx="364.8" cy="160.0" r="1.3" fill="#4b82d2"/>
<circle cx="354.2" cy="163.4" r="1.3" fill="#4b82d2"/>
<circle cx="370.0" cy="158.6" r="1.3" fill="#4b82d2"/>
<circle cx="360.2" cy="167.9" r="1.3" fill="#4b82d2"/>
<circle cx="371.4" cy="165.5" r="1.3" fill="#4b82d2"/>
<circle cx="354.3" cy="162.3" r="1.3" fill="#4b82d2"/>
<circle cx="363.9" cy="168.2" r="1.3" fill="#4b82d2"/>
<circle cx="354.4" cy="161.6" r="1.3" fill="#4b82d2"/>
<circle cx="370.7" cy="167.7" r="1.3" fill="#4b82d2"/>
<circle cx="365.4" cy="161.7" r="1.3" fill="#4b82d2"/>
<circle cx="357.6" cy="160.2" r="1.3" fill="#4b82d2"/>
<circle cx="375.1" cy="165.7" r="1.3" fill="#4b82d2"/>
<circle cx="368.4" cy="157.2" r="1.3" fill="#4b82d2"/>
<circle cx="360.1" cy="162.8" r="1.3" fill="#4b82d2"/>
<circle cx="372.5" cy="161.0" r="1.3" fill="#4b82d2"/>
<circle cx="361.1" cy="169.9" r="1.3" fill="#4b82d2"/>
<circle cx="374.6" cy="169.2" r="1.3" fill="#4b82d2"/>
<circle cx="359.1" cy="161.6" r="1.3" fill="#4b82d2"/>
<circle cx="375.6" cy="158.0" r="1.3" fill="#4b82d2"/>
<circle cx="353.5" cy="162.9" r="1.3" fill="#4b82d2"/>
<circle cx="369.6" cy="158.5" r="1.3" fill="#4b82d2"/>
<circle cx="359.0" cy="169.7" r="1.3" fill="#4b82d2"/>
<circle cx="362.2" cy="158.8" r="1.3" fill="#4b82d2"/>
<circle cx="367.3" cy="159.0" r="1.3" fill="#4b82d2"/>
<circle cx="353.1" cy="162.9" r="1.3" fill="#4b82d2"/>
<circle cx="357.4" cy="165.7" r="1.3" fill="#4b82d2"/>
<circle cx="354.5" cy="161.7" r="1.3" fill="#4b82d2"/>
<circle cx="369.8" cy="167.9" r="1.3" fill="#4b82d2"/>
<circle cx="357.3" cy="162.3" r="1.3" fill="#4b82d2"/>
<circle cx="364.0" cy="161.9" r="1.3" fill="#4b82d2"/>
<circle cx="359.9" cy="164.2" r="1.3" fill="#4b82d2"/>
<circle cx="357.7" cy="167.7" r="1.3" fill="#4b82d2"/>
<circle cx="374.4" cy="170.0" r="1.3" fill="#4b82d2"/>
<circle cx="364.2" cy="168.4" r="1.3" fill="#4b82d2"/>
<circle cx="367.6" cy="159.7" r="1.3" fill="#4b82d2"/>
<circle cx="368.9" cy="168.3" r="1.3" fill="#4b82d2"/>
<circle cx="371.7" cy="169.6" r="1.3" fill="#4b82d2"/>
<circle cx="358.3" cy="167.9" r="1.3" fill="#4b82d2"/>
<circle cx="353.9" cy="164.5" r="1.3" fill="#4b82d2"/>
<circle cx="363.2" cy="163.5" r="1.3" fill="#4b82d2"/>
<circle cx="356.1" cy="159.0" r="1.3" fill="#4b82d2"/>
<circle cx="352.5" cy="159.4" r="1.3" fill="#4b82d2"/>
<circle cx="374.1" cy="157.5" r="1.3" fill="#4b82d2"/>
<circle cx="367.0" cy="158.9" r="1.3" fill="#4b82d2"/>
<circle cx="361.9" cy="165.4" r="1.3" fill="#4b82d2"/>
<circle cx="355.3" cy="169.0" r="1.3" fill="#4b82d2"/>
<circle cx="370.3" cy="157.7" r="1.3" fill="#4b82d2"/>
<circle cx="364.8" cy="168.1" r="1.3" fill="#4b82d2"/>
<circle cx="356.2" cy="163.0" r="1.3" fill="#4b82d2"/>
<circle cx="375.6" cy="167.7" r="1.3" fill="#4b82d2"/>
<circle cx="374.8" cy="160.0" r="1.3" fill="#4b82d2"/>
<circle cx="374.3" cy="168.4" r="1.3" fill="#4b82d2"/>
<circle cx="371.8" cy="165.8" r="1.3" fill="#4b82d2"/>
<circle cx="364.8" cy="168.2" r="1.3" fill="#4b82d2"/>
<circle cx="359.2" cy="159.3" r="1.3" fill="#4b82d2"/>
<circle cx="367.6" cy="163.0" r="1.3" fill="#4b82d2"/>
<circle cx="355.6" cy="162.9" r="1.3" fill="#4b82d2"/>
<circle cx="366.8" cy="167.1" r="1.3" fill="#4b82d2"/>
<circle cx="353.6" cy="168.6" r="1.3" fill="#4b82d2"/>
<circle cx="352.3" cy="159.4" r="1.3" fill="#4b82d2"/>
<circle cx="369.2" cy="160.8" r="1.3" fill="#4b82d2"/>
<circle cx="360.2" cy="161.3" r="1.3" fill="#4b82d2"/>
<circle cx="368.7" cy="157.0" r="1.3" fill="#4b82d2"/>
<circle cx="370.7" cy="163.9" r="1.3" fill="#4b82d2"/>
<circle cx="372.0" cy="168.6" r="1.3" fill="#4b82d2"/>
<circle cx="366.8" cy="163.2" r="1.3" fill="#4b82d2"/>
<circle cx="372.3" cy="167.4" r="1.3" fill="#4b82d2"/>
<circle cx="367.8" cy="164.5" r="1.3" fill="#4b82d2"/>
<circle cx="374.3" cy="165.3" r="1.3" fill="#4b82d2"/>
<circle cx="373.5" cy="163.8" r="1.3" fill="#4b82d2"/>
<circle cx="353.0" cy="158.3" r="1.3" fill="#4b82d2"/>
<circle cx="358.4" cy="160.1" r="1.3" fill="#4b82d2"/>
<circle cx="361.3" cy="165.9" r="1.3" fill="#4b82d2"/>
<circle cx="358.1" cy="160.0" r="1.3" fill="#4b82d2"/>
<circle cx="356.2" cy="159.3" r="1.3" fill="#4b82d2"/>
<circle cx="373.0" cy="160.7" r="1.3" fill="#4b82d2"/>
<circle cx="352.6" cy="164.0" r="1.3" fill="#4b82d2"/>
<circle cx="356.4" cy="158.7" r="1.3" fill="#4b82d2"/>
<circle cx="370.2" cy="164.8" r="1.3" fill="#4b82d2"/>
<circle cx="357.4" cy="169.3" r="1.3" fill="#4b82d2"/>
<circle cx="358.2" cy="167.6" r="1.3" fill="#4b82d2"/>
<circle cx="375.2" cy="162.5" r="1.3" fill="#4b82d2"/>
<circle cx="370.3" cy="166.3" r="1.3" fill="#4b82d2"/>
<circle cx="362.8" cy="165.8" r="1.3" fill="#4b82d2"/>
<circle cx="355.3" cy="166.0" r="1.3" fill="#4b82d2"/>
<circle cx="358.5" cy="168.5" r="1.3" fill="#4b82d2"/>
<circle cx="375.5" cy="169.4" r="1.3" fill="#4b82d2"/>
<circle cx="371.0" cy="169.7" r="1.3" fill="#4b82d2"/>
<circle cx="353.7" cy="162.2" r="1.3" fill="#4b82d2"/>
<circle cx="369.0" cy="167.0" r="1.3" fill="#4b82d2"/>
<circle cx="361.0" cy="165.3" r="1.3" fill="#4b82d2"/>
<circle cx="369.3" cy="158.1" r="1.3" fill="#4b82d2"/>
<circle cx="359.1" cy="162.9" r="1.3" fill="#4b82d2"/>
<circle cx="355.1" cy="160.1" r="1.3" fill="#4b82d2"/>
<circle cx="352.5" cy="160.9" r="1.3" fill="#4b82d2"/>
<circle cx="359.1" cy="157.8" r="1.3" fill="#4b82d2"/>
<circle cx="372.6" cy="169.6" r="1.3" fill="#4b82d2"/>
<circle cx="373.4" cy="166.3" r="1.3" fill="#4b82d2"/>
<circle cx="368.4" cy="157.8" r="1.3" fill="#4b82d2"/>
<circle cx="369.9" cy="165.2" r="1.3" fill="#4b82d2"/>
<circle cx="356.7" cy="157.9" r="1.3" fill="#4b82d2"/>
<circle cx="360.5" cy="168.6" r="1.3" fill="#4b82d2"/>
<circle cx="373.6" cy="169.7" r="1.3" fill="#4b82d2"/>
<circle cx="375.7" cy="158.7" r="1.3" fill="#4b82d2"/>
<circle cx="362.6" cy="165.9" r="1.3" fill="#4b82d2"/>
<circle cx="370.6" cy="164.6" r="1.3" fill="#4b82d2"/>
<circle cx="374.4" cy="158.1" r="1.3" fill="#4b82d2"/>
<circle cx="375.9" cy="168.2" r="1.3" fill="#4b82d2"/>
<circle cx="359.1" cy="157.5" r="1.3" fill="#4b82d2"/>
<circle cx="367.7" cy="166.1" r="1.3" fill="#4b82d2"/>
<circle cx="361.4" cy="167.9" r="1.3" fill="#4b82d2"/>
<circle cx="363.2" cy="168.0" r="1.3" fill="#4b82d2"/>
<circle cx="363.1" cy="164.5" r="1.3" fill="#4b82d2"/>
<circle cx="358.7" cy="165.2" r="1.3" fill="#4b82d2"/>
<circle cx="352.5" cy="158.9" r="1.3" fill="#4b82d2"/>
<circle cx="370.4" cy="169.7" r="1.3" fill="#4b82d2"/>
<circle cx="368.7" cy="169.8" r="1.3" fill="#4b82d2"/>
<circle cx="372.2" cy="168.9" r="1.3" fill="#4b82d2"/>
<circle cx="355.7" cy="163.2" r="1.3" fill="#4b82d2"/>
<circle cx="357.7" cy="160.6" r="1.3" fill="#4b82d2"/>
<circle cx="366.3" cy="165.0" r="1.3" fill="#4b82d2"/>
<circle cx="374.5" cy="163.1" r="1.3" fill="#4b82d2"/>
<circle cx="363.3" cy="162.7" r="1.3" fill="#4b82d2"/>
<circle cx="356.8" cy="169.9" r="1.3" fill="#4b82d2"/>
<circle cx="366.3" cy="167.9" r="1.3" fill="#4b82d2"/>
<circle cx="375.0" cy="157.0" r="1.3" fill="#4b82d2"/>
<circle cx="355.9" cy="152.2" r="1.3" fill="#4b82d2"/>
<circle cx="357.0" cy="137.4" r="1.3" fill="#4b82d2"/>
<circle cx="374.4" cy="148.6" r="1.3" fill="#4b82d2"/>
<circle cx="356.0" cy="154.4" r="1.3" fill="#4b82d2"/>
<circle cx="369.7" cy="158.0" r="1.3" fill="#4b82d2"/>
<circle cx="361.1" cy="154.5" r="1.3" fill="#4b82d2"/>
<circle cx="358.9" cy="152.4" r="1.3" fill="#4b82d2"/>
<circle cx="360.2" cy="149.8" r="1.3" fill="#4b82d2"/>
<circle cx="369.5" cy="149.6" r="1.3" fill="#4b82d2"/>
<circle cx="355.8" cy="147.3" r="1.3" fill="#4b82d2"/>
<circle cx="373.1" cy="149.0" r="1.3" fill="#4b82d2"/>
<circle cx="367.1" cy="157.6" r="1.3" fill="#4b82d2"/>
<circle cx="359.7" cy="153.5" r="1.3" fill="#4b82d2"/>
<circle cx="360.5" cy="137.0" r="1.3" fill="#4b82d2"/>
<circle cx="369.1" cy="157.7" r="1.3" fill="#4b82d2"/>
<circle cx="367.9" cy="142.8" r="1.3" fill="#4b82d2"/>
<circle cx="361.7" cy="149.0" r="1.3" fill="#4b82d2"/>
<circle cx="362.3" cy="143.5" r="1.3" fill="#4b82d2"/>
<circle cx="364.7" cy="152.1" r="1.3" fill="#4b82d2"/>
<circle cx="374.3" cy="151.3" r="1.3" fill="#4b82d2"/>
<circle cx="366.3" cy="148.0" r="1.3" fill="#4b82d2"/>
<circle cx="371.5" cy="138.4" r="1.3" fill="#4b82d2"/>
<circle cx="368.6" cy="152.2" r="1.3" fill="#4b82d2"/>
<circle cx="366.9" cy="156.8" r="1.3" fill="#4b82d2"/>
<circle cx="365.3" cy="157.6" r="1.3" fill="#4b82d2"/>
<circle cx="368.7" cy="139.1" r="1.3" fill="#4b82d2"/>
<circle cx="365.3" cy="152.5" r="1.3" fill="#4b82d2"/>
<circle cx="370.7" cy="156.3" r="1.3" fill="#4b82d2"/>
<circle cx="359.2" cy="146.2" r="1.3" fill="#4b82d2"/>
<circle cx="362.3" cy="140.0" r="1.3" fill="#4b82d2"/>
<circle cx="372.9" cy="146.1" r="1.3" fill="#4b82d2"/>
<circle cx="363.1" cy="155.7" r="1.3" fill="#4b82d2"/>
<circle cx="372.8" cy="150.5" r="1.3" fill="#4b82d2"/>
<circle cx="375.2" cy="153.5" r="1.3" fill="#4b82d2"/>
<circle cx="367.3" cy="157.8" r="1.3" fill="#4b82d2"/>
<circle cx="358.7" cy="136.9" r="1.3" fill="#4b82d2"/>
<circle cx="370.8" cy="149.4" r="1.3" fill="#4b82d2"/>
<circle cx="369.3" cy="156.0" r="1.3" fill="#4b82d2"/>
<circle cx="361.8" cy="139.0" r="1.3" fill="#4b82d2"/>
<circle cx="371.6" cy="136.4" r="1.3" fill="#4b82d2"/>
<circle cx="365.2" cy="140.8" r="1.3" fill="#4b82d2"/>
<circle cx="355.7" cy="153.8" r="1.3" fill="#4b82d2"/>
<circle cx="355.8" cy="155.0" r="1.3" fill="#4b82d2"/>
<circle cx="360.0" cy="147.8" r="1.3" fill="#4b82d2"/>
<circle cx="367.7" cy="146.5" r="1.3" fill="#4b82d2"/>
<circle cx="371.1" cy="139.2" r="1.3" fill="#4b82d2"/>
<circle cx="358.7" cy="136.9" r="1.3" fill="#4b82d2"/>
<circle cx="357.1" cy="138.3" r="1.3" fill="#4b82d2"/>
<circle cx="368.1" cy="151.9" r="1.3" fill="#4b82d2"/>
<circle cx="363.7" cy="146.4" r="1.3" fill="#4b82d2"/>
<circle cx="364.2" cy="156.2" r="1.3" fill="#4b82d2"/>
<circle cx="372.0" cy="148.0" r="1.3" fill="#4b82d2"/>
<circle cx="375.2" cy="157.1" r="1.3" fill="#4b82d2"/>
<circle cx="376.2" cy="156.4" r="1.3" fill="#4b82d2"/>
<circle cx="371.9" cy="156.2" r="1.3" fill="#4b82d2"/>
<circle cx="354.7" cy="152.8" r="1.3" fill="#4b82d2"/>
<circle cx="357.9" cy="152.6" r="1.3" fill="#4b82d2"/>
<circle cx="367.2" cy="143.5" r="1.3" fill="#4b82d2"/>
<circle cx="376.0" cy="157.0" r="1.3" fill="#4b82d2"/>
<circle cx="355.9" cy="156.4" r="1.3" fill="#4b82d2"/>
<circle cx="365.8" cy="144.7" r="1.3" fill="#4b82d2"/>
<circle cx="363.5" cy="144.3" r="1.3" fill="#4b82d2"/>
<circle cx="363.7" cy="143.4" r="1.3" fill="#4b82d2"/>
<circle cx="361.1" cy="143.2" r="1.3" fill="#4b82d2"/>
<circle cx="361.1" cy="144.6" r="1.3" fill="#4b82d2"/>
<circle cx="360.2" cy="147.2" r="1.3" fill="#4b82d2"/>
<circle cx="358.0" cy="142.6" r="1.3" fill="#4b82d2"/>
<circle cx="366.7" cy="156.9" r="1.3" fill="#4b82d2"/>
<circle cx="364.3" cy="154.6" r="1.3" fill="#4b82d2"/>
<circle cx="369.5" cy="142.6" r="1.3" fill="#4b82d2"/>
<circle cx="368.6" cy="155.0" r="1.3" fill="#4b82d2"/>
<circle cx="374.7" cy="147.7" r="1.3" fill="#4b82d2"/>
<circle cx="362.0" cy="153.6" r="1.3" fill="#4b82d2"/>
<circle cx="373.5" cy="150.0" r="1.3" fill="#4b82d2"/>
<circle cx="363.4" cy="140.3" r="1.3" fill="#4b82d2"/>
<circle cx="368.6" cy="144.6" r="1.3" fill="#4b82d2"/>
<circle cx="371.9" cy="149.7" r="1.3" fill="#4b82d2"/>
<circle cx="363.2" cy="153.4" r="1.3" fill="#4b82d2"/>
<circle cx="364.5" cy="141.0" r="1.3" fill="#4b82d2"/>
<circle cx="368.0" cy="144.7" r="1.3" fill="#4b82d2"/>
<circle cx="357.4" cy="149.8" r="1.3" fill="#4b82d2"/>
<circle cx="366.1" cy="139.4" r="1.3" fill="#4b82d2"/>
<circle cx="357.7" cy="143.8" r="1.3" fill="#4b82d2"/>
<circle cx="360.8" cy="136.5" r="1.3" fill="#4b82d2"/>
<circle cx="367.9" cy="144.5" r="1.3" fill="#4b82d2"/>
<circle cx="373.8" cy="138.6" r="1.3" fill="#4b82d2"/>
<circle cx="375.6" cy="147.3" r="1.3" fill="#4b82d2"/>
<circle cx="360.9" cy="143.4" r="1.3" fill="#4b82d2"/>
<circle cx="359.1" cy="140.1" r="1.3" fill="#4b82d2"/>
<circle cx="365.9" cy="156.8" r="1.3" fill="#4b82d2"/>
<circle cx="364.3" cy="149.0" r="1.3" fill="#4b82d2"/>
<circle cx="363.1" cy="145.9" r="1.3" fill="#4b82d2"/>
<circle cx="371.7" cy="157.3" r="1.3" fill="#4b82d2"/>
<circle cx="369.4" cy="141.4" r="1.3" fill="#4b82d2"/>
<circle cx="366.7" cy="143.3" r="1.3" fill="#4b82d2"/>
<circle cx="367.6" cy="137.7" r="1.3" fill="#4b82d2"/>
<circle cx="367.3" cy="151.3" r="1.3" fill="#4b82d2"/>
<circle cx="369.2" cy="149.1" r="1.3" fill="#4b82d2"/>
<circle cx="373.0" cy="138.3" r="1.3" fill="#4b82d2"/>
<circle cx="374.9" cy="150.4" r="1.3" fill="#4b82d2"/>
<circle cx="374.2" cy="140.3" r="1.3" fill="#4b82d2"/>
<circle cx="373.1" cy="150.2" r="1.3" fill="#4b82d2"/>
<circle cx="357.0" cy="152.0" r="1.3" fill="#4b82d2"/>
<circle cx="364.4" cy="153.3" r="1.3" fill="#4b82d2"/>
<circle cx="371.8" cy="154.6" r="1.3" fill="#4b82d2"/>
<circle cx="361.2" cy="150.0" r="1.3" fill="#4b82d2"/>
<circle cx="367.9" cy="155.5" r="1.3" fill="#4b82d2"/>
<circle cx="357.4" cy="140.5" r="1.3" fill="#4b82d2"/>
<circle cx="360.5" cy="136.7" r="1.3" fill="#4b82d2"/>
<circle cx="363.2" cy="156.7" r="1.3" fill="#4b82d2"/>
<circle cx="362.9" cy="135.7" r="1.3" fill="#4b82d2"/>
<circle cx="367.5" cy="132.8" r="1.3" fill="#4b82d2"/>
<circle cx="365.0" cy="124.7" r="1.3" fill="#4b82d2"/>
<circle cx="373.2" cy="136.6" r="1.3" fill="#4b82d2"/>
<circle cx="366.1" cy="126.0" r="1.3" fill="#4b82d2"/>
<circle cx="366.9" cy="134.4" r="1.3" fill="#4b82d2"/>
<circle cx="372.4" cy="122.3" r="1.3" fill="#4b82d2"/>
<circle cx="369.3" cy="128.8" r="1.3" fill="#4b82d2"/>
<circle cx="362.7" cy="129.6" r="1.3" fill="#4b82d2"/>
<circle cx="364.8" cy="136.2" r="1.3" fill="#4b82d2"/>
<circle cx="369.9" cy="135.2" r="1.3" fill="#4b82d2"/>
<circle cx="364.6" cy="130.3" r="1.3" fill="#4b82d2"/>
<circle cx="365.2" cy="121.9" r="1.3" fill="#4b82d2"/>
<circle cx="370.1" cy="128.3" r="1.3" fill="#4b82d2"/>
<circle cx="368.4" cy="127.4" r="1.3" fill="#4b82d2"/>
<circle cx="365.5" cy="137.9" r="1.3" fill="#4b82d2"/>
<circle cx="369.3" cy="132.6" r="1.3" fill="#4b82d2"/>
<circle cx="370.2" cy="127.9" r="1.3" fill="#4b82d2"/>
<circle cx="362.5" cy="127.2" r="1.3" fill="#4b82d2"/>
<circle cx="365.6" cy="134.0" r="1.3" fill="#4b82d2"/>
<circle cx="366.0" cy="122.6" r="1.3" fill="#4b82d2"/>
<circle cx="373.4" cy="134.9" r="1.3" fill="#4b82d2"/>
<circle cx="362.7" cy="132.4" r="1.3" fill="#4b82d2"/>
<circle cx="366.5" cy="128.4" r="1.3" fill="#4b82d2"/>
<circle cx="364.5" cy="133.1" r="1.3" fill="#4b82d2"/>
<circle cx="371.0" cy="127.8" r="1.3" fill="#4b82d2"/>
<circle cx="372.5" cy="123.4" r="1.3" fill="#4b82d2"/>
<circle cx="362.7" cy="128.1" r="1.3" fill="#4b82d2"/>
<circle cx="382.7" cy="164.3" r="1.3" fill="#4b82d2"/>
<circle cx="379.9" cy="160.0" r="1.3" fill="#4b82d2"/>
<circle cx="386.0" cy="166.3" r="1.3" fill="#4b82d2"/>
<circle cx="396.6" cy="150.9" r="1.3" fill="#4b82d2"/>
<circle cx="379.1" cy="167.3" r="1.3" fill="#4b82d2"/>
<circle cx="376.1" cy="167.9" r="1.3" fill="#4b82d2"/>
<circle cx="393.7" cy="150.2" r="1.3" fill="#4b82d2"/>
<circle cx="388.3" cy="159.5" r="1.3" fill="#4b82d2"/>
<circle cx="377.1" cy="152.4" r="1.3" fill="#4b82d2"/>
<circle cx="382.4" cy="160.6" r="1.3" fill="#4b82d2"/>
<circle cx="388.8" cy="151.8" r="1.3" fill="#4b82d2"/>
<circle cx="383.7" cy="167.7" r="1.3" fill="#4b82d2"/>
<circle cx="403.1" cy="153.7" r="1.3" fill="#4b82d2"/>
<circle cx="390.6" cy="163.4" r="1.3" fill="#4b82d2"/>
<circle cx="398.8" cy="163.1" r="1.3" fill="#4b82d2"/>
<circle cx="384.2" cy="156.4" r="1.3" fill="#4b82d2"/>
<circle cx="386.0" cy="154.3" r="1.3" fill="#4b82d2"/>
<circle cx="387.7" cy="168.3" r="1.3" fill="#4b82d2"/>
<circle cx="378.3" cy="150.8" r="1.3" fill="#4b82d2"/>
<circle cx="379.2" cy="155.1" r="1.3" fill="#4b82d2"/>
<circle cx="383.3" cy="156.5" r="1.3" fill="#4b82d2"/>
<circle cx="397.3" cy="161.7" r="1.3" fill="#4b82d2"/>
<circle cx="380.3" cy="157.4" r="1.3" fill="#4b82d2"/>
<circle cx="386.6" cy="152.2" r="1.3" fill="#4b82d2"/>
<circle cx="383.2" cy="161.4" r="1.3" fill="#4b82d2"/>
<circle cx="384.6" cy="164.5" r="1.3" fill="#4b82d2"/>
<circle cx="377.8" cy="164.1" r="1.3" fill="#4b82d2"/>
<circle cx="381.6" cy="159.8" r="1.3" fill="#4b82d2"/>
<circle cx="377.2" cy="156.1" r="1.3" fill="#4b82d2"/>
<circle cx="376.7" cy="150.2" r="1.3" fill="#4b82d2"/>
<circle cx="378.3" cy="160.7" r="1.3" fill="#4b82d2"/>
<circle cx="380.8" cy="162.6" r="1.3" fill="#4b82d2"/>
<circle cx="382.1" cy="158.8" r="1.3" fill="#4b82d2"/>
<circle cx="384.9" cy="169.2" r="1.3" fill="#4b82d2"/>
<circle cx="385.0" cy="154.0" r="1.3" fill="#4b82d2"/>
<circle cx="396.4" cy="166.3" r="1.3" fill="#4b82d2"/>
<circle cx="383.4" cy="164.4" r="1.3" fill="#4b82d2"/>
<circle cx="394.6" cy="168.0" r="1.3" fill="#4b82d2"/>
<circle cx="408.5" cy="168.5" r="1.3" fill="#4b82d2"/>
<circle cx="384.3" cy="154.7" r="1.3" fill="#4b82d2"/>
<circle cx="384.3" cy="168.4" r="1.3" fill="#4b82d2"/>
<circle cx="395.8" cy="158.1" r="1.3" fill="#4b82d2"/>
<circle cx="407.2" cy="163.6" r="1.3" fill="#4b82d2"/>
<circle cx="407.1" cy="169.1" r="1.3" fill="#4b82d2"/>
<circle cx="393.2" cy="161.9" r="1.3" fill="#4b82d2"/>
<circle cx="394.7" cy="161.7" r="1.3" fill="#4b82d2"/>
<circle cx="387.0" cy="151.4" r="1.3" fill="#4b82d2"/>
<circle cx="378.7" cy="161.9" r="1.3" fill="#4b82d2"/>
<circle cx="380.3" cy="154.8" r="1.3" fill="#4b82d2"/>
<circle cx="386.8" cy="157.8" r="1.3" fill="#4b82d2"/>
<circle cx="371.1" cy="104.2" r="1.3" fill="#4b82d2"/>
<circle cx="383.1" cy="102.8" r="1.3" fill="#4b82d2"/>
<circle cx="371.8" cy="111.9" r="1.3" fill="#4b82d2"/>
<circle cx="384.5" cy="110.4" r="1.3" fill="#4b82d2"/>
<circle cx="383.1" cy="113.6" r="1.3" fill="#4b82d2"/>
<circle cx="386.0" cy="115.5" r="1.3" fill="#4b82d2"/>
<circle cx="392.1" cy="116.6" r="1.3" fill="#4b82d2"/>
<circle cx="400.6" cy="109.0" r="1.3" fill="#4b82d2"/>
<circle cx="402.8" cy="109.0" r="1.3" fill="#4b82d2"/>
<circle cx="403.8" cy="114.1" r="1.3" fill="#4b82d2"/>
<circle cx="379.1" cy="120.4" r="1.3" fill="#4b82d2"/>
<circle cx="387.2" cy="123.3" r="1.3" fill="#4b82d2"/>
<circle cx="364.1" cy="123.3" r="1.3" fill="#4b82d2"/>
<circle cx="366.0" cy="121.8" r="1.3" fill="#4b82d2"/>
<circle cx="369.9" cy="125.0" r="1.3" fill="#4b82d2"/>
<circle cx="372.4" cy="123.9" r="1.3" fill="#4b82d2"/>
<circle cx="406.7" cy="122.1" r="1.3" fill="#4b82d2"/>
<circle cx="415.2" cy="122.8" r="1.3" fill="#4b82d2"/>
<circle cx="403.5" cy="123.9" r="1.3" fill="#4b82d2"/>
<circle cx="407.2" cy="129.1" r="1.3" fill="#4b82d2"/>
<circle cx="410.1" cy="128.7" r="1.3" fill="#4b82d2"/>
<circle cx="399.9" cy="132.3" r="1.3" fill="#4b82d2"/>
<circle cx="392.8" cy="134.5" r="1.3" fill="#4b82d2"/>
<circle cx="392.3" cy="138.9" r="1.3" fill="#4b82d2"/>
<circle cx="392.8" cy="141.4" r="1.3" fill="#4b82d2"/>
<circle cx="403.5" cy="141.8" r="1.3" fill="#4b82d2"/>
<circle cx="408.6" cy="136.0" r="1.3" fill="#4b82d2"/>
<circle cx="410.8" cy="137.0" r="1.3" fill="#4b82d2"/>
<circle cx="427.3" cy="137.7" r="1.3" fill="#4b82d2"/>
<circle cx="417.4" cy="144.0" r="1.3" fill="#4b82d2"/>
<circle cx="418.4" cy="145.5" r="1.3" fill="#4b82d2"/>
<circle cx="412.0" cy="148.1" r="1.3" fill="#4b82d2"/>
<circle cx="415.9" cy="151.3" r="1.3" fill="#4b82d2"/>
<circle cx="400.3" cy="148.4" r="1.3" fill="#4b82d2"/>
<circle cx="433.1" cy="154.7" r="1.3" fill="#4b82d2"/>
<circle cx="429.5" cy="165.9" r="1.3" fill="#4b82d2"/>
<circle cx="413.0" cy="156.4" r="1.3" fill="#4b82d2"/>
<circle cx="408.3" cy="158.3" r="1.3" fill="#4b82d2"/>
<circle cx="404.2" cy="161.5" r="1.3" fill="#4b82d2"/>
<circle cx="408.6" cy="165.9" r="1.3" fill="#4b82d2"/>
<circle cx="411.5" cy="163.0" r="1.3" fill="#4b82d2"/>
<circle cx="397.6" cy="44.8" r="1.3" fill="#4b82d2"/>
<circle cx="455.3" cy="105.0" r="1.3" fill="#4b82d2"/>
<circle cx="462.3" cy="118.0" r="1.3" fill="#4b82d2"/>
<circle cx="467.7" cy="132.3" r="1.3" fill="#4b82d2"/>
<circle cx="455.3" cy="139.6" r="1.3" fill="#4b82d2"/>
<circle cx="475.5" cy="159.6" r="1.3" fill="#4b82d2"/>
<circle cx="427.3" cy="137.7" r="1.3" fill="#4b82d2"/>
<circle cx="433.4" cy="154.7" r="1.3" fill="#4b82d2"/>
<circle cx="449.6" cy="157.6" r="1.3" fill="#4b82d2"/>
<circle cx="451.0" cy="164.5" r="1.3" fill="#4b82d2"/>
<circle cx="429.5" cy="166.0" r="1.3" fill="#4b82d2"/>
<text x="312.4" y="65.3" font-size="9.3" fill="#9ec12c" textLength="18.4" lengthAdjust="spacingAndGlyphs">TTI2</text>
<text x="265.6" y="74.4" font-size="9.3" fill="#9ec12c" textLength="20.3" lengthAdjust="spacingAndGlyphs">TLE2</text>
<text x="282.0" y="89.0" font-size="9.3" fill="#9ec12c" textLength="42.0" lengthAdjust="spacingAndGlyphs">IRAK1BP1</text>
<text x="251.4" y="126.6" font-size="9.3" fill="#9ec12c" textLength="28.4" lengthAdjust="spacingAndGlyphs">OXCT1</text>
<text x="401.4" y="48.6" font-size="9.3" fill="#4b82d2" textLength="16.1" lengthAdjust="spacingAndGlyphs">SP6</text>
<text x="459.8" y="108.5" font-size="9.3" fill="#4b82d2" textLength="25.4" lengthAdjust="spacingAndGlyphs">MSLN</text>
<text x="466.4" y="121.7" font-size="9.3" fill="#4b82d2" textLength="28.1" lengthAdjust="spacingAndGlyphs">PRAP1</text>
<text x="471.7" y="135.3" font-size="9.3" fill="#4b82d2" textLength="27.6" lengthAdjust="spacingAndGlyphs">KRT23</text>
<text x="457.4" y="147.7" font-size="9.3" fill="#4b82d2" textLength="21.5" lengthAdjust="spacingAndGlyphs">IFI27</text>
<text x="428.2" y="151.3" font-size="9.3" fill="#4b82d2" textLength="27.3" lengthAdjust="spacingAndGlyphs">KRT20</text>
<text x="479.4" y="162.6" font-size="9.3" fill="#4b82d2" textLength="37.7" lengthAdjust="spacingAndGlyphs">SLC38A5</text>
<line x1="202.0" y1="170.5" x2="487.0" y2="170.5" stroke="#a8a8a8" stroke-width="1.6" stroke-dasharray="1.6 4.2"/>
<line x1="347.0" y1="18.0" x2="347.0" y2="211.0" stroke="#a8a8a8" stroke-width="1.6" stroke-dasharray="1.6 4.2"/>
<line x1="202.0" y1="18.7" x2="202.0" y2="213.6" stroke="#000" stroke-width="2"/>
<line x1="201.0" y1="212.6" x2="493.0" y2="212.6" stroke="#000" stroke-width="2"/>
<line x1="194.0" y1="18.2" x2="202.0" y2="18.2" stroke="#000" stroke-width="2"/>
<text x="192.0" y="22.8" font-size="13" font-weight="bold" text-anchor="end" fill="#000">6</text>
<line x1="194.0" y1="83.0" x2="202.0" y2="83.0" stroke="#000" stroke-width="2"/>
<text x="192.0" y="87.6" font-size="13" font-weight="bold" text-anchor="end" fill="#000">4</text>
<line x1="194.0" y1="147.8" x2="202.0" y2="147.8" stroke="#000" stroke-width="2"/>
<text x="192.0" y="152.4" font-size="13" font-weight="bold" text-anchor="end" fill="#000">2</text>
<line x1="194.0" y1="212.6" x2="202.0" y2="212.6" stroke="#000" stroke-width="2"/>
<text x="192.0" y="217.2" font-size="13" font-weight="bold" text-anchor="end" fill="#000">0</text>
<line x1="201.8" y1="212.6" x2="201.8" y2="220.0" stroke="#000" stroke-width="2"/>
<text x="201.8" y="236.9" font-size="13.5" font-weight="bold" text-anchor="middle" fill="#000">-6</text>
<line x1="250.2" y1="212.6" x2="250.2" y2="220.0" stroke="#000" stroke-width="2"/>
<text x="250.2" y="236.9" font-size="13.5" font-weight="bold" text-anchor="middle" fill="#000">-4</text>
<line x1="298.6" y1="212.6" x2="298.6" y2="220.0" stroke="#000" stroke-width="2"/>
<text x="298.6" y="236.9" font-size="13.5" font-weight="bold" text-anchor="middle" fill="#000">-2</text>
<line x1="347.0" y1="212.6" x2="347.0" y2="220.0" stroke="#000" stroke-width="2"/>
<text x="347.0" y="236.9" font-size="13.5" font-weight="bold" text-anchor="middle" fill="#000">0</text>
<line x1="395.4" y1="212.6" x2="395.4" y2="220.0" stroke="#000" stroke-width="2"/>
<text x="395.4" y="236.9" font-size="13.5" font-weight="bold" text-anchor="middle" fill="#000">2</text>
<line x1="443.8" y1="212.6" x2="443.8" y2="220.0" stroke="#000" stroke-width="2"/>
<text x="443.8" y="236.9" font-size="13.5" font-weight="bold" text-anchor="middle" fill="#000">4</text>
<line x1="492.2" y1="212.6" x2="492.2" y2="220.0" stroke="#000" stroke-width="2"/>
<text x="492.2" y="236.9" font-size="13.5" font-weight="bold" text-anchor="middle" fill="#000">6</text>
<text x="314.0" y="262.0" font-size="17.5" font-weight="bold" fill="#000">log</text>
<text x="341.0" y="266.2" font-size="13" font-weight="bold" fill="#000">2</text>
<text x="354.5" y="262.0" font-size="17.5" font-weight="bold" fill="#000">FC</text>
<g transform="translate(170.6,180.5) rotate(-90)">
<text x="-0.3" y="0.0" font-size="18.3" font-weight="bold" fill="#000">-log</text>
<text x="33.4" y="4.2" font-size="13.2" font-weight="bold" fill="#000">10</text>
<text x="53.6" y="0.0" font-size="18.3" font-weight="bold" fill="#000" textLength="76.0" lengthAdjust="spacingAndGlyphs">(p-value)</text>
</g>
<text x="0.0" y="314.4" font-size="28.7" fill="#000">b</text>
<text x="24.1" y="324.7" font-size="11" font-weight="bold" fill="#000" textLength="295.5" lengthAdjust="spacingAndGlyphs">BUSSLINGER_DUODENAL_MATURE_ENTEROCYTES</text>
<line x1="67.1" y1="394.1" x2="278.2" y2="394.1" stroke="#e4e4e4" stroke-width="1"/>
<line x1="67.1" y1="419.5" x2="278.2" y2="419.5" stroke="#e4e4e4" stroke-width="1"/>
<line x1="67.1" y1="445.1" x2="278.2" y2="445.1" stroke="#e4e4e4" stroke-width="1"/>
<line x1="67.1" y1="470.9" x2="278.2" y2="470.9" stroke="#e4e4e4" stroke-width="1"/>
<line x1="109.2" y1="343.9" x2="109.2" y2="483.5" stroke="#e4e4e4" stroke-width="1"/>
<line x1="151.9" y1="343.9" x2="151.9" y2="483.5" stroke="#e4e4e4" stroke-width="1"/>
<line x1="194.0" y1="343.9" x2="194.0" y2="483.5" stroke="#e4e4e4" stroke-width="1"/>
<line x1="236.6" y1="343.9" x2="236.6" y2="483.5" stroke="#e4e4e4" stroke-width="1"/>
<line x1="67.1" y1="368.7" x2="278.2" y2="368.7" stroke="#bdbdbd" stroke-width="1.8"/>
<polyline points="67.4,361.3 69.0,362.7 70.6,363.7 72.2,363.5 73.8,363.7 75.4,364.8 77.0,363.6 78.6,363.7 80.2,365.4 81.8,365.5 83.4,365.7 85.0,366.7 86.6,367.8 88.2,368.1 89.8,368.8 91.4,370.1 93.0,370.2 94.6,370.3 96.2,370.9 97.8,370.8 99.4,372.0 101.0,371.8 102.6,373.1 104.2,373.9 105.8,374.5 107.4,375.7 109.0,375.8 110.6,376.0 112.2,375.4 113.8,373.9 115.4,375.5 117.0,376.3 118.6,377.2 120.2,379.5 121.8,380.0 123.4,380.9 125.0,383.0 126.6,383.6 128.2,385.9 129.8,386.3 131.4,387.4 133.0,388.8 134.6,389.9 136.2,391.0 137.8,392.6 139.4,393.3 141.0,393.5 142.6,393.2 144.2,393.6 145.8,394.9 147.4,394.4 149.0,396.0 150.6,396.3 152.2,397.5 153.8,399.8 155.4,400.7 157.0,401.5 158.6,402.8 160.2,403.7 161.8,405.0 163.4,406.0 165.0,408.4 166.6,409.1 168.2,410.0 169.8,412.7 171.4,413.6 173.0,415.2 174.6,417.7 176.2,419.6 177.8,419.0 179.4,420.8 181.0,420.5 182.6,421.0 184.2,422.3 185.8,424.0 187.4,425.9 189.0,426.9 190.6,428.7 192.2,429.2 193.8,430.6 195.4,432.3 197.0,435.2 198.6,437.1 200.2,438.2 201.8,440.2 203.4,442.0 205.0,444.5 206.6,445.4 208.2,447.3 209.8,449.4 211.4,450.7 213.0,453.2 214.6,454.6 216.2,456.0 217.8,457.7 219.4,459.4 221.0,461.1 222.6,462.8 224.2,463.2 225.8,465.3 227.4,466.1 229.0,468.0 230.6,469.7 232.2,470.9 233.8,471.8 235.4,470.4 237.0,470.2 238.6,468.6 240.2,468.3 241.8,465.5 243.4,464.7 245.0,465.5 246.6,465.7 248.2,467.5 249.8,467.7 251.4,465.9 253.0,465.1 254.6,463.4 256.2,462.9 257.8,460.4 259.4,458.0 261.0,456.0 262.6,453.7 264.2,450.4 265.8,447.3 267.4,447.7 269.0,447.3 270.6,447.0 272.2,437.1 273.8,429.3 275.4,421.8 277.0,411.6 277.6,408.8" fill="none" stroke="#9ec12c" stroke-width="2.6" stroke-linejoin="round" stroke-linecap="round"/>
<line x1="67.1" y1="343.4" x2="67.1" y2="484.0" stroke="#222" stroke-width="1.8"/>
<line x1="61.1" y1="343.4" x2="67.1" y2="343.4" stroke="#222" stroke-width="1.8"/>
<text x="58.8" y="347.3" font-size="10.8" font-weight="bold" text-anchor="end" fill="#111">0.1</text>
<line x1="61.1" y1="368.7" x2="67.1" y2="368.7" stroke="#222" stroke-width="1.8"/>
<text x="58.8" y="372.6" font-size="10.8" font-weight="bold" text-anchor="end" fill="#111">0.0</text>
<line x1="61.1" y1="394.1" x2="67.1" y2="394.1" stroke="#222" stroke-width="1.8"/>
<text x="58.8" y="398.0" font-size="10.8" font-weight="bold" text-anchor="end" fill="#111">-0.1</text>
<line x1="61.1" y1="419.5" x2="67.1" y2="419.5" stroke="#222" stroke-width="1.8"/>
<text x="58.8" y="423.4" font-size="10.8" font-weight="bold" text-anchor="end" fill="#111">-0.2</text>
<line x1="61.1" y1="445.1" x2="67.1" y2="445.1" stroke="#222" stroke-width="1.8"/>
<text x="58.8" y="449.0" font-size="10.8" font-weight="bold" text-anchor="end" fill="#111">-0.3</text>
<line x1="61.1" y1="470.9" x2="67.1" y2="470.9" stroke="#222" stroke-width="1.8"/>
<text x="58.8" y="474.8" font-size="10.8" font-weight="bold" text-anchor="end" fill="#111">-0.4</text>
<rect x="66.7" y="484.2" width="217.2" height="21.0" fill="#fff"/>
<rect x="69.1" y="484.2" width="1.0" height="21.0" fill="#111"/>
<rect x="73.9" y="484.2" width="1.0" height="21.0" fill="#111"/>
<rect x="74.9" y="484.2" width="1.0" height="21.0" fill="#555"/>
<rect x="76.1" y="484.2" width="1.0" height="21.0" fill="#111"/>
<rect x="77.5" y="484.2" width="1.0" height="21.0" fill="#111"/>
<rect x="78.8" y="484.2" width="1.0" height="21.0" fill="#111"/>
<rect x="82.3" y="484.2" width="1.0" height="21.0" fill="#111"/>
<rect x="85.8" y="484.2" width="1.0" height="21.0" fill="#111"/>
<rect x="89.3" y="484.2" width="1.0" height="21.0" fill="#555"/>
<rect x="90.7" y="484.2" width="1.0" height="21.0" fill="#111"/>
<rect x="92.8" y="484.2" width="1.0" height="21.0" fill="#111"/>
<rect x="94.2" y="484.2" width="1.0" height="21.0" fill="#111"/>
<rect x="96.3" y="484.2" width="1.0" height="21.0" fill="#111"/>
<rect x="99.4" y="484.2" width="1.0" height="21.0" fill="#111"/>
<rect x="101.0" y="484.2" width="1.0" height="21.0" fill="#555"/>
<rect x="104.2" y="484.2" width="1.0" height="21.0" fill="#555"/>
<rect x="108.6" y="484.2" width="1.0" height="21.0" fill="#111"/>
<rect x="109.4" y="484.2" width="1.0" height="21.0" fill="#555"/>
<rect x="110.3" y="484.2" width="1.0" height="21.0" fill="#555"/>
<rect x="111.2" y="484.2" width="1.0" height="21.0" fill="#111"/>
<rect x="112.1" y="484.2" width="1.0" height="21.0" fill="#111"/>
<rect x="113.8" y="484.2" width="1.0" height="21.0" fill="#555"/>
<rect x="118.2" y="484.2" width="1.0" height="21.0" fill="#111"/>
<rect x="119.9" y="484.2" width="1.0" height="21.0" fill="#111"/>
<rect x="122.6" y="484.2" width="1.0" height="21.0" fill="#555"/>
<rect x="129.2" y="484.2" width="1.0" height="21.0" fill="#111"/>
<rect x="134.8" y="484.2" width="1.0" height="21.0" fill="#111"/>
<rect x="137.5" y="484.2" width="1.0" height="21.0" fill="#555"/>
<rect x="140.1" y="484.2" width="1.0" height="21.0" fill="#111"/>
<rect x="142.7" y="484.2" width="1.0" height="21.0" fill="#555"/>
<rect x="143.6" y="484.2" width="1.0" height="21.0" fill="#111"/>
<rect x="144.5" y="484.2" width="1.0" height="21.0" fill="#111"/>
<rect x="145.3" y="484.2" width="1.0" height="21.0" fill="#555"/>
<rect x="146.2" y="484.2" width="1.0" height="21.0" fill="#555"/>
<rect x="148.0" y="484.2" width="1.0" height="21.0" fill="#111"/>
<rect x="149.7" y="484.2" width="1.0" height="21.0" fill="#555"/>
<rect x="151.5" y="484.2" width="1.0" height="21.0" fill="#111"/>
<rect x="152.4" y="484.2" width="1.0" height="21.0" fill="#555"/>
<rect x="154.1" y="484.2" width="1.0" height="21.0" fill="#555"/>
<rect x="155.5" y="484.2" width="1.0" height="21.0" fill="#111"/>
<rect x="156.7" y="484.2" width="1.0" height="21.0" fill="#555"/>
<rect x="158.5" y="484.2" width="1.0" height="21.0" fill="#555"/>
<rect x="160.2" y="484.2" width="1.0" height="21.0" fill="#555"/>
<rect x="161.1" y="484.2" width="1.0" height="21.0" fill="#555"/>
<rect x="162.9" y="484.2" width="1.0" height="21.0" fill="#111"/>
<rect x="164.6" y="484.2" width="1.0" height="21.0" fill="#555"/>
<rect x="166.7" y="484.2" width="1.0" height="21.0" fill="#555"/>
<rect x="173.4" y="484.2" width="1.0" height="21.0" fill="#111"/>
<rect x="175.1" y="484.2" width="1.0" height="21.0" fill="#555"/>
<rect x="178.6" y="484.2" width="1.0" height="21.0" fill="#111"/>
<rect x="173.4" y="484.2" width="1.0" height="21.0" fill="#111"/>
<rect x="174.8" y="484.2" width="1.0" height="21.0" fill="#111"/>
<rect x="177.9" y="484.2" width="1.0" height="21.0" fill="#555"/>
<rect x="184.4" y="484.2" width="1.0" height="21.0" fill="#111"/>
<rect x="186.1" y="484.2" width="1.0" height="21.0" fill="#555"/>
<rect x="187.9" y="484.2" width="1.0" height="21.0" fill="#111"/>
<rect x="191.4" y="484.2" width="1.0" height="21.0" fill="#111"/>
<rect x="194.0" y="484.2" width="1.0" height="21.0" fill="#111"/>
<rect x="195.8" y="484.2" width="1.0" height="21.0" fill="#555"/>
<rect x="203.7" y="484.2" width="1.0" height="21.0" fill="#111"/>
<rect x="205.4" y="484.2" width="1.0" height="21.0" fill="#111"/>
<rect x="207.2" y="484.2" width="1.0" height="21.0" fill="#555"/>
<rect x="208.9" y="484.2" width="1.0" height="21.0" fill="#555"/>
<rect x="210.7" y="484.2" width="1.0" height="21.0" fill="#111"/>
<rect x="212.4" y="484.2" width="1.0" height="21.0" fill="#555"/>
<rect x="214.2" y="484.2" width="1.0" height="21.0" fill="#111"/>
<rect x="216.8" y="484.2" width="1.0" height="21.0" fill="#555"/>
<rect x="218.6" y="484.2" width="1.0" height="21.0" fill="#111"/>
<rect x="220.3" y="484.2" width="1.0" height="21.0" fill="#555"/>
<rect x="222.1" y="484.2" width="1.0" height="21.0" fill="#555"/>
<rect x="223.8" y="484.2" width="1.0" height="21.0" fill="#555"/>
<rect x="225.6" y="484.2" width="1.0" height="21.0" fill="#555"/>
<rect x="239.6" y="484.2" width="1.0" height="21.0" fill="#555"/>
<rect x="241.3" y="484.2" width="1.0" height="21.0" fill="#555"/>
<rect x="243.1" y="484.2" width="1.0" height="21.0" fill="#111"/>
<rect x="244.8" y="484.2" width="1.0" height="21.0" fill="#111"/>
<rect x="246.6" y="484.2" width="1.0" height="21.0" fill="#111"/>
<rect x="248.3" y="484.2" width="1.0" height="21.0" fill="#111"/>
<rect x="264.1" y="484.2" width="1.0" height="21.0" fill="#111"/>
<rect x="265.9" y="484.2" width="1.0" height="21.0" fill="#555"/>
<rect x="267.6" y="484.2" width="1.0" height="21.0" fill="#111"/>
<rect x="269.4" y="484.2" width="1.0" height="21.0" fill="#111"/>
<rect x="271.1" y="484.2" width="1.0" height="21.0" fill="#111"/>
<rect x="272.9" y="484.2" width="1.0" height="21.0" fill="#555"/>
<rect x="274.6" y="484.2" width="1.0" height="21.0" fill="#555"/>
<rect x="276.4" y="484.2" width="1.0" height="21.0" fill="#555"/>
<rect x="278.1" y="484.2" width="1.0" height="21.0" fill="#111"/>
<rect x="279.9" y="484.2" width="1.0" height="21.0" fill="#111"/>
<rect x="280.7" y="484.2" width="1.0" height="21.0" fill="#555"/>
<rect x="281.6" y="484.2" width="1.0" height="21.0" fill="#111"/>
<rect x="282.5" y="484.2" width="1.0" height="21.0" fill="#555"/>
<rect x="179.6" y="484.2" width="3.5" height="21.0" fill="#777"/>
<rect x="232.2" y="484.2" width="7.0" height="21.0" fill="#888"/>
<rect x="252.3" y="484.2" width="3.5" height="21.0" fill="#444"/>
<rect x="256.7" y="484.2" width="1.8" height="21.0" fill="#666"/>
<rect x="259.3" y="484.2" width="3.5" height="21.0" fill="#3a3a3a"/>
<rect x="109.1" y="484.2" width="5.3" height="21.0" fill="#555"/>
<rect x="143.7" y="484.2" width="5.6" height="21.0" fill="#555"/>
<line x1="66.7" y1="484.2" x2="283.9" y2="484.2" stroke="#111" stroke-width="1.6"/>
<line x1="66.7" y1="505.2" x2="283.9" y2="505.2" stroke="#111" stroke-width="1.6"/>
<line x1="67.2" y1="484.0" x2="67.2" y2="505.5" stroke="#111" stroke-width="1"/>
<line x1="283.4" y1="484.0" x2="283.4" y2="505.5" stroke="#111" stroke-width="1"/>
<defs><linearGradient id="gb" x1="0" x2="1" y1="0" y2="0"><stop offset="0" stop-color="#9dc22d"/><stop offset="0.5" stop-color="#6f9c8e"/><stop offset="1" stop-color="#4a7fd3"/></linearGradient></defs>
<rect x="66.7" y="506.4" width="217.2" height="8.4" fill="url(#gb)" stroke="#555" stroke-width="0.6"/>
<text x="67.8" y="529.6" font-size="12.3" fill="#222">INDep</text>
<text x="184.9" y="529.6" font-size="12.3" text-anchor="middle" fill="#222">KAT2A</text>
<text x="283.9" y="529.6" font-size="12.3" text-anchor="end" fill="#222">Dep</text>
<text x="76.1" y="455.0" font-size="15" font-weight="bold" fill="#111" textLength="68.8" lengthAdjust="spacingAndGlyphs">NES=-1.66</text>
<text x="76.1" y="474.4" font-size="15" font-weight="bold" fill="#111" textLength="96.7" lengthAdjust="spacingAndGlyphs">p-value=0.004</text>
<g transform="translate(36,461.3) rotate(-90)">
<text x="0.0" y="0.0" font-size="11.3" font-weight="bold" fill="#000" textLength="97.4" lengthAdjust="spacingAndGlyphs">Enrichment Score</text>
</g>
<text x="331.0" y="314.0" font-size="25.5" fill="#000" textLength="13.5" lengthAdjust="spacingAndGlyphs">c</text>
<text x="368.5" y="324.7" font-size="11" font-weight="bold" fill="#000" textLength="283.4" lengthAdjust="spacingAndGlyphs">GAO_LARGE_INTESTINE_24W_C10_ENTEROCYTE</text>
<line x1="396.2" y1="386.4" x2="607.5" y2="386.4" stroke="#e4e4e4" stroke-width="1"/>
<line x1="396.2" y1="408.2" x2="607.5" y2="408.2" stroke="#e4e4e4" stroke-width="1"/>
<line x1="396.2" y1="429.8" x2="607.5" y2="429.8" stroke="#e4e4e4" stroke-width="1"/>
<line x1="396.2" y1="451.2" x2="607.5" y2="451.2" stroke="#e4e4e4" stroke-width="1"/>
<line x1="396.2" y1="472.8" x2="607.5" y2="472.8" stroke="#e4e4e4" stroke-width="1"/>
<line x1="438.2" y1="343.7" x2="438.2" y2="483.5" stroke="#e4e4e4" stroke-width="1"/>
<line x1="480.4" y1="343.7" x2="480.4" y2="483.5" stroke="#e4e4e4" stroke-width="1"/>
<line x1="522.7" y1="343.7" x2="522.7" y2="483.5" stroke="#e4e4e4" stroke-width="1"/>
<line x1="565.0" y1="343.7" x2="565.0" y2="483.5" stroke="#e4e4e4" stroke-width="1"/>
<line x1="396.2" y1="364.8" x2="607.5" y2="364.8" stroke="#bdbdbd" stroke-width="1.8"/>
<polyline points="412.4,364.8 470.0,413.6 493.2,434.5 495.5,427.0 516.4,444.9 518.8,447.2 537.3,463.5 553.6,475.1 554.7,472.1 558.7,475.1 560.1,468.8 562.9,467.9 572.2,470.2 576.8,470.0 583.1,455.4 583.8,432.9 597.7,435.6 601.9,426.4 604.2,408.9 605.8,399.7 607.5,386.9" fill="none" stroke="#9ec12c" stroke-width="2.6" stroke-linejoin="round" stroke-linecap="round"/>
<line x1="396.2" y1="343.2" x2="396.2" y2="484.0" stroke="#222" stroke-width="1.8"/>
<line x1="390.2" y1="343.2" x2="396.2" y2="343.2" stroke="#222" stroke-width="1.8"/>
<text x="387.9" y="347.1" font-size="10.8" font-weight="bold" text-anchor="end" fill="#111">0.1</text>
<line x1="390.2" y1="364.8" x2="396.2" y2="364.8" stroke="#222" stroke-width="1.8"/>
<text x="387.9" y="368.7" font-size="10.8" font-weight="bold" text-anchor="end" fill="#111">0.0</text>
<line x1="390.2" y1="386.4" x2="396.2" y2="386.4" stroke="#222" stroke-width="1.8"/>
<text x="387.9" y="390.3" font-size="10.8" font-weight="bold" text-anchor="end" fill="#111">-0.1</text>
<line x1="390.2" y1="408.2" x2="396.2" y2="408.2" stroke="#222" stroke-width="1.8"/>
<text x="387.9" y="412.1" font-size="10.8" font-weight="bold" text-anchor="end" fill="#111">-0.2</text>
<line x1="390.2" y1="429.8" x2="396.2" y2="429.8" stroke="#222" stroke-width="1.8"/>
<text x="387.9" y="433.7" font-size="10.8" font-weight="bold" text-anchor="end" fill="#111">-0.3</text>
<line x1="390.2" y1="451.2" x2="396.2" y2="451.2" stroke="#222" stroke-width="1.8"/>
<text x="387.9" y="455.1" font-size="10.8" font-weight="bold" text-anchor="end" fill="#111">-0.4</text>
<line x1="390.2" y1="472.8" x2="396.2" y2="472.8" stroke="#222" stroke-width="1.8"/>
<text x="387.9" y="476.7" font-size="10.8" font-weight="bold" text-anchor="end" fill="#111">-0.5</text>
<rect x="395.8" y="484.2" width="216.2" height="21.0" fill="#fff"/>
<rect x="411.7" y="484.2" width="1.0" height="21.0" fill="#777"/>
<rect x="467.8" y="484.2" width="1.0" height="21.0" fill="#777"/>
<rect x="495.1" y="484.2" width="1.0" height="21.0" fill="#111"/>
<rect x="496.9" y="484.2" width="1.0" height="21.0" fill="#111"/>
<rect x="521.4" y="484.2" width="1.0" height="21.0" fill="#111"/>
<rect x="526.7" y="484.2" width="1.0" height="21.0" fill="#111"/>
<rect x="532.6" y="484.2" width="1.0" height="21.0" fill="#111"/>
<rect x="536.1" y="484.2" width="1.0" height="21.0" fill="#111"/>
<rect x="538.9" y="484.2" width="1.0" height="21.0" fill="#111"/>
<rect x="540.7" y="484.2" width="1.0" height="21.0" fill="#777"/>
<rect x="544.2" y="484.2" width="1.0" height="21.0" fill="#777"/>
<rect x="547.7" y="484.2" width="1.0" height="21.0" fill="#111"/>
<rect x="551.2" y="484.2" width="1.0" height="21.0" fill="#111"/>
<rect x="557.5" y="484.2" width="1.0" height="21.0" fill="#777"/>
<rect x="558.9" y="484.2" width="1.0" height="21.0" fill="#777"/>
<rect x="561.7" y="484.2" width="1.0" height="21.0" fill="#777"/>
<rect x="565.2" y="484.2" width="1.0" height="21.0" fill="#111"/>
<rect x="570.5" y="484.2" width="1.0" height="21.0" fill="#111"/>
<rect x="575.7" y="484.2" width="1.0" height="21.0" fill="#777"/>
<rect x="579.2" y="484.2" width="1.0" height="21.0" fill="#111"/>
<rect x="582.7" y="484.2" width="1.0" height="21.0" fill="#111"/>
<rect x="586.2" y="484.2" width="1.0" height="21.0" fill="#111"/>
<rect x="588.0" y="484.2" width="1.0" height="21.0" fill="#777"/>
<rect x="596.7" y="484.2" width="1.0" height="21.0" fill="#111"/>
<rect x="603.7" y="484.2" width="1.0" height="21.0" fill="#777"/>
<rect x="605.5" y="484.2" width="1.0" height="21.0" fill="#777"/>
<rect x="609.0" y="484.2" width="1.0" height="21.0" fill="#111"/>
<rect x="610.7" y="484.2" width="1.0" height="21.0" fill="#777"/>
<rect x="563.5" y="484.2" width="1.6" height="21.0" fill="#111"/>
<rect x="587.6" y="484.2" width="1.6" height="21.0" fill="#111"/>
<line x1="395.8" y1="484.2" x2="612.0" y2="484.2" stroke="#111" stroke-width="1.6"/>
<line x1="395.8" y1="505.2" x2="612.0" y2="505.2" stroke="#111" stroke-width="1.6"/>
<line x1="396.3" y1="484.0" x2="396.3" y2="505.5" stroke="#111" stroke-width="1"/>
<line x1="611.5" y1="484.0" x2="611.5" y2="505.5" stroke="#111" stroke-width="1"/>
<defs><linearGradient id="gc" x1="0" x2="1" y1="0" y2="0"><stop offset="0" stop-color="#9dc22d"/><stop offset="0.5" stop-color="#6f9c8e"/><stop offset="1" stop-color="#4a7fd3"/></linearGradient></defs>
<rect x="393.3" y="506.4" width="218.7" height="8.4" fill="url(#gc)" stroke="#555" stroke-width="0.6"/>
<text x="395.9" y="529.6" font-size="12.3" fill="#222">INDep</text>
<text x="512.8" y="529.6" font-size="12.3" text-anchor="middle" fill="#222">KAT2A</text>
<text x="611.1" y="529.6" font-size="12.3" text-anchor="end" fill="#222">Dep</text>
<text x="404.9" y="454.2" font-size="15" font-weight="bold" fill="#111" textLength="69.9" lengthAdjust="spacingAndGlyphs">NES=-1.70</text>
<text x="404.9" y="473.2" font-size="15" font-weight="bold" fill="#111" textLength="97.2" lengthAdjust="spacingAndGlyphs">p-value=0.002</text>
<g transform="translate(364.5,462.7) rotate(-90)">
<text x="0.0" y="0.0" font-size="11.3" font-weight="bold" fill="#000" textLength="98.4" lengthAdjust="spacingAndGlyphs">Enrichment Score</text>
</g>
<text x="0.0" y="560.3" font-size="29.5" fill="#000">d</text>
<line x1="42.4" y1="592.1" x2="104.5" y2="592.1" stroke="#ececec" stroke-width="0.9"/>
<line x1="42.4" y1="614.8" x2="104.5" y2="614.8" stroke="#ececec" stroke-width="0.9"/>
<line x1="42.4" y1="637.5" x2="104.5" y2="637.5" stroke="#ececec" stroke-width="0.9"/>
<line x1="42.4" y1="660.2" x2="104.5" y2="660.2" stroke="#ececec" stroke-width="0.9"/>
<line x1="61.3" y1="580.4" x2="61.3" y2="672.4" stroke="#ececec" stroke-width="0.9"/>
<line x1="85.3" y1="580.4" x2="85.3" y2="672.4" stroke="#ececec" stroke-width="0.9"/>
<rect x="42.4" y="580.4" width="62.1" height="92.0" fill="none" stroke="#1a1a1a" stroke-width="1.6"/>
<line x1="37.2" y1="592.1" x2="42.4" y2="592.1" stroke="#1a1a1a" stroke-width="1.6"/>
<text x="35.9" y="595.3" font-size="9" font-weight="bold" text-anchor="end" fill="#111">6</text>
<line x1="37.2" y1="614.8" x2="42.4" y2="614.8" stroke="#1a1a1a" stroke-width="1.6"/>
<text x="35.9" y="618.0" font-size="9" font-weight="bold" text-anchor="end" fill="#111">4</text>
<line x1="37.2" y1="637.5" x2="42.4" y2="637.5" stroke="#1a1a1a" stroke-width="1.6"/>
<text x="35.9" y="640.7" font-size="9" font-weight="bold" text-anchor="end" fill="#111">2</text>
<line x1="37.2" y1="660.2" x2="42.4" y2="660.2" stroke="#1a1a1a" stroke-width="1.6"/>
<text x="35.9" y="663.4" font-size="9" font-weight="bold" text-anchor="end" fill="#111">0</text>
<line x1="39.2" y1="603.5" x2="42.4" y2="603.5" stroke="#1a1a1a" stroke-width="1.6"/>
<line x1="39.2" y1="626.2" x2="42.4" y2="626.2" stroke="#1a1a1a" stroke-width="1.6"/>
<line x1="39.2" y1="648.9" x2="42.4" y2="648.9" stroke="#1a1a1a" stroke-width="1.6"/>
<line x1="61.3" y1="672.4" x2="61.3" y2="677.4" stroke="#1a1a1a" stroke-width="1.6"/>
<line x1="85.3" y1="672.4" x2="85.3" y2="677.4" stroke="#1a1a1a" stroke-width="1.6"/>
<text x="73.5" y="572.4" font-size="11.1" font-weight="bold" text-anchor="middle" fill="#111">DDX60</text>
<text x="73.3" y="686.4" font-size="9.2" font-weight="bold" text-anchor="middle" fill="#111" textLength="77.0" lengthAdjust="spacingAndGlyphs">KAT2A Dependency</text>
<text x="62.8" y="596.7" font-size="15.5" font-weight="bold" text-anchor="middle" fill="#111">*</text>
<path d="M62.90,613.50 L62.97,613.86 L63.09,614.35 L63.21,614.94 L63.34,615.59 L63.44,616.29 L63.50,617.00 L63.52,617.75 L63.51,618.57 L63.49,619.43 L63.44,620.30 L63.38,621.17 L63.30,622.00 L63.18,622.82 L63.00,623.64 L62.80,624.46 L62.63,625.25 L62.51,626.00 L62.50,626.70 L62.60,627.33 L62.79,627.90 L63.04,628.43 L63.33,628.94 L63.62,629.46 L63.90,630.00 L64.17,630.55 L64.47,631.08 L64.77,631.62 L65.07,632.17 L65.35,632.76 L65.60,633.40 L65.81,634.09 L65.99,634.82 L66.15,635.59 L66.30,636.38 L66.45,637.18 L66.60,638.00 L66.75,638.84 L66.88,639.73 L67.01,640.63 L67.15,641.53 L67.31,642.39 L67.50,643.20 L67.73,643.97 L68.00,644.72 L68.29,645.44 L68.59,646.11 L68.86,646.74 L69.10,647.30 L69.32,647.77 L69.53,648.14 L69.73,648.47 L69.90,648.78 L70.03,649.11 L70.10,649.50 L70.12,649.96 L70.09,650.46 L70.03,650.98 L69.92,651.51 L69.78,652.02 L69.60,652.50 L69.37,652.96 L69.09,653.40 L68.77,653.84 L68.43,654.25 L68.10,654.64 L67.80,655.00 L67.50,655.34 L67.19,655.66 L66.89,655.96 L66.61,656.22 L66.37,656.44 L66.20,656.60 L56.40,656.60 L56.23,656.44 L55.99,656.22 L55.71,655.96 L55.41,655.66 L55.10,655.34 L54.80,655.00 L54.50,654.64 L54.17,654.25 L53.83,653.84 L53.51,653.40 L53.23,652.96 L53.00,652.50 L52.82,652.02 L52.68,651.51 L52.57,650.98 L52.51,650.46 L52.48,649.96 L52.50,649.50 L52.57,649.11 L52.70,648.78 L52.87,648.47 L53.07,648.14 L53.28,647.77 L53.50,647.30 L53.74,646.74 L54.01,646.11 L54.31,645.44 L54.60,644.72 L54.87,643.97 L55.10,643.20 L55.29,642.39 L55.45,641.53 L55.59,640.63 L55.72,639.73 L55.85,638.84 L56.00,638.00 L56.15,637.18 L56.30,636.38 L56.45,635.59 L56.61,634.82 L56.79,634.09 L57.00,633.40 L57.25,632.76 L57.53,632.17 L57.82,631.62 L58.13,631.08 L58.43,630.55 L58.70,630.00 L58.98,629.46 L59.27,628.94 L59.56,628.43 L59.81,627.90 L60.00,627.33 L60.10,626.70 L60.09,626.00 L59.97,625.25 L59.80,624.46 L59.60,623.64 L59.42,622.82 L59.30,622.00 L59.22,621.17 L59.16,620.30 L59.11,619.43 L59.09,618.57 L59.08,617.75 L59.10,617.00 L59.16,616.29 L59.26,615.59 L59.39,614.94 L59.51,614.35 L59.63,613.86 L59.70,613.50 Z" fill="#fff" stroke="#111" stroke-width="1.3" stroke-linejoin="round"/>
<line x1="55.5" y1="641.0" x2="67.1" y2="641.0" stroke="#777" stroke-width="0.8" stroke-dasharray="1.2 1.6"/>
<line x1="52.8" y1="651.5" x2="69.8" y2="651.5" stroke="#777" stroke-width="0.8" stroke-dasharray="1.2 1.6"/>
<circle cx="61.3" cy="613.7" r="1.45" fill="#9ec12c"/>
<circle cx="61.3" cy="621.9" r="1.45" fill="#9ec12c"/>
<circle cx="57.0" cy="633.2" r="1.45" fill="#9ec12c"/>
<circle cx="65.6" cy="635.3" r="1.45" fill="#9ec12c"/>
<circle cx="61.3" cy="636.8" r="1.45" fill="#9ec12c"/>
<circle cx="61.3" cy="638.9" r="1.45" fill="#9ec12c"/>
<circle cx="65.6" cy="642.9" r="1.45" fill="#9ec12c"/>
<circle cx="61.3" cy="645.0" r="1.45" fill="#9ec12c"/>
<circle cx="57.0" cy="645.9" r="1.45" fill="#9ec12c"/>
<circle cx="52.8" cy="651.5" r="1.45" fill="#9ec12c"/>
<circle cx="57.0" cy="649.9" r="1.45" fill="#9ec12c"/>
<circle cx="57.0" cy="652.9" r="1.45" fill="#9ec12c"/>
<circle cx="61.3" cy="649.9" r="1.45" fill="#9ec12c"/>
<circle cx="61.3" cy="652.9" r="1.45" fill="#9ec12c"/>
<circle cx="65.6" cy="651.1" r="1.45" fill="#9ec12c"/>
<circle cx="65.6" cy="653.5" r="1.45" fill="#9ec12c"/>
<circle cx="69.8" cy="649.3" r="1.45" fill="#9ec12c"/>
<circle cx="57.0" cy="656.3" r="1.45" fill="#9ec12c"/>
<circle cx="61.3" cy="655.4" r="1.45" fill="#9ec12c"/>
<circle cx="65.6" cy="654.7" r="1.45" fill="#9ec12c"/>
<line x1="53.5" y1="647.4" x2="69.1" y2="647.4" stroke="#111" stroke-width="1.5"/>
<path d="M91.00,598.70 L91.20,598.95 L91.49,599.29 L91.83,599.69 L92.19,600.13 L92.52,600.58 L92.80,601.00 L93.03,601.40 L93.24,601.79 L93.44,602.19 L93.61,602.61 L93.77,603.04 L93.90,603.50 L94.01,603.98 L94.10,604.47 L94.17,604.99 L94.22,605.53 L94.26,606.09 L94.30,606.70 L94.33,607.35 L94.34,608.06 L94.34,608.79 L94.33,609.53 L94.32,610.28 L94.30,611.00 L94.29,611.70 L94.27,612.40 L94.25,613.10 L94.22,613.80 L94.17,614.50 L94.10,615.20 L94.00,615.91 L93.89,616.63 L93.76,617.35 L93.61,618.07 L93.46,618.79 L93.30,619.50 L93.14,620.19 L92.96,620.87 L92.78,621.54 L92.59,622.22 L92.40,622.94 L92.20,623.70 L91.99,624.50 L91.77,625.33 L91.55,626.18 L91.33,627.07 L91.11,628.01 L90.90,629.00 L90.69,630.09 L90.48,631.29 L90.27,632.52 L90.09,633.75 L89.92,634.89 L89.80,635.90 L89.72,636.76 L89.68,637.51 L89.66,638.18 L89.67,638.80 L89.68,639.40 L89.70,640.00 L89.72,640.58 L89.75,641.13 L89.79,641.65 L89.84,642.16 L89.91,642.67 L90.00,643.20 L90.11,643.74 L90.25,644.27 L90.41,644.80 L90.57,645.34 L90.74,645.91 L90.90,646.50 L91.07,647.12 L91.26,647.76 L91.44,648.42 L91.62,649.10 L91.78,649.80 L91.90,650.50 L91.98,651.23 L92.04,651.98 L92.07,652.75 L92.09,653.52 L92.10,654.27 L92.10,655.00 L92.09,655.74 L92.06,656.52 L92.01,657.28 L91.97,657.98 L91.93,658.57 L91.90,659.00 L78.70,659.00 L78.67,658.57 L78.63,657.98 L78.59,657.28 L78.54,656.52 L78.51,655.74 L78.50,655.00 L78.50,654.27 L78.51,653.52 L78.53,652.75 L78.56,651.98 L78.62,651.23 L78.70,650.50 L78.82,649.80 L78.98,649.10 L79.16,648.42 L79.34,647.76 L79.53,647.12 L79.70,646.50 L79.86,645.91 L80.03,645.34 L80.19,644.80 L80.35,644.27 L80.49,643.74 L80.60,643.20 L80.69,642.67 L80.76,642.16 L80.81,641.65 L80.85,641.13 L80.88,640.58 L80.90,640.00 L80.92,639.40 L80.93,638.80 L80.94,638.18 L80.92,637.51 L80.88,636.76 L80.80,635.90 L80.68,634.89 L80.51,633.75 L80.33,632.52 L80.12,631.29 L79.91,630.09 L79.70,629.00 L79.49,628.01 L79.27,627.07 L79.05,626.18 L78.83,625.33 L78.61,624.50 L78.40,623.70 L78.20,622.94 L78.01,622.22 L77.82,621.54 L77.64,620.87 L77.46,620.19 L77.30,619.50 L77.14,618.79 L76.99,618.07 L76.84,617.35 L76.71,616.63 L76.60,615.91 L76.50,615.20 L76.43,614.50 L76.38,613.80 L76.35,613.10 L76.33,612.40 L76.31,611.70 L76.30,611.00 L76.28,610.28 L76.27,609.53 L76.26,608.79 L76.26,608.06 L76.27,607.35 L76.30,606.70 L76.34,606.09 L76.38,605.53 L76.43,604.99 L76.50,604.47 L76.59,603.98 L76.70,603.50 L76.83,603.04 L76.99,602.61 L77.16,602.19 L77.36,601.79 L77.57,601.40 L77.80,601.00 L78.08,600.58 L78.41,600.13 L78.77,599.69 L79.11,599.29 L79.40,598.95 L79.60,598.70 Z" fill="#fff" stroke="#111" stroke-width="1.3" stroke-linejoin="round"/>
<line x1="76.3" y1="607.3" x2="94.3" y2="607.3" stroke="#777" stroke-width="0.8" stroke-dasharray="1.2 1.6"/>
<line x1="79.1" y1="649.0" x2="91.5" y2="649.0" stroke="#777" stroke-width="0.8" stroke-dasharray="1.2 1.6"/>
<circle cx="85.3" cy="599.1" r="1.45" fill="#4b82d2"/>
<circle cx="82.9" cy="606.0" r="1.45" fill="#4b82d2"/>
<circle cx="87.5" cy="605.7" r="1.45" fill="#4b82d2"/>
<circle cx="85.3" cy="611.5" r="1.45" fill="#4b82d2"/>
<circle cx="85.3" cy="614.6" r="1.45" fill="#4b82d2"/>
<circle cx="82.9" cy="623.1" r="1.45" fill="#4b82d2"/>
<circle cx="87.5" cy="625.2" r="1.45" fill="#4b82d2"/>
<circle cx="85.3" cy="629.5" r="1.45" fill="#4b82d2"/>
<circle cx="85.3" cy="640.4" r="1.45" fill="#4b82d2"/>
<circle cx="85.3" cy="652.3" r="1.45" fill="#4b82d2"/>
<circle cx="85.3" cy="656.0" r="1.45" fill="#4b82d2"/>
<circle cx="85.3" cy="659.0" r="1.45" fill="#4b82d2"/>
<line x1="78.4" y1="623.9" x2="92.2" y2="623.9" stroke="#111" stroke-width="1.5"/>
<line x1="125.1" y1="606.6" x2="188.0" y2="606.6" stroke="#ececec" stroke-width="0.9"/>
<line x1="125.1" y1="632.9" x2="188.0" y2="632.9" stroke="#ececec" stroke-width="0.9"/>
<line x1="125.1" y1="659.2" x2="188.0" y2="659.2" stroke="#ececec" stroke-width="0.9"/>
<line x1="144.7" y1="580.4" x2="144.7" y2="672.4" stroke="#ececec" stroke-width="0.9"/>
<line x1="168.8" y1="580.4" x2="168.8" y2="672.4" stroke="#ececec" stroke-width="0.9"/>
<rect x="125.1" y="580.4" width="62.9" height="92.0" fill="none" stroke="#1a1a1a" stroke-width="1.6"/>
<line x1="119.9" y1="580.3" x2="125.1" y2="580.3" stroke="#1a1a1a" stroke-width="1.6"/>
<text x="118.6" y="583.5" font-size="9" font-weight="bold" text-anchor="end" fill="#111">6</text>
<line x1="119.9" y1="606.6" x2="125.1" y2="606.6" stroke="#1a1a1a" stroke-width="1.6"/>
<text x="118.6" y="609.8" font-size="9" font-weight="bold" text-anchor="end" fill="#111">4</text>
<line x1="119.9" y1="632.9" x2="125.1" y2="632.9" stroke="#1a1a1a" stroke-width="1.6"/>
<text x="118.6" y="636.1" font-size="9" font-weight="bold" text-anchor="end" fill="#111">2</text>
<line x1="119.9" y1="659.2" x2="125.1" y2="659.2" stroke="#1a1a1a" stroke-width="1.6"/>
<text x="118.6" y="662.4" font-size="9" font-weight="bold" text-anchor="end" fill="#111">0</text>
<line x1="121.9" y1="593.5" x2="125.1" y2="593.5" stroke="#1a1a1a" stroke-width="1.6"/>
<line x1="121.9" y1="619.8" x2="125.1" y2="619.8" stroke="#1a1a1a" stroke-width="1.6"/>
<line x1="121.9" y1="646.1" x2="125.1" y2="646.1" stroke="#1a1a1a" stroke-width="1.6"/>
<line x1="144.7" y1="672.4" x2="144.7" y2="677.4" stroke="#1a1a1a" stroke-width="1.6"/>
<line x1="168.8" y1="672.4" x2="168.8" y2="677.4" stroke="#1a1a1a" stroke-width="1.6"/>
<text x="156.5" y="572.2" font-size="11.1" font-weight="bold" text-anchor="middle" fill="#111">EDN1</text>
<text x="156.8" y="686.4" font-size="9.2" font-weight="bold" text-anchor="middle" fill="#111" textLength="77.0" lengthAdjust="spacingAndGlyphs">KAT2A Dependency</text>
<text x="155.4" y="596.7" font-size="15.5" font-weight="bold" text-anchor="middle" fill="#111">**</text>
<path d="M145.90,603.60 L146.07,603.84 L146.31,604.16 L146.59,604.55 L146.90,604.99 L147.21,605.48 L147.50,606.00 L147.78,606.55 L148.08,607.14 L148.38,607.77 L148.67,608.46 L148.95,609.20 L149.20,610.00 L149.43,610.90 L149.66,611.89 L149.87,612.94 L150.05,614.00 L150.20,615.03 L150.30,616.00 L150.34,616.88 L150.33,617.69 L150.29,618.48 L150.22,619.27 L150.15,620.10 L150.10,621.00 L150.04,621.99 L149.97,623.06 L149.89,624.16 L149.82,625.27 L149.79,626.36 L149.80,627.40 L149.87,628.38 L149.98,629.33 L150.12,630.26 L150.29,631.18 L150.45,632.09 L150.60,633.00 L150.74,633.91 L150.87,634.81 L151.01,635.70 L151.16,636.59 L151.32,637.49 L151.50,638.40 L151.71,639.34 L151.95,640.31 L152.21,641.29 L152.46,642.24 L152.70,643.16 L152.90,644.00 L153.07,644.77 L153.23,645.47 L153.38,646.13 L153.50,646.76 L153.61,647.38 L153.70,648.00 L153.78,648.61 L153.84,649.20 L153.88,649.78 L153.91,650.35 L153.91,650.92 L153.90,651.50 L153.86,652.09 L153.79,652.70 L153.71,653.31 L153.61,653.91 L153.50,654.47 L153.40,655.00 L153.29,655.48 L153.17,655.94 L153.05,656.36 L152.93,656.76 L152.81,657.14 L152.70,657.50 L152.60,657.85 L152.50,658.19 L152.41,658.51 L152.32,658.79 L152.25,659.02 L152.20,659.20 L137.20,659.20 L137.15,659.02 L137.08,658.79 L136.99,658.51 L136.90,658.19 L136.80,657.85 L136.70,657.50 L136.59,657.14 L136.47,656.76 L136.35,656.36 L136.23,655.94 L136.11,655.48 L136.00,655.00 L135.90,654.47 L135.79,653.91 L135.69,653.31 L135.61,652.70 L135.54,652.09 L135.50,651.50 L135.49,650.92 L135.49,650.35 L135.52,649.78 L135.56,649.20 L135.62,648.61 L135.70,648.00 L135.79,647.38 L135.90,646.76 L136.02,646.13 L136.17,645.47 L136.32,644.77 L136.50,644.00 L136.70,643.16 L136.94,642.24 L137.19,641.29 L137.45,640.31 L137.69,639.34 L137.90,638.40 L138.08,637.49 L138.24,636.59 L138.39,635.70 L138.53,634.81 L138.66,633.91 L138.80,633.00 L138.95,632.09 L139.11,631.18 L139.27,630.26 L139.42,629.33 L139.53,628.38 L139.60,627.40 L139.61,626.36 L139.58,625.27 L139.51,624.16 L139.43,623.06 L139.36,621.99 L139.30,621.00 L139.25,620.10 L139.18,619.27 L139.11,618.48 L139.07,617.69 L139.06,616.88 L139.10,616.00 L139.20,615.03 L139.35,614.00 L139.53,612.94 L139.74,611.89 L139.97,610.90 L140.20,610.00 L140.45,609.20 L140.73,608.46 L141.02,607.77 L141.32,607.14 L141.62,606.55 L141.90,606.00 L142.19,605.48 L142.50,604.99 L142.81,604.55 L143.09,604.16 L143.33,603.84 L143.50,603.60 Z" fill="#fff" stroke="#111" stroke-width="1.3" stroke-linejoin="round"/>
<line x1="139.3" y1="620.5" x2="150.1" y2="620.5" stroke="#777" stroke-width="0.8" stroke-dasharray="1.2 1.6"/>
<line x1="135.9" y1="654.5" x2="153.5" y2="654.5" stroke="#777" stroke-width="0.8" stroke-dasharray="1.2 1.6"/>
<circle cx="144.7" cy="604.5" r="1.45" fill="#9ec12c"/>
<circle cx="144.7" cy="613.0" r="1.45" fill="#9ec12c"/>
<circle cx="144.7" cy="618.1" r="1.45" fill="#9ec12c"/>
<circle cx="149.2" cy="617.0" r="1.45" fill="#9ec12c"/>
<circle cx="144.7" cy="621.0" r="1.45" fill="#9ec12c"/>
<circle cx="144.7" cy="628.3" r="1.45" fill="#9ec12c"/>
<circle cx="144.7" cy="632.6" r="1.45" fill="#9ec12c"/>
<circle cx="142.4" cy="635.5" r="1.45" fill="#9ec12c"/>
<circle cx="147.1" cy="635.5" r="1.45" fill="#9ec12c"/>
<circle cx="144.7" cy="641.1" r="1.45" fill="#9ec12c"/>
<circle cx="140.0" cy="648.0" r="1.45" fill="#9ec12c"/>
<circle cx="149.2" cy="647.5" r="1.45" fill="#9ec12c"/>
<circle cx="144.7" cy="649.1" r="1.45" fill="#9ec12c"/>
<circle cx="144.7" cy="653.1" r="1.45" fill="#9ec12c"/>
<circle cx="140.0" cy="656.0" r="1.45" fill="#9ec12c"/>
<circle cx="149.2" cy="657.2" r="1.45" fill="#9ec12c"/>
<circle cx="140.0" cy="659.6" r="1.45" fill="#9ec12c"/>
<circle cx="144.7" cy="657.2" r="1.45" fill="#9ec12c"/>
<line x1="137.9" y1="638.4" x2="151.5" y2="638.4" stroke="#111" stroke-width="1.5"/>
<path d="M177.20,599.00 L177.31,599.31 L177.46,599.72 L177.64,600.21 L177.82,600.77 L177.98,601.37 L178.10,602.00 L178.18,602.69 L178.24,603.46 L178.28,604.28 L178.30,605.10 L178.30,605.88 L178.30,606.60 L178.28,607.23 L178.26,607.82 L178.21,608.37 L178.16,608.90 L178.08,609.44 L178.00,610.00 L177.91,610.57 L177.81,611.12 L177.70,611.68 L177.57,612.26 L177.40,612.86 L177.20,613.50 L176.95,614.19 L176.66,614.91 L176.34,615.66 L176.00,616.43 L175.65,617.21 L175.30,618.00 L174.93,618.81 L174.53,619.65 L174.12,620.51 L173.72,621.36 L173.34,622.20 L173.00,623.00 L172.70,623.75 L172.41,624.47 L172.16,625.16 L171.92,625.87 L171.70,626.60 L171.50,627.40 L171.32,628.27 L171.17,629.20 L171.03,630.16 L170.91,631.13 L170.80,632.09 L170.70,633.00 L170.61,633.86 L170.52,634.69 L170.45,635.51 L170.39,636.32 L170.34,637.14 L170.30,638.00 L170.27,638.90 L170.26,639.83 L170.26,640.78 L170.27,641.72 L170.28,642.64 L170.30,643.50 L170.32,644.32 L170.35,645.11 L170.38,645.88 L170.42,646.61 L170.46,647.32 L170.50,648.00 L170.55,648.65 L170.62,649.27 L170.69,649.86 L170.75,650.43 L170.79,650.97 L170.80,651.50 L170.78,652.02 L170.74,652.54 L170.68,653.03 L170.60,653.49 L170.51,653.88 L170.40,654.20 L170.26,654.43 L170.07,654.58 L169.88,654.67 L169.68,654.72 L169.52,654.76 L169.40,654.80 L168.20,654.80 L168.08,654.76 L167.92,654.72 L167.73,654.67 L167.53,654.58 L167.34,654.43 L167.20,654.20 L167.09,653.88 L167.00,653.49 L166.92,653.03 L166.86,652.54 L166.82,652.02 L166.80,651.50 L166.81,650.97 L166.85,650.43 L166.91,649.86 L166.98,649.27 L167.05,648.65 L167.10,648.00 L167.14,647.32 L167.18,646.61 L167.22,645.88 L167.25,645.11 L167.28,644.32 L167.30,643.50 L167.32,642.64 L167.33,641.72 L167.34,640.78 L167.34,639.83 L167.33,638.90 L167.30,638.00 L167.26,637.14 L167.21,636.32 L167.15,635.51 L167.08,634.69 L166.99,633.86 L166.90,633.00 L166.80,632.09 L166.69,631.13 L166.57,630.16 L166.43,629.20 L166.28,628.27 L166.10,627.40 L165.90,626.60 L165.68,625.87 L165.44,625.16 L165.19,624.47 L164.90,623.75 L164.60,623.00 L164.26,622.20 L163.88,621.36 L163.48,620.51 L163.07,619.65 L162.67,618.81 L162.30,618.00 L161.95,617.21 L161.60,616.43 L161.26,615.66 L160.94,614.91 L160.65,614.19 L160.40,613.50 L160.20,612.86 L160.03,612.26 L159.90,611.68 L159.79,611.12 L159.69,610.57 L159.60,610.00 L159.52,609.44 L159.44,608.90 L159.39,608.37 L159.34,607.82 L159.32,607.23 L159.30,606.60 L159.30,605.88 L159.30,605.10 L159.33,604.28 L159.36,603.46 L159.42,602.69 L159.50,602.00 L159.62,601.37 L159.78,600.77 L159.96,600.21 L160.14,599.72 L160.29,599.31 L160.40,599.00 Z" fill="#fff" stroke="#111" stroke-width="1.3" stroke-linejoin="round"/>
<line x1="159.3" y1="605.5" x2="178.3" y2="605.5" stroke="#777" stroke-width="0.8" stroke-dasharray="1.2 1.6"/>
<line x1="166.0" y1="627.0" x2="171.6" y2="627.0" stroke="#777" stroke-width="0.8" stroke-dasharray="1.2 1.6"/>
<circle cx="166.0" cy="599.8" r="1.45" fill="#4b82d2"/>
<circle cx="170.8" cy="599.8" r="1.45" fill="#4b82d2"/>
<circle cx="168.8" cy="605.4" r="1.45" fill="#4b82d2"/>
<circle cx="168.8" cy="607.4" r="1.45" fill="#4b82d2"/>
<circle cx="166.3" cy="612.2" r="1.45" fill="#4b82d2"/>
<circle cx="170.8" cy="610.6" r="1.45" fill="#4b82d2"/>
<circle cx="168.8" cy="615.4" r="1.45" fill="#4b82d2"/>
<circle cx="166.0" cy="621.0" r="1.45" fill="#4b82d2"/>
<circle cx="170.8" cy="622.3" r="1.45" fill="#4b82d2"/>
<circle cx="168.8" cy="630.3" r="1.45" fill="#4b82d2"/>
<circle cx="168.8" cy="639.8" r="1.45" fill="#4b82d2"/>
<circle cx="168.8" cy="654.4" r="1.45" fill="#4b82d2"/>
<line x1="160.4" y1="613.5" x2="177.2" y2="613.5" stroke="#111" stroke-width="1.5"/>
<line x1="217.5" y1="622.1" x2="280.1" y2="622.1" stroke="#ececec" stroke-width="0.9"/>
<line x1="217.5" y1="663.9" x2="280.1" y2="663.9" stroke="#ececec" stroke-width="0.9"/>
<line x1="237.1" y1="580.4" x2="237.1" y2="672.4" stroke="#ececec" stroke-width="0.9"/>
<line x1="260.8" y1="580.4" x2="260.8" y2="672.4" stroke="#ececec" stroke-width="0.9"/>
<rect x="217.5" y="580.4" width="62.6" height="92.0" fill="none" stroke="#1a1a1a" stroke-width="1.6"/>
<line x1="212.3" y1="580.4" x2="217.5" y2="580.4" stroke="#1a1a1a" stroke-width="1.6"/>
<text x="211.0" y="583.6" font-size="9" font-weight="bold" text-anchor="end" fill="#111">10</text>
<line x1="212.3" y1="622.1" x2="217.5" y2="622.1" stroke="#1a1a1a" stroke-width="1.6"/>
<text x="211.0" y="625.4" font-size="9" font-weight="bold" text-anchor="end" fill="#111">5</text>
<line x1="212.3" y1="663.9" x2="217.5" y2="663.9" stroke="#1a1a1a" stroke-width="1.6"/>
<text x="211.0" y="667.1" font-size="9" font-weight="bold" text-anchor="end" fill="#111">0</text>
<line x1="214.3" y1="601.3" x2="217.5" y2="601.3" stroke="#1a1a1a" stroke-width="1.6"/>
<line x1="214.3" y1="643.0" x2="217.5" y2="643.0" stroke="#1a1a1a" stroke-width="1.6"/>
<line x1="237.1" y1="672.4" x2="237.1" y2="677.4" stroke="#1a1a1a" stroke-width="1.6"/>
<line x1="260.8" y1="672.4" x2="260.8" y2="677.4" stroke="#1a1a1a" stroke-width="1.6"/>
<text x="249.0" y="572.2" font-size="11.1" font-weight="bold" text-anchor="middle" fill="#111">HPGD</text>
<text x="248.9" y="686.4" font-size="9.2" font-weight="bold" text-anchor="middle" fill="#111" textLength="77.0" lengthAdjust="spacingAndGlyphs">KAT2A Dependency</text>
<text x="248.6" y="596.7" font-size="15.5" font-weight="bold" text-anchor="middle" fill="#111">**</text>
<path d="M242.60,611.40 L242.56,611.61 L242.53,611.89 L242.48,612.23 L242.40,612.62 L242.28,613.04 L242.10,613.50 L241.81,613.98 L241.41,614.51 L240.96,615.07 L240.54,615.67 L240.19,616.31 L240.00,617.00 L239.97,617.73 L240.05,618.52 L240.21,619.34 L240.43,620.20 L240.67,621.09 L240.90,622.00 L241.14,622.94 L241.41,623.93 L241.70,624.94 L242.00,625.96 L242.31,626.99 L242.60,628.00 L242.89,629.00 L243.18,630.00 L243.47,631.00 L243.76,632.00 L244.04,633.00 L244.30,634.00 L244.55,635.01 L244.79,636.04 L245.01,637.06 L245.23,638.07 L245.42,639.06 L245.60,640.00 L245.77,640.89 L245.93,641.74 L246.07,642.56 L246.19,643.37 L246.27,644.18 L246.30,645.00 L246.28,645.82 L246.22,646.61 L246.12,647.41 L245.99,648.23 L245.81,649.09 L245.60,650.00 L245.32,651.02 L244.96,652.13 L244.56,653.29 L244.16,654.42 L243.79,655.48 L243.50,656.40 L243.29,657.17 L243.13,657.82 L243.00,658.39 L242.90,658.93 L242.80,659.45 L242.70,660.00 L242.59,660.61 L242.49,661.24 L242.40,661.88 L242.32,662.46 L242.25,662.94 L242.20,663.30 L232.00,663.30 L231.95,662.94 L231.88,662.46 L231.80,661.88 L231.71,661.24 L231.61,660.61 L231.50,660.00 L231.40,659.45 L231.30,658.93 L231.20,658.39 L231.07,657.82 L230.91,657.17 L230.70,656.40 L230.41,655.48 L230.04,654.42 L229.64,653.29 L229.24,652.13 L228.88,651.02 L228.60,650.00 L228.39,649.09 L228.21,648.23 L228.07,647.41 L227.98,646.61 L227.92,645.82 L227.90,645.00 L227.93,644.18 L228.01,643.37 L228.12,642.56 L228.27,641.74 L228.43,640.89 L228.60,640.00 L228.78,639.06 L228.97,638.07 L229.19,637.06 L229.41,636.04 L229.65,635.01 L229.90,634.00 L230.16,633.00 L230.44,632.00 L230.72,631.00 L231.02,630.00 L231.31,629.00 L231.60,628.00 L231.89,626.99 L232.20,625.96 L232.50,624.94 L232.79,623.93 L233.06,622.94 L233.30,622.00 L233.53,621.09 L233.77,620.20 L233.99,619.34 L234.15,618.52 L234.23,617.73 L234.20,617.00 L234.01,616.31 L233.66,615.67 L233.24,615.07 L232.79,614.51 L232.39,613.98 L232.10,613.50 L231.92,613.04 L231.80,612.62 L231.72,612.23 L231.67,611.89 L231.64,611.61 L231.60,611.40 Z" fill="#fff" stroke="#111" stroke-width="1.3" stroke-linejoin="round"/>
<line x1="231.3" y1="629.0" x2="242.9" y2="629.0" stroke="#777" stroke-width="0.8" stroke-dasharray="1.2 1.6"/>
<line x1="229.7" y1="653.5" x2="244.5" y2="653.5" stroke="#777" stroke-width="0.8" stroke-dasharray="1.2 1.6"/>
<circle cx="232.4" cy="611.7" r="1.45" fill="#9ec12c"/>
<circle cx="237.1" cy="611.7" r="1.45" fill="#9ec12c"/>
<circle cx="237.1" cy="615.4" r="1.45" fill="#9ec12c"/>
<circle cx="237.1" cy="625.8" r="1.45" fill="#9ec12c"/>
<circle cx="234.3" cy="629.4" r="1.45" fill="#9ec12c"/>
<circle cx="239.2" cy="629.4" r="1.45" fill="#9ec12c"/>
<circle cx="237.1" cy="636.8" r="1.45" fill="#9ec12c"/>
<circle cx="241.9" cy="635.2" r="1.45" fill="#9ec12c"/>
<circle cx="237.1" cy="641.1" r="1.45" fill="#9ec12c"/>
<circle cx="232.4" cy="645.1" r="1.45" fill="#9ec12c"/>
<circle cx="237.1" cy="645.1" r="1.45" fill="#9ec12c"/>
<circle cx="241.9" cy="646.7" r="1.45" fill="#9ec12c"/>
<circle cx="237.1" cy="649.1" r="1.45" fill="#9ec12c"/>
<circle cx="237.1" cy="652.8" r="1.45" fill="#9ec12c"/>
<circle cx="237.1" cy="656.4" r="1.45" fill="#9ec12c"/>
<circle cx="237.1" cy="660.4" r="1.45" fill="#9ec12c"/>
<circle cx="232.4" cy="662.8" r="1.45" fill="#9ec12c"/>
<circle cx="241.9" cy="662.0" r="1.45" fill="#9ec12c"/>
<line x1="228.3" y1="642.4" x2="245.9" y2="642.4" stroke="#111" stroke-width="1.5"/>
<path d="M262.60,598.00 L262.74,598.14 L262.93,598.31 L263.15,598.53 L263.39,598.80 L263.61,599.12 L263.80,599.50 L263.96,599.95 L264.12,600.46 L264.26,601.02 L264.39,601.63 L264.51,602.30 L264.60,603.00 L264.66,603.77 L264.70,604.62 L264.72,605.52 L264.73,606.43 L264.76,607.34 L264.80,608.20 L264.86,609.02 L264.92,609.83 L264.99,610.62 L265.08,611.41 L265.18,612.20 L265.30,613.00 L265.43,613.82 L265.56,614.66 L265.70,615.50 L265.88,616.32 L266.11,617.09 L266.40,617.80 L266.79,618.43 L267.27,618.99 L267.80,619.50 L268.34,619.99 L268.85,620.49 L269.30,621.00 L269.72,621.54 L270.15,622.08 L270.55,622.63 L270.89,623.16 L271.11,623.69 L271.20,624.20 L271.11,624.69 L270.87,625.17 L270.53,625.64 L270.12,626.10 L269.70,626.56 L269.30,627.00 L268.91,627.43 L268.49,627.84 L268.06,628.25 L267.62,628.66 L267.19,629.07 L266.80,629.50 L266.43,629.93 L266.06,630.34 L265.71,630.76 L265.37,631.21 L265.07,631.72 L264.80,632.30 L264.57,632.97 L264.37,633.71 L264.19,634.51 L264.04,635.34 L263.91,636.18 L263.80,637.00 L263.71,637.84 L263.66,638.71 L263.63,639.59 L263.60,640.46 L263.57,641.27 L263.50,642.00 L263.41,642.67 L263.31,643.30 L263.21,643.89 L263.09,644.41 L262.95,644.85 L262.80,645.20 L262.62,645.43 L262.39,645.56 L262.16,645.60 L261.93,645.60 L261.74,645.59 L261.60,645.60 L260.00,645.60 L259.86,645.59 L259.67,645.60 L259.44,645.60 L259.21,645.56 L258.98,645.43 L258.80,645.20 L258.65,644.85 L258.51,644.41 L258.39,643.89 L258.29,643.30 L258.19,642.67 L258.10,642.00 L258.03,641.27 L258.00,640.46 L257.97,639.59 L257.94,638.71 L257.89,637.84 L257.80,637.00 L257.69,636.18 L257.56,635.34 L257.41,634.51 L257.23,633.71 L257.03,632.97 L256.80,632.30 L256.53,631.72 L256.23,631.21 L255.89,630.76 L255.54,630.34 L255.17,629.93 L254.80,629.50 L254.41,629.07 L253.98,628.66 L253.54,628.25 L253.11,627.84 L252.69,627.43 L252.30,627.00 L251.90,626.56 L251.48,626.10 L251.08,625.64 L250.73,625.17 L250.49,624.69 L250.40,624.20 L250.49,623.69 L250.71,623.16 L251.05,622.63 L251.45,622.08 L251.88,621.54 L252.30,621.00 L252.75,620.49 L253.26,619.99 L253.80,619.50 L254.33,618.99 L254.81,618.43 L255.20,617.80 L255.49,617.09 L255.72,616.32 L255.90,615.50 L256.04,614.66 L256.17,613.82 L256.30,613.00 L256.42,612.20 L256.52,611.41 L256.61,610.62 L256.68,609.83 L256.74,609.02 L256.80,608.20 L256.84,607.34 L256.87,606.43 L256.88,605.52 L256.90,604.62 L256.94,603.77 L257.00,603.00 L257.09,602.30 L257.21,601.63 L257.34,601.02 L257.48,600.46 L257.64,599.95 L257.80,599.50 L257.99,599.12 L258.21,598.80 L258.45,598.53 L258.67,598.31 L258.86,598.14 L259.00,598.00 Z" fill="#fff" stroke="#111" stroke-width="1.3" stroke-linejoin="round"/>
<line x1="256.8" y1="607.5" x2="264.8" y2="607.5" stroke="#777" stroke-width="0.8" stroke-dasharray="1.2 1.6"/>
<line x1="252.8" y1="627.5" x2="268.8" y2="627.5" stroke="#777" stroke-width="0.8" stroke-dasharray="1.2 1.6"/>
<circle cx="260.8" cy="598.5" r="1.45" fill="#4b82d2"/>
<circle cx="260.8" cy="603.0" r="1.45" fill="#4b82d2"/>
<circle cx="260.8" cy="606.6" r="1.45" fill="#4b82d2"/>
<circle cx="260.8" cy="611.1" r="1.45" fill="#4b82d2"/>
<circle cx="258.9" cy="620.2" r="1.45" fill="#4b82d2"/>
<circle cx="263.3" cy="620.2" r="1.45" fill="#4b82d2"/>
<circle cx="260.8" cy="622.6" r="1.45" fill="#4b82d2"/>
<circle cx="256.3" cy="627.1" r="1.45" fill="#4b82d2"/>
<circle cx="265.7" cy="627.4" r="1.45" fill="#4b82d2"/>
<circle cx="260.8" cy="625.8" r="1.45" fill="#4b82d2"/>
<circle cx="260.8" cy="633.9" r="1.45" fill="#4b82d2"/>
<circle cx="260.8" cy="645.4" r="1.45" fill="#4b82d2"/>
<line x1="251.6" y1="622.1" x2="270.0" y2="622.1" stroke="#111" stroke-width="1.5"/>
<line x1="41.8" y1="738.8" x2="104.6" y2="738.8" stroke="#ececec" stroke-width="0.9"/>
<line x1="41.8" y1="761.6" x2="104.6" y2="761.6" stroke="#ececec" stroke-width="0.9"/>
<line x1="41.8" y1="784.4" x2="104.6" y2="784.4" stroke="#ececec" stroke-width="0.9"/>
<line x1="41.8" y1="807.2" x2="104.6" y2="807.2" stroke="#ececec" stroke-width="0.9"/>
<line x1="61.7" y1="727.4" x2="61.7" y2="819.4" stroke="#ececec" stroke-width="0.9"/>
<line x1="85.2" y1="727.4" x2="85.2" y2="819.4" stroke="#ececec" stroke-width="0.9"/>
<rect x="41.8" y="727.4" width="62.8" height="92.0" fill="none" stroke="#1a1a1a" stroke-width="1.6"/>
<line x1="36.6" y1="738.8" x2="41.8" y2="738.8" stroke="#1a1a1a" stroke-width="1.6"/>
<text x="35.3" y="742.0" font-size="9" font-weight="bold" text-anchor="end" fill="#111">6</text>
<line x1="36.6" y1="761.6" x2="41.8" y2="761.6" stroke="#1a1a1a" stroke-width="1.6"/>
<text x="35.3" y="764.8" font-size="9" font-weight="bold" text-anchor="end" fill="#111">4</text>
<line x1="36.6" y1="784.4" x2="41.8" y2="784.4" stroke="#1a1a1a" stroke-width="1.6"/>
<text x="35.3" y="787.6" font-size="9" font-weight="bold" text-anchor="end" fill="#111">2</text>
<line x1="36.6" y1="807.2" x2="41.8" y2="807.2" stroke="#1a1a1a" stroke-width="1.6"/>
<text x="35.3" y="810.4" font-size="9" font-weight="bold" text-anchor="end" fill="#111">0</text>
<line x1="38.6" y1="727.4" x2="41.8" y2="727.4" stroke="#1a1a1a" stroke-width="1.6"/>
<line x1="38.6" y1="750.2" x2="41.8" y2="750.2" stroke="#1a1a1a" stroke-width="1.6"/>
<line x1="38.6" y1="773.0" x2="41.8" y2="773.0" stroke="#1a1a1a" stroke-width="1.6"/>
<line x1="38.6" y1="795.8" x2="41.8" y2="795.8" stroke="#1a1a1a" stroke-width="1.6"/>
<line x1="61.7" y1="819.4" x2="61.7" y2="824.4" stroke="#1a1a1a" stroke-width="1.6"/>
<line x1="85.2" y1="819.4" x2="85.2" y2="824.4" stroke="#1a1a1a" stroke-width="1.6"/>
<text x="73.0" y="719.2" font-size="11.1" font-weight="bold" text-anchor="middle" fill="#111">IRF7</text>
<text x="73.5" y="833.4" font-size="9.2" font-weight="bold" text-anchor="middle" fill="#111" textLength="77.0" lengthAdjust="spacingAndGlyphs">KAT2A Dependency</text>
<text x="61.9" y="742.2" font-size="15.5" font-weight="bold" text-anchor="middle" fill="#111">**</text>
<path d="M62.50,753.50 L62.74,753.77 L63.06,754.15 L63.44,754.59 L63.86,755.07 L64.29,755.55 L64.70,756.00 L65.10,756.41 L65.52,756.81 L65.94,757.21 L66.37,757.61 L66.79,758.04 L67.20,758.50 L67.62,758.98 L68.08,759.47 L68.53,759.99 L68.93,760.53 L69.27,761.09 L69.50,761.70 L69.60,762.36 L69.59,763.07 L69.51,763.81 L69.39,764.56 L69.27,765.29 L69.20,766.00 L69.15,766.68 L69.08,767.36 L69.02,768.02 L68.97,768.67 L68.96,769.30 L69.00,769.90 L69.10,770.46 L69.25,770.98 L69.44,771.48 L69.64,771.97 L69.83,772.48 L70.00,773.00 L70.16,773.55 L70.33,774.10 L70.49,774.67 L70.63,775.24 L70.74,775.82 L70.80,776.40 L70.81,776.98 L70.78,777.57 L70.72,778.16 L70.63,778.76 L70.52,779.37 L70.40,780.00 L70.26,780.65 L70.10,781.31 L69.91,781.99 L69.71,782.67 L69.51,783.35 L69.30,784.00 L69.09,784.64 L68.87,785.27 L68.65,785.89 L68.41,786.51 L68.17,787.11 L67.90,787.70 L67.61,788.27 L67.30,788.83 L66.98,789.38 L66.64,789.92 L66.32,790.46 L66.00,791.00 L65.69,791.54 L65.37,792.09 L65.06,792.63 L64.76,793.17 L64.47,793.69 L64.20,794.20 L63.95,794.71 L63.71,795.22 L63.48,795.72 L63.27,796.19 L63.08,796.62 L62.90,797.00 L62.74,797.32 L62.60,797.59 L62.47,797.83 L62.36,798.02 L62.27,798.18 L62.20,798.30 L61.20,798.30 L61.13,798.18 L61.04,798.02 L60.93,797.83 L60.80,797.59 L60.66,797.32 L60.50,797.00 L60.32,796.62 L60.13,796.19 L59.92,795.72 L59.69,795.22 L59.45,794.71 L59.20,794.20 L58.93,793.69 L58.64,793.17 L58.34,792.63 L58.03,792.09 L57.71,791.54 L57.40,791.00 L57.08,790.46 L56.76,789.92 L56.43,789.38 L56.10,788.83 L55.79,788.27 L55.50,787.70 L55.23,787.11 L54.99,786.51 L54.75,785.89 L54.53,785.27 L54.31,784.64 L54.10,784.00 L53.89,783.35 L53.69,782.67 L53.49,781.99 L53.30,781.31 L53.14,780.65 L53.00,780.00 L52.88,779.37 L52.77,778.76 L52.68,778.16 L52.62,777.57 L52.59,776.98 L52.60,776.40 L52.66,775.82 L52.77,775.24 L52.91,774.67 L53.07,774.10 L53.24,773.55 L53.40,773.00 L53.57,772.48 L53.76,771.97 L53.96,771.48 L54.15,770.98 L54.30,770.46 L54.40,769.90 L54.44,769.30 L54.43,768.67 L54.38,768.02 L54.32,767.36 L54.25,766.68 L54.20,766.00 L54.13,765.29 L54.01,764.56 L53.89,763.81 L53.81,763.07 L53.80,762.36 L53.90,761.70 L54.13,761.09 L54.47,760.53 L54.88,759.99 L55.32,759.47 L55.78,758.98 L56.20,758.50 L56.61,758.04 L57.03,757.61 L57.46,757.21 L57.88,756.81 L58.30,756.41 L58.70,756.00 L59.11,755.55 L59.54,755.07 L59.96,754.59 L60.34,754.15 L60.66,753.77 L60.90,753.50 Z" fill="#fff" stroke="#111" stroke-width="1.3" stroke-linejoin="round"/>
<line x1="54.3" y1="767.0" x2="69.1" y2="767.0" stroke="#777" stroke-width="0.8" stroke-dasharray="1.2 1.6"/>
<line x1="54.1" y1="784.0" x2="69.3" y2="784.0" stroke="#777" stroke-width="0.8" stroke-dasharray="1.2 1.6"/>
<circle cx="61.7" cy="754.1" r="1.45" fill="#9ec12c"/>
<circle cx="56.3" cy="763.4" r="1.45" fill="#9ec12c"/>
<circle cx="61.7" cy="761.7" r="1.45" fill="#9ec12c"/>
<circle cx="66.1" cy="763.4" r="1.45" fill="#9ec12c"/>
<circle cx="61.7" cy="765.8" r="1.45" fill="#9ec12c"/>
<circle cx="61.7" cy="770.2" r="1.45" fill="#9ec12c"/>
<circle cx="66.1" cy="771.5" r="1.45" fill="#9ec12c"/>
<circle cx="57.1" cy="773.9" r="1.45" fill="#9ec12c"/>
<circle cx="61.7" cy="774.7" r="1.45" fill="#9ec12c"/>
<circle cx="57.1" cy="778.8" r="1.45" fill="#9ec12c"/>
<circle cx="61.7" cy="779.6" r="1.45" fill="#9ec12c"/>
<circle cx="66.1" cy="778.0" r="1.45" fill="#9ec12c"/>
<circle cx="57.1" cy="783.7" r="1.45" fill="#9ec12c"/>
<circle cx="63.6" cy="783.7" r="1.45" fill="#9ec12c"/>
<circle cx="56.3" cy="786.9" r="1.45" fill="#9ec12c"/>
<circle cx="66.1" cy="788.5" r="1.45" fill="#9ec12c"/>
<circle cx="61.7" cy="789.4" r="1.45" fill="#9ec12c"/>
<circle cx="61.7" cy="797.8" r="1.45" fill="#9ec12c"/>
<line x1="52.9" y1="775.2" x2="70.5" y2="775.2" stroke="#111" stroke-width="1.5"/>
<path d="M89.70,741.40 L89.74,741.66 L89.80,742.00 L89.87,742.41 L89.93,742.88 L89.98,743.42 L90.00,744.00 L89.99,744.68 L89.96,745.46 L89.91,746.31 L89.85,747.16 L89.78,747.97 L89.70,748.70 L89.60,749.33 L89.47,749.91 L89.34,750.44 L89.20,750.96 L89.09,751.47 L89.00,752.00 L88.93,752.53 L88.85,753.05 L88.79,753.57 L88.77,754.09 L88.80,754.63 L88.90,755.20 L89.08,755.80 L89.33,756.43 L89.62,757.08 L89.96,757.73 L90.33,758.38 L90.70,759.00 L91.12,759.59 L91.59,760.17 L92.09,760.73 L92.58,761.30 L93.03,761.89 L93.40,762.50 L93.71,763.16 L93.99,763.87 L94.23,764.59 L94.41,765.30 L94.54,765.98 L94.60,766.60 L94.58,767.16 L94.48,767.69 L94.32,768.18 L94.12,768.64 L93.91,769.08 L93.70,769.50 L93.49,769.88 L93.26,770.21 L93.02,770.52 L92.76,770.83 L92.49,771.15 L92.20,771.50 L91.89,771.90 L91.54,772.33 L91.19,772.78 L90.83,773.22 L90.50,773.64 L90.20,774.00 L89.93,774.33 L89.67,774.63 L89.42,774.91 L89.21,775.15 L89.03,775.35 L88.90,775.50 L81.50,775.50 L81.37,775.35 L81.19,775.15 L80.98,774.91 L80.73,774.63 L80.47,774.33 L80.20,774.00 L79.90,773.64 L79.57,773.22 L79.21,772.78 L78.86,772.33 L78.51,771.90 L78.20,771.50 L77.91,771.15 L77.64,770.83 L77.38,770.52 L77.14,770.21 L76.91,769.88 L76.70,769.50 L76.49,769.08 L76.28,768.64 L76.08,768.18 L75.92,767.69 L75.82,767.16 L75.80,766.60 L75.86,765.98 L75.99,765.30 L76.17,764.59 L76.41,763.87 L76.69,763.16 L77.00,762.50 L77.37,761.89 L77.82,761.30 L78.31,760.73 L78.81,760.17 L79.28,759.59 L79.70,759.00 L80.07,758.38 L80.44,757.73 L80.78,757.08 L81.07,756.43 L81.32,755.80 L81.50,755.20 L81.60,754.63 L81.63,754.09 L81.61,753.57 L81.55,753.05 L81.47,752.53 L81.40,752.00 L81.31,751.47 L81.20,750.96 L81.06,750.44 L80.93,749.91 L80.80,749.33 L80.70,748.70 L80.62,747.97 L80.55,747.16 L80.49,746.31 L80.44,745.46 L80.41,744.68 L80.40,744.00 L80.42,743.42 L80.47,742.88 L80.53,742.41 L80.60,742.00 L80.66,741.66 L80.70,741.40 Z" fill="#fff" stroke="#111" stroke-width="1.3" stroke-linejoin="round"/>
<line x1="81.4" y1="752.0" x2="89.0" y2="752.0" stroke="#777" stroke-width="0.8" stroke-dasharray="1.2 1.6"/>
<line x1="77.1" y1="770.0" x2="93.3" y2="770.0" stroke="#777" stroke-width="0.8" stroke-dasharray="1.2 1.6"/>
<circle cx="85.2" cy="741.8" r="1.45" fill="#4b82d2"/>
<circle cx="82.8" cy="747.4" r="1.45" fill="#4b82d2"/>
<circle cx="87.7" cy="747.4" r="1.45" fill="#4b82d2"/>
<circle cx="85.2" cy="752.3" r="1.45" fill="#4b82d2"/>
<circle cx="85.2" cy="757.7" r="1.45" fill="#4b82d2"/>
<circle cx="85.2" cy="761.4" r="1.45" fill="#4b82d2"/>
<circle cx="80.7" cy="765.8" r="1.45" fill="#4b82d2"/>
<circle cx="85.2" cy="765.8" r="1.45" fill="#4b82d2"/>
<circle cx="89.6" cy="765.5" r="1.45" fill="#4b82d2"/>
<circle cx="85.2" cy="769.0" r="1.45" fill="#4b82d2"/>
<circle cx="85.2" cy="770.2" r="1.45" fill="#4b82d2"/>
<circle cx="82.8" cy="775.5" r="1.45" fill="#4b82d2"/>
<circle cx="87.7" cy="773.9" r="1.45" fill="#4b82d2"/>
<line x1="77.0" y1="762.5" x2="93.4" y2="762.5" stroke="#111" stroke-width="1.5"/>
<line x1="125.6" y1="741.4" x2="187.9" y2="741.4" stroke="#ececec" stroke-width="0.9"/>
<line x1="125.6" y1="776.6" x2="187.9" y2="776.6" stroke="#ececec" stroke-width="0.9"/>
<line x1="125.6" y1="811.8" x2="187.9" y2="811.8" stroke="#ececec" stroke-width="0.9"/>
<line x1="144.5" y1="727.4" x2="144.5" y2="819.4" stroke="#ececec" stroke-width="0.9"/>
<line x1="168.4" y1="727.4" x2="168.4" y2="819.4" stroke="#ececec" stroke-width="0.9"/>
<rect x="125.6" y="727.4" width="62.3" height="92.0" fill="none" stroke="#1a1a1a" stroke-width="1.6"/>
<line x1="120.4" y1="741.4" x2="125.6" y2="741.4" stroke="#1a1a1a" stroke-width="1.6"/>
<text x="119.1" y="744.6" font-size="9" font-weight="bold" text-anchor="end" fill="#111">10</text>
<line x1="120.4" y1="776.6" x2="125.6" y2="776.6" stroke="#1a1a1a" stroke-width="1.6"/>
<text x="119.1" y="779.8" font-size="9" font-weight="bold" text-anchor="end" fill="#111">5</text>
<line x1="120.4" y1="811.8" x2="125.6" y2="811.8" stroke="#1a1a1a" stroke-width="1.6"/>
<text x="119.1" y="815.0" font-size="9" font-weight="bold" text-anchor="end" fill="#111">0</text>
<line x1="122.4" y1="759.0" x2="125.6" y2="759.0" stroke="#1a1a1a" stroke-width="1.6"/>
<line x1="122.4" y1="794.2" x2="125.6" y2="794.2" stroke="#1a1a1a" stroke-width="1.6"/>
<line x1="144.5" y1="819.4" x2="144.5" y2="824.4" stroke="#1a1a1a" stroke-width="1.6"/>
<line x1="168.4" y1="819.4" x2="168.4" y2="824.4" stroke="#1a1a1a" stroke-width="1.6"/>
<text x="156.4" y="719.2" font-size="11.1" font-weight="bold" text-anchor="middle" fill="#111">KRT23</text>
<text x="156.4" y="833.4" font-size="9.2" font-weight="bold" text-anchor="middle" fill="#111" textLength="77.0" lengthAdjust="spacingAndGlyphs">KAT2A Dependency</text>
<text x="155.5" y="742.2" font-size="15.5" font-weight="bold" text-anchor="middle" fill="#111">**</text>
<path d="M146.30,748.70 L146.44,748.86 L146.66,749.07 L146.90,749.32 L147.14,749.63 L147.36,750.02 L147.50,750.50 L147.57,751.06 L147.59,751.71 L147.58,752.42 L147.55,753.21 L147.52,754.07 L147.50,755.00 L147.49,756.03 L147.47,757.19 L147.46,758.41 L147.44,759.65 L147.42,760.86 L147.40,762.00 L147.38,763.09 L147.37,764.17 L147.36,765.22 L147.34,766.22 L147.32,767.16 L147.30,768.00 L147.28,768.72 L147.26,769.31 L147.23,769.84 L147.20,770.35 L147.16,770.89 L147.10,771.50 L147.02,772.20 L146.93,772.94 L146.82,773.72 L146.71,774.50 L146.60,775.27 L146.50,776.00 L146.40,776.69 L146.29,777.35 L146.18,778.00 L146.07,778.65 L145.98,779.31 L145.90,780.00 L145.83,780.72 L145.76,781.46 L145.70,782.22 L145.66,782.98 L145.66,783.74 L145.70,784.50 L145.80,785.26 L145.94,786.02 L146.12,786.78 L146.32,787.54 L146.52,788.28 L146.70,789.00 L146.86,789.69 L147.02,790.35 L147.18,791.00 L147.34,791.65 L147.52,792.31 L147.70,793.00 L147.90,793.73 L148.11,794.50 L148.33,795.28 L148.56,796.06 L148.78,796.80 L149.00,797.50 L149.21,798.15 L149.41,798.76 L149.61,799.34 L149.81,799.91 L150.04,800.46 L150.30,801.00 L150.60,801.52 L150.93,802.00 L151.28,802.47 L151.64,802.94 L151.98,803.45 L152.30,804.00 L152.61,804.63 L152.92,805.31 L153.22,806.03 L153.49,806.74 L153.72,807.41 L153.90,808.00 L154.01,808.51 L154.07,808.98 L154.08,809.40 L154.07,809.79 L154.04,810.15 L154.00,810.50 L153.95,810.84 L153.86,811.16 L153.76,811.46 L153.65,811.72 L153.56,811.94 L153.50,812.10 L135.50,812.10 L135.44,811.94 L135.35,811.72 L135.24,811.46 L135.14,811.16 L135.05,810.84 L135.00,810.50 L134.96,810.15 L134.93,809.79 L134.92,809.40 L134.93,808.98 L134.99,808.51 L135.10,808.00 L135.28,807.41 L135.51,806.74 L135.78,806.03 L136.08,805.31 L136.39,804.63 L136.70,804.00 L137.02,803.45 L137.36,802.94 L137.72,802.47 L138.07,802.00 L138.40,801.52 L138.70,801.00 L138.96,800.46 L139.19,799.91 L139.39,799.34 L139.59,798.76 L139.79,798.15 L140.00,797.50 L140.22,796.80 L140.44,796.06 L140.67,795.28 L140.89,794.50 L141.10,793.73 L141.30,793.00 L141.48,792.31 L141.66,791.65 L141.82,791.00 L141.98,790.35 L142.14,789.69 L142.30,789.00 L142.48,788.28 L142.68,787.54 L142.88,786.78 L143.06,786.02 L143.20,785.26 L143.30,784.50 L143.34,783.74 L143.34,782.98 L143.30,782.22 L143.24,781.46 L143.17,780.72 L143.10,780.00 L143.02,779.31 L142.93,778.65 L142.82,778.00 L142.71,777.35 L142.60,776.69 L142.50,776.00 L142.40,775.27 L142.29,774.50 L142.18,773.72 L142.07,772.94 L141.98,772.20 L141.90,771.50 L141.84,770.89 L141.80,770.35 L141.77,769.84 L141.74,769.31 L141.72,768.72 L141.70,768.00 L141.68,767.16 L141.66,766.22 L141.64,765.22 L141.63,764.17 L141.62,763.09 L141.60,762.00 L141.58,760.86 L141.56,759.65 L141.54,758.41 L141.53,757.19 L141.51,756.03 L141.50,755.00 L141.48,754.07 L141.45,753.21 L141.42,752.42 L141.41,751.71 L141.43,751.06 L141.50,750.50 L141.64,750.02 L141.86,749.63 L142.10,749.32 L142.34,749.07 L142.56,748.86 L142.70,748.70 Z" fill="#fff" stroke="#111" stroke-width="1.3" stroke-linejoin="round"/>
<circle cx="144.5" cy="749.6" r="1.45" fill="#9ec12c"/>
<circle cx="144.5" cy="752.8" r="1.45" fill="#9ec12c"/>
<circle cx="144.5" cy="758.8" r="1.45" fill="#9ec12c"/>
<circle cx="144.5" cy="769.9" r="1.45" fill="#9ec12c"/>
<circle cx="144.5" cy="772.8" r="1.45" fill="#9ec12c"/>
<circle cx="144.5" cy="789.0" r="1.45" fill="#9ec12c"/>
<circle cx="142.4" cy="801.5" r="1.45" fill="#9ec12c"/>
<circle cx="146.9" cy="800.7" r="1.45" fill="#9ec12c"/>
<circle cx="137.5" cy="811.3" r="1.45" fill="#9ec12c"/>
<circle cx="139.9" cy="811.8" r="1.45" fill="#9ec12c"/>
<circle cx="142.4" cy="810.5" r="1.45" fill="#9ec12c"/>
<circle cx="144.8" cy="811.8" r="1.45" fill="#9ec12c"/>
<circle cx="147.2" cy="811.8" r="1.45" fill="#9ec12c"/>
<circle cx="149.7" cy="811.8" r="1.45" fill="#9ec12c"/>
<circle cx="152.1" cy="811.8" r="1.45" fill="#9ec12c"/>
<circle cx="138.3" cy="810.2" r="1.45" fill="#9ec12c"/>
<line x1="138.7" y1="801.0" x2="150.3" y2="801.0" stroke="#111" stroke-width="1.5"/>
<path d="M173.30,746.00 L173.26,746.31 L173.21,746.72 L173.16,747.21 L173.09,747.77 L173.00,748.37 L172.90,749.00 L172.76,749.69 L172.57,750.46 L172.37,751.28 L172.19,752.10 L172.05,752.88 L172.00,753.60 L172.03,754.23 L172.11,754.80 L172.25,755.34 L172.43,755.87 L172.65,756.41 L172.90,757.00 L173.20,757.61 L173.57,758.23 L173.97,758.86 L174.40,759.53 L174.81,760.23 L175.20,761.00 L175.60,761.87 L176.03,762.83 L176.45,763.84 L176.83,764.84 L177.13,765.78 L177.30,766.60 L177.34,767.29 L177.26,767.89 L177.11,768.43 L176.89,768.94 L176.65,769.45 L176.40,770.00 L176.13,770.58 L175.81,771.16 L175.47,771.74 L175.11,772.33 L174.75,772.92 L174.40,773.50 L174.06,774.08 L173.73,774.64 L173.39,775.21 L173.05,775.78 L172.72,776.38 L172.40,777.00 L172.07,777.68 L171.73,778.40 L171.39,779.14 L171.07,779.88 L170.81,780.57 L170.60,781.20 L170.47,781.74 L170.40,782.20 L170.38,782.63 L170.39,783.05 L170.40,783.50 L170.40,784.00 L170.40,784.56 L170.40,785.14 L170.42,785.76 L170.44,786.39 L170.47,787.04 L170.50,787.70 L170.54,788.37 L170.58,789.04 L170.63,789.74 L170.69,790.46 L170.74,791.21 L170.80,792.00 L170.87,792.85 L170.94,793.76 L171.02,794.69 L171.09,795.64 L171.16,796.59 L171.20,797.50 L171.22,798.44 L171.23,799.45 L171.22,800.44 L171.21,801.36 L171.20,802.14 L171.20,802.70 L165.60,802.70 L165.60,802.14 L165.59,801.36 L165.58,800.44 L165.57,799.45 L165.58,798.44 L165.60,797.50 L165.64,796.59 L165.71,795.64 L165.78,794.69 L165.86,793.76 L165.93,792.85 L166.00,792.00 L166.06,791.21 L166.11,790.46 L166.17,789.74 L166.22,789.04 L166.26,788.37 L166.30,787.70 L166.33,787.04 L166.36,786.39 L166.38,785.76 L166.40,785.14 L166.40,784.56 L166.40,784.00 L166.40,783.50 L166.41,783.05 L166.42,782.63 L166.40,782.20 L166.33,781.74 L166.20,781.20 L165.99,780.57 L165.73,779.88 L165.41,779.14 L165.07,778.40 L164.73,777.68 L164.40,777.00 L164.08,776.38 L163.75,775.78 L163.41,775.21 L163.07,774.64 L162.74,774.08 L162.40,773.50 L162.05,772.92 L161.69,772.33 L161.33,771.74 L160.99,771.16 L160.67,770.58 L160.40,770.00 L160.15,769.45 L159.91,768.94 L159.69,768.43 L159.54,767.89 L159.46,767.29 L159.50,766.60 L159.67,765.78 L159.97,764.84 L160.35,763.84 L160.77,762.83 L161.20,761.87 L161.60,761.00 L161.99,760.23 L162.40,759.53 L162.83,758.86 L163.23,758.23 L163.60,757.61 L163.90,757.00 L164.15,756.41 L164.37,755.87 L164.55,755.34 L164.69,754.80 L164.77,754.23 L164.80,753.60 L164.75,752.88 L164.61,752.10 L164.43,751.28 L164.23,750.46 L164.04,749.69 L163.90,749.00 L163.80,748.37 L163.71,747.77 L163.64,747.21 L163.59,746.72 L163.54,746.31 L163.50,746.00 Z" fill="#fff" stroke="#111" stroke-width="1.3" stroke-linejoin="round"/>
<line x1="164.3" y1="751.0" x2="172.5" y2="751.0" stroke="#777" stroke-width="0.8" stroke-dasharray="1.2 1.6"/>
<line x1="163.8" y1="776.0" x2="173.0" y2="776.0" stroke="#777" stroke-width="0.8" stroke-dasharray="1.2 1.6"/>
<circle cx="163.5" cy="746.3" r="1.45" fill="#4b82d2"/>
<circle cx="168.4" cy="747.9" r="1.45" fill="#4b82d2"/>
<circle cx="173.2" cy="746.3" r="1.45" fill="#4b82d2"/>
<circle cx="168.4" cy="758.8" r="1.45" fill="#4b82d2"/>
<circle cx="163.5" cy="765.8" r="1.45" fill="#4b82d2"/>
<circle cx="168.4" cy="765.8" r="1.45" fill="#4b82d2"/>
<circle cx="173.2" cy="766.6" r="1.45" fill="#4b82d2"/>
<circle cx="168.4" cy="767.9" r="1.45" fill="#4b82d2"/>
<circle cx="168.4" cy="773.9" r="1.45" fill="#4b82d2"/>
<circle cx="168.4" cy="776.4" r="1.45" fill="#4b82d2"/>
<circle cx="168.4" cy="777.7" r="1.45" fill="#4b82d2"/>
<circle cx="168.4" cy="795.5" r="1.45" fill="#4b82d2"/>
<circle cx="168.4" cy="802.4" r="1.45" fill="#4b82d2"/>
<line x1="159.6" y1="766.3" x2="177.2" y2="766.3" stroke="#111" stroke-width="1.5"/>
<line x1="217.7" y1="741.4" x2="280.8" y2="741.4" stroke="#ececec" stroke-width="0.9"/>
<line x1="217.7" y1="776.6" x2="280.8" y2="776.6" stroke="#ececec" stroke-width="0.9"/>
<line x1="217.7" y1="811.8" x2="280.8" y2="811.8" stroke="#ececec" stroke-width="0.9"/>
<line x1="237.2" y1="727.4" x2="237.2" y2="819.4" stroke="#ececec" stroke-width="0.9"/>
<line x1="260.8" y1="727.4" x2="260.8" y2="819.4" stroke="#ececec" stroke-width="0.9"/>
<rect x="217.7" y="727.4" width="63.1" height="92.0" fill="none" stroke="#1a1a1a" stroke-width="1.6"/>
<line x1="212.5" y1="741.4" x2="217.7" y2="741.4" stroke="#1a1a1a" stroke-width="1.6"/>
<text x="211.2" y="744.6" font-size="9" font-weight="bold" text-anchor="end" fill="#111">10</text>
<line x1="212.5" y1="776.6" x2="217.7" y2="776.6" stroke="#1a1a1a" stroke-width="1.6"/>
<text x="211.2" y="779.8" font-size="9" font-weight="bold" text-anchor="end" fill="#111">5</text>
<line x1="212.5" y1="811.8" x2="217.7" y2="811.8" stroke="#1a1a1a" stroke-width="1.6"/>
<text x="211.2" y="815.0" font-size="9" font-weight="bold" text-anchor="end" fill="#111">0</text>
<line x1="214.5" y1="759.0" x2="217.7" y2="759.0" stroke="#1a1a1a" stroke-width="1.6"/>
<line x1="214.5" y1="794.2" x2="217.7" y2="794.2" stroke="#1a1a1a" stroke-width="1.6"/>
<line x1="237.2" y1="819.4" x2="237.2" y2="824.4" stroke="#1a1a1a" stroke-width="1.6"/>
<line x1="260.8" y1="819.4" x2="260.8" y2="824.4" stroke="#1a1a1a" stroke-width="1.6"/>
<text x="248.8" y="719.2" font-size="11.1" font-weight="bold" text-anchor="middle" fill="#111">KRT20</text>
<text x="249.0" y="833.4" font-size="9.2" font-weight="bold" text-anchor="middle" fill="#111" textLength="77.0" lengthAdjust="spacingAndGlyphs">KAT2A Dependency</text>
<text x="250.2" y="742.2" font-size="15.5" font-weight="bold" text-anchor="middle" fill="#111">*</text>
<path d="M238.80,741.90 L238.96,742.03 L239.17,742.18 L239.43,742.38 L239.70,742.64 L239.97,743.01 L240.20,743.50 L240.40,744.13 L240.60,744.89 L240.78,745.74 L240.96,746.68 L241.13,747.67 L241.30,748.70 L241.47,749.78 L241.63,750.91 L241.79,752.11 L241.94,753.36 L242.08,754.66 L242.20,756.00 L242.31,757.44 L242.42,758.99 L242.51,760.58 L242.59,762.16 L242.66,763.65 L242.70,765.00 L242.72,766.16 L242.73,767.19 L242.71,768.12 L242.69,769.04 L242.65,769.98 L242.60,771.00 L242.54,772.12 L242.45,773.31 L242.35,774.52 L242.25,775.73 L242.16,776.90 L242.10,778.00 L242.07,779.05 L242.06,780.09 L242.06,781.08 L242.06,782.03 L242.04,782.90 L242.00,783.70 L241.93,784.38 L241.84,784.95 L241.73,785.46 L241.62,785.94 L241.51,786.44 L241.40,787.00 L241.28,787.63 L241.14,788.28 L241.01,788.96 L240.89,789.64 L240.81,790.33 L240.80,791.00 L240.84,791.65 L240.92,792.27 L241.04,792.89 L241.20,793.54 L241.42,794.23 L241.70,795.00 L242.08,795.88 L242.56,796.86 L243.09,797.89 L243.62,798.91 L244.11,799.87 L244.50,800.70 L244.79,801.39 L245.01,801.98 L245.19,802.51 L245.34,803.00 L245.47,803.48 L245.60,804.00 L245.73,804.54 L245.84,805.09 L245.94,805.63 L246.01,806.17 L246.07,806.69 L246.10,807.20 L246.10,807.70 L246.07,808.19 L246.02,808.67 L245.95,809.13 L245.88,809.58 L245.80,810.00 L245.71,810.41 L245.60,810.83 L245.48,811.23 L245.37,811.58 L245.27,811.88 L245.20,812.10 L229.20,812.10 L229.13,811.88 L229.03,811.58 L228.92,811.23 L228.80,810.83 L228.69,810.41 L228.60,810.00 L228.52,809.58 L228.45,809.13 L228.38,808.67 L228.33,808.19 L228.30,807.70 L228.30,807.20 L228.33,806.69 L228.39,806.17 L228.46,805.63 L228.56,805.09 L228.67,804.54 L228.80,804.00 L228.93,803.48 L229.06,803.00 L229.21,802.51 L229.39,801.98 L229.61,801.39 L229.90,800.70 L230.29,799.87 L230.78,798.91 L231.31,797.89 L231.84,796.86 L232.32,795.88 L232.70,795.00 L232.98,794.23 L233.20,793.54 L233.36,792.89 L233.48,792.27 L233.56,791.65 L233.60,791.00 L233.59,790.33 L233.51,789.64 L233.39,788.96 L233.26,788.28 L233.12,787.63 L233.00,787.00 L232.89,786.44 L232.78,785.94 L232.67,785.46 L232.56,784.95 L232.47,784.38 L232.40,783.70 L232.36,782.90 L232.34,782.03 L232.34,781.08 L232.34,780.09 L232.33,779.05 L232.30,778.00 L232.24,776.90 L232.15,775.73 L232.05,774.52 L231.95,773.31 L231.86,772.12 L231.80,771.00 L231.75,769.98 L231.71,769.04 L231.69,768.12 L231.67,767.19 L231.68,766.16 L231.70,765.00 L231.74,763.65 L231.81,762.16 L231.89,760.58 L231.98,758.99 L232.09,757.44 L232.20,756.00 L232.32,754.66 L232.46,753.36 L232.61,752.11 L232.77,750.91 L232.93,749.78 L233.10,748.70 L233.27,747.67 L233.44,746.68 L233.62,745.74 L233.80,744.89 L234.00,744.13 L234.20,743.50 L234.43,743.01 L234.70,742.64 L234.97,742.38 L235.23,742.18 L235.44,742.03 L235.60,741.90 Z" fill="#fff" stroke="#111" stroke-width="1.3" stroke-linejoin="round"/>
<line x1="231.9" y1="762.0" x2="242.5" y2="762.0" stroke="#777" stroke-width="0.8" stroke-dasharray="1.2 1.6"/>
<line x1="228.6" y1="810.0" x2="245.8" y2="810.0" stroke="#777" stroke-width="0.8" stroke-dasharray="1.2 1.6"/>
<circle cx="237.2" cy="742.6" r="1.45" fill="#9ec12c"/>
<circle cx="237.2" cy="752.0" r="1.45" fill="#9ec12c"/>
<circle cx="237.2" cy="754.4" r="1.45" fill="#9ec12c"/>
<circle cx="237.2" cy="756.9" r="1.45" fill="#9ec12c"/>
<circle cx="237.2" cy="763.0" r="1.45" fill="#9ec12c"/>
<circle cx="237.2" cy="769.0" r="1.45" fill="#9ec12c"/>
<circle cx="237.2" cy="777.7" r="1.45" fill="#9ec12c"/>
<circle cx="237.2" cy="779.9" r="1.45" fill="#9ec12c"/>
<circle cx="235.3" cy="783.7" r="1.45" fill="#9ec12c"/>
<circle cx="239.2" cy="783.7" r="1.45" fill="#9ec12c"/>
<circle cx="237.2" cy="798.3" r="1.45" fill="#9ec12c"/>
<circle cx="237.2" cy="803.7" r="1.45" fill="#9ec12c"/>
<circle cx="234.8" cy="807.2" r="1.45" fill="#9ec12c"/>
<circle cx="229.9" cy="809.2" r="1.45" fill="#9ec12c"/>
<circle cx="229.9" cy="811.8" r="1.45" fill="#9ec12c"/>
<circle cx="234.8" cy="811.8" r="1.45" fill="#9ec12c"/>
<circle cx="239.7" cy="811.8" r="1.45" fill="#9ec12c"/>
<circle cx="243.7" cy="811.3" r="1.45" fill="#9ec12c"/>
<circle cx="232.4" cy="812.1" r="1.45" fill="#9ec12c"/>
<line x1="232.4" y1="783.7" x2="242.0" y2="783.7" stroke="#111" stroke-width="1.5"/>
<path d="M262.80,737.70 L262.98,737.93 L263.23,738.24 L263.52,738.61 L263.83,739.03 L264.13,739.50 L264.40,740.00 L264.63,740.56 L264.83,741.17 L265.03,741.84 L265.23,742.53 L265.45,743.22 L265.70,743.90 L265.99,744.57 L266.31,745.26 L266.65,745.94 L266.99,746.63 L267.31,747.32 L267.60,748.00 L267.86,748.65 L268.11,749.28 L268.34,749.90 L268.55,750.54 L268.74,751.24 L268.90,752.00 L269.06,752.88 L269.21,753.86 L269.34,754.89 L269.43,755.91 L269.46,756.87 L269.40,757.70 L269.24,758.38 L269.01,758.95 L268.71,759.46 L268.36,759.94 L267.98,760.44 L267.60,761.00 L267.18,761.63 L266.69,762.28 L266.18,762.96 L265.67,763.64 L265.20,764.33 L264.80,765.00 L264.48,765.67 L264.20,766.33 L263.96,766.99 L263.76,767.66 L263.57,768.33 L263.40,769.00 L263.25,769.65 L263.13,770.26 L263.03,770.87 L262.94,771.52 L262.87,772.25 L262.80,773.10 L262.74,773.94 L262.70,774.71 L262.66,775.56 L262.64,776.63 L262.62,778.06 L262.60,780.00 L262.59,782.71 L262.59,786.14 L262.59,789.93 L262.59,793.74 L262.60,797.21 L262.60,800.00 L262.60,802.08 L262.61,803.73 L262.62,805.04 L262.62,806.13 L262.62,807.08 L262.60,808.00 L262.57,808.85 L262.54,809.55 L262.49,810.12 L262.44,810.58 L262.38,810.97 L262.30,811.30 L262.20,811.55 L262.07,811.69 L261.93,811.76 L261.80,811.77 L261.68,811.78 L261.60,811.80 L260.00,811.80 L259.92,811.78 L259.80,811.77 L259.67,811.76 L259.53,811.69 L259.40,811.55 L259.30,811.30 L259.22,810.97 L259.16,810.58 L259.11,810.12 L259.06,809.55 L259.03,808.85 L259.00,808.00 L258.98,807.08 L258.98,806.13 L258.98,805.04 L258.99,803.73 L259.00,802.08 L259.00,800.00 L259.00,797.21 L259.01,793.74 L259.01,789.93 L259.01,786.14 L259.01,782.71 L259.00,780.00 L258.98,778.06 L258.96,776.63 L258.94,775.56 L258.90,774.71 L258.86,773.94 L258.80,773.10 L258.73,772.25 L258.66,771.52 L258.57,770.87 L258.47,770.26 L258.35,769.65 L258.20,769.00 L258.03,768.33 L257.84,767.66 L257.64,766.99 L257.40,766.33 L257.12,765.67 L256.80,765.00 L256.40,764.33 L255.93,763.64 L255.43,762.96 L254.91,762.28 L254.43,761.63 L254.00,761.00 L253.62,760.44 L253.24,759.94 L252.89,759.46 L252.59,758.95 L252.36,758.38 L252.20,757.70 L252.14,756.87 L252.17,755.91 L252.26,754.89 L252.39,753.86 L252.54,752.88 L252.70,752.00 L252.86,751.24 L253.05,750.54 L253.26,749.90 L253.49,749.28 L253.74,748.65 L254.00,748.00 L254.29,747.32 L254.61,746.63 L254.95,745.94 L255.29,745.26 L255.61,744.57 L255.90,743.90 L256.15,743.22 L256.37,742.53 L256.57,741.84 L256.77,741.17 L256.97,740.56 L257.20,740.00 L257.47,739.50 L257.77,739.03 L258.08,738.61 L258.37,738.24 L258.62,737.93 L258.80,737.70 Z" fill="#fff" stroke="#111" stroke-width="1.3" stroke-linejoin="round"/>
<line x1="254.9" y1="746.0" x2="266.7" y2="746.0" stroke="#777" stroke-width="0.8" stroke-dasharray="1.2 1.6"/>
<line x1="253.5" y1="760.0" x2="268.1" y2="760.0" stroke="#777" stroke-width="0.8" stroke-dasharray="1.2 1.6"/>
<circle cx="260.8" cy="737.7" r="1.45" fill="#4b82d2"/>
<circle cx="258.4" cy="747.1" r="1.45" fill="#4b82d2"/>
<circle cx="263.2" cy="746.0" r="1.45" fill="#4b82d2"/>
<circle cx="260.8" cy="750.4" r="1.45" fill="#4b82d2"/>
<circle cx="260.8" cy="752.5" r="1.45" fill="#4b82d2"/>
<circle cx="260.8" cy="756.9" r="1.45" fill="#4b82d2"/>
<circle cx="256.4" cy="760.1" r="1.45" fill="#4b82d2"/>
<circle cx="260.8" cy="760.9" r="1.45" fill="#4b82d2"/>
<circle cx="265.7" cy="760.1" r="1.45" fill="#4b82d2"/>
<circle cx="260.8" cy="779.1" r="1.45" fill="#4b82d2"/>
<circle cx="260.8" cy="797.2" r="1.45" fill="#4b82d2"/>
<circle cx="260.8" cy="810.8" r="1.45" fill="#4b82d2"/>
<line x1="252.4" y1="758.0" x2="269.2" y2="758.0" stroke="#111" stroke-width="1.5"/>
<g transform="translate(24.3,653.8) rotate(-90)">
<text x="0.0" y="0.0" font-size="9.9" fill="#000">LOG</text>
<text x="21.0" y="2.2" font-size="7.8" fill="#000">2</text>
<text x="28.0" y="0.0" font-size="9.9" fill="#000">RPKM</text>
</g>
<g transform="translate(24.5,801.0) rotate(-90)">
<text x="0.0" y="0.0" font-size="9.9" fill="#000">LOG</text>
<text x="21.0" y="2.2" font-size="7.8" fill="#000">2</text>
<text x="28.0" y="0.0" font-size="9.9" fill="#000">RPKM</text>
</g>
<rect x="44.6" y="851.6" width="7.9" height="8.2" fill="#9ec12c" stroke="#6b8a1a" stroke-width="0.5"/>
<text x="61.0" y="858.6" font-size="9" fill="#222" textLength="91.8" lengthAdjust="spacingAndGlyphs">KAT2A INDEPENDENT</text>
<rect x="177.8" y="851.6" width="7.9" height="8.2" fill="#4b82d2" stroke="#2d5a9a" stroke-width="0.5"/>
<text x="193.1" y="858.6" font-size="9" fill="#222" textLength="83.9" lengthAdjust="spacingAndGlyphs">KAT2A DEPENDENT</text>
<text x="330.6" y="559.5" font-size="24.5" fill="#000" textLength="15.5" lengthAdjust="spacingAndGlyphs">e</text>
<line x1="353.1" y1="641.7" x2="445.8" y2="641.7" stroke="#e9e9e9" stroke-width="0.9"/>
<line x1="353.1" y1="611.1" x2="445.8" y2="611.1" stroke="#e9e9e9" stroke-width="0.9"/>
<line x1="390.0" y1="580.4" x2="390.0" y2="672.4" stroke="#e9e9e9" stroke-width="0.9"/>
<line x1="426.9" y1="580.4" x2="426.9" y2="672.4" stroke="#e9e9e9" stroke-width="0.9"/>
<path d="M360.4,605.0 L363.1,606.9 L365.8,608.8 L368.6,610.7 L371.3,612.6 L374.0,614.4 L376.7,616.3 L379.5,618.1 L382.2,619.9 L384.9,621.7 L387.6,623.4 L390.4,625.1 L393.1,626.8 L395.8,628.5 L398.5,630.1 L401.3,631.6 L404.0,633.1 L406.7,634.6 L409.4,636.0 L412.2,637.3 L414.9,638.6 L417.6,639.9 L420.3,641.1 L423.1,642.2 L425.8,643.3 L428.5,644.4 L431.2,645.5 L434.0,646.5 L436.7,647.4 L439.4,648.4 L439.4,671.1 L436.7,669.3 L434.0,667.5 L431.2,665.8 L428.5,664.1 L425.8,662.4 L423.1,660.7 L420.3,659.1 L417.6,657.6 L414.9,656.1 L412.2,654.6 L409.4,653.2 L406.7,651.9 L404.0,650.6 L401.3,649.3 L398.5,648.1 L395.8,647.0 L393.1,645.8 L390.4,644.8 L387.6,643.7 L384.9,642.7 L382.2,641.7 L379.5,640.8 L376.7,639.8 L374.0,638.9 L371.3,638.0 L368.6,637.2 L365.8,636.3 L363.1,635.4 L360.4,634.6 Z" fill="#cdd0ec"/>
<circle cx="384.1" cy="589.8" r="1.85" fill="#170a8f"/>
<circle cx="392.0" cy="591.2" r="1.85" fill="#170a8f"/>
<circle cx="375.2" cy="599.1" r="1.85" fill="#170a8f"/>
<circle cx="376.8" cy="598.7" r="1.85" fill="#170a8f"/>
<circle cx="364.0" cy="609.6" r="1.85" fill="#170a8f"/>
<circle cx="384.1" cy="611.0" r="1.85" fill="#170a8f"/>
<circle cx="388.1" cy="607.0" r="1.85" fill="#170a8f"/>
<circle cx="402.5" cy="611.9" r="1.85" fill="#170a8f"/>
<circle cx="419.2" cy="609.6" r="1.85" fill="#170a8f"/>
<circle cx="429.1" cy="620.2" r="1.85" fill="#170a8f"/>
<circle cx="361.4" cy="621.8" r="1.85" fill="#170a8f"/>
<circle cx="415.3" cy="621.4" r="1.85" fill="#170a8f"/>
<circle cx="389.4" cy="625.2" r="1.85" fill="#170a8f"/>
<circle cx="387.7" cy="630.7" r="1.85" fill="#170a8f"/>
<circle cx="410.7" cy="630.1" r="1.85" fill="#170a8f"/>
<circle cx="398.9" cy="637.6" r="1.85" fill="#170a8f"/>
<circle cx="420.2" cy="635.6" r="1.85" fill="#170a8f"/>
<circle cx="438.4" cy="638.0" r="1.85" fill="#170a8f"/>
<circle cx="386.5" cy="645.1" r="1.85" fill="#170a8f"/>
<circle cx="406.4" cy="641.5" r="1.85" fill="#170a8f"/>
<circle cx="407.8" cy="641.5" r="1.85" fill="#170a8f"/>
<circle cx="413.1" cy="640.9" r="1.85" fill="#170a8f"/>
<circle cx="418.6" cy="641.5" r="1.85" fill="#170a8f"/>
<circle cx="418.6" cy="644.5" r="1.85" fill="#170a8f"/>
<circle cx="404.8" cy="648.4" r="1.85" fill="#170a8f"/>
<circle cx="405.4" cy="649.4" r="1.85" fill="#170a8f"/>
<circle cx="412.1" cy="647.4" r="1.85" fill="#170a8f"/>
<circle cx="413.1" cy="649.4" r="1.85" fill="#170a8f"/>
<circle cx="424.6" cy="649.0" r="1.85" fill="#170a8f"/>
<circle cx="428.1" cy="651.8" r="1.85" fill="#170a8f"/>
<circle cx="399.3" cy="654.4" r="1.85" fill="#170a8f"/>
<circle cx="402.5" cy="654.0" r="1.85" fill="#170a8f"/>
<circle cx="409.2" cy="654.9" r="1.85" fill="#170a8f"/>
<circle cx="418.0" cy="653.0" r="1.85" fill="#170a8f"/>
<circle cx="404.8" cy="650.4" r="1.85" fill="#170a8f"/>
<circle cx="374.6" cy="661.3" r="1.85" fill="#170a8f"/>
<circle cx="412.3" cy="662.2" r="1.85" fill="#170a8f"/>
<circle cx="418.0" cy="659.7" r="1.85" fill="#170a8f"/>
<circle cx="419.6" cy="658.3" r="1.85" fill="#170a8f"/>
<circle cx="418.6" cy="660.9" r="1.85" fill="#170a8f"/>
<circle cx="425.5" cy="657.3" r="1.85" fill="#170a8f"/>
<circle cx="428.9" cy="658.3" r="1.85" fill="#170a8f"/>
<circle cx="426.5" cy="662.2" r="1.85" fill="#170a8f"/>
<circle cx="421.6" cy="664.2" r="1.85" fill="#170a8f"/>
<circle cx="404.4" cy="664.2" r="1.85" fill="#170a8f"/>
<circle cx="401.5" cy="666.8" r="1.85" fill="#170a8f"/>
<circle cx="384.1" cy="666.2" r="1.85" fill="#170a8f"/>
<circle cx="378.2" cy="670.3" r="1.85" fill="#170a8f"/>
<circle cx="395.6" cy="670.1" r="1.85" fill="#170a8f"/>
<circle cx="409.2" cy="672.1" r="1.85" fill="#170a8f"/>
<circle cx="411.7" cy="671.5" r="1.85" fill="#170a8f"/>
<circle cx="413.7" cy="669.1" r="1.85" fill="#170a8f"/>
<circle cx="416.7" cy="668.8" r="1.85" fill="#170a8f"/>
<circle cx="438.0" cy="662.8" r="1.85" fill="#170a8f"/>
<circle cx="439.6" cy="667.2" r="1.85" fill="#170a8f"/>
<line x1="360.4" y1="620.2" x2="439.4" y2="659.9" stroke="#1f1a99" stroke-width="1.4"/>
<rect x="353.1" y="580.4" width="92.7" height="92.0" fill="none" stroke="#1a1a1a" stroke-width="1.6"/>
<line x1="348.1" y1="672.4" x2="353.1" y2="672.4" stroke="#1a1a1a" stroke-width="1.6"/>
<text x="346.9" y="675.8" font-size="9.5" font-weight="bold" text-anchor="end" fill="#111">0</text>
<line x1="348.1" y1="641.7" x2="353.1" y2="641.7" stroke="#1a1a1a" stroke-width="1.6"/>
<text x="346.9" y="645.1" font-size="9.5" font-weight="bold" text-anchor="end" fill="#111">2</text>
<line x1="348.1" y1="611.1" x2="353.1" y2="611.1" stroke="#1a1a1a" stroke-width="1.6"/>
<text x="346.9" y="614.5" font-size="9.5" font-weight="bold" text-anchor="end" fill="#111">4</text>
<line x1="348.1" y1="580.4" x2="353.1" y2="580.4" stroke="#1a1a1a" stroke-width="1.6"/>
<text x="346.9" y="583.8" font-size="9.5" font-weight="bold" text-anchor="end" fill="#111">6</text>
<line x1="353.1" y1="672.4" x2="353.1" y2="676.9" stroke="#1a1a1a" stroke-width="1.5"/>
<line x1="371.6" y1="672.4" x2="371.6" y2="676.9" stroke="#1a1a1a" stroke-width="1.5"/>
<line x1="390.0" y1="672.4" x2="390.0" y2="676.9" stroke="#1a1a1a" stroke-width="1.5"/>
<line x1="408.5" y1="672.4" x2="408.5" y2="676.9" stroke="#1a1a1a" stroke-width="1.5"/>
<line x1="426.9" y1="672.4" x2="426.9" y2="676.9" stroke="#1a1a1a" stroke-width="1.5"/>
<line x1="445.4" y1="672.4" x2="445.4" y2="676.9" stroke="#1a1a1a" stroke-width="1.5"/>
<text x="353.1" y="686.9" font-size="9.6" font-weight="bold" text-anchor="middle" fill="#111">-0.8</text>
<text x="390.0" y="686.9" font-size="9.6" font-weight="bold" text-anchor="middle" fill="#111">-0.4</text>
<text x="426.9" y="686.9" font-size="9.6" font-weight="bold" text-anchor="middle" fill="#111">0.0</text>
<text x="399.3" y="699.7" font-size="9.0" font-weight="bold" text-anchor="middle" fill="#222" textLength="67.5" lengthAdjust="spacingAndGlyphs">KAT2A DepScore</text>
<text x="399.2" y="572.5" font-size="11.1" font-weight="bold" text-anchor="middle" fill="#111">DDX60</text>
<text x="409.6" y="588.7" font-size="9.3" fill="#3a3a3a">r=-0.43</text>
<text x="409.6" y="601.0" font-size="9.3" fill="#3a3a3a">p=0.001</text>
<line x1="472.2" y1="641.7" x2="564.2" y2="641.7" stroke="#e9e9e9" stroke-width="0.9"/>
<line x1="472.2" y1="611.1" x2="564.2" y2="611.1" stroke="#e9e9e9" stroke-width="0.9"/>
<line x1="509.1" y1="580.4" x2="509.1" y2="672.4" stroke="#e9e9e9" stroke-width="0.9"/>
<line x1="546.0" y1="580.4" x2="546.0" y2="672.4" stroke="#e9e9e9" stroke-width="0.9"/>
<path d="M480.3,602.0 L483.0,603.8 L485.6,605.6 L488.3,607.3 L491.0,609.1 L493.6,610.8 L496.3,612.5 L499.0,614.2 L501.7,615.9 L504.3,617.5 L507.0,619.1 L509.7,620.7 L512.3,622.2 L515.0,623.7 L517.7,625.2 L520.3,626.7 L523.0,628.0 L525.7,629.4 L528.3,630.7 L531.0,631.9 L533.7,633.1 L536.3,634.3 L539.0,635.4 L541.7,636.5 L544.4,637.5 L547.0,638.5 L549.7,639.5 L552.4,640.4 L555.0,641.3 L557.7,642.2 L557.7,665.4 L555.0,663.7 L552.4,662.1 L549.7,660.5 L547.0,658.9 L544.4,657.3 L541.7,655.8 L539.0,654.4 L536.3,652.9 L533.7,651.5 L531.0,650.2 L528.3,648.9 L525.7,647.6 L523.0,646.4 L520.3,645.3 L517.7,644.2 L515.0,643.1 L512.3,642.0 L509.7,641.0 L507.0,640.1 L504.3,639.1 L501.7,638.2 L499.0,637.4 L496.3,636.5 L493.6,635.7 L491.0,634.8 L488.3,634.0 L485.6,633.2 L483.0,632.5 L480.3,631.7 Z" fill="#cdd0ec"/>
<circle cx="482.9" cy="591.4" r="1.85" fill="#170a8f"/>
<circle cx="525.3" cy="593.9" r="1.85" fill="#170a8f"/>
<circle cx="495.4" cy="603.2" r="1.85" fill="#170a8f"/>
<circle cx="505.3" cy="602.8" r="1.85" fill="#170a8f"/>
<circle cx="514.8" cy="600.6" r="1.85" fill="#170a8f"/>
<circle cx="529.9" cy="603.5" r="1.85" fill="#170a8f"/>
<circle cx="502.7" cy="609.0" r="1.85" fill="#170a8f"/>
<circle cx="506.6" cy="611.9" r="1.85" fill="#170a8f"/>
<circle cx="508.7" cy="615.4" r="1.85" fill="#170a8f"/>
<circle cx="511.0" cy="617.2" r="1.85" fill="#170a8f"/>
<circle cx="503.1" cy="617.5" r="1.85" fill="#170a8f"/>
<circle cx="538.5" cy="608.4" r="1.85" fill="#170a8f"/>
<circle cx="548.1" cy="618.4" r="1.85" fill="#170a8f"/>
<circle cx="557.0" cy="624.2" r="1.85" fill="#170a8f"/>
<circle cx="494.3" cy="621.2" r="1.85" fill="#170a8f"/>
<circle cx="506.9" cy="627.7" r="1.85" fill="#170a8f"/>
<circle cx="503.1" cy="629.5" r="1.85" fill="#170a8f"/>
<circle cx="518.3" cy="633.5" r="1.85" fill="#170a8f"/>
<circle cx="532.9" cy="625.1" r="1.85" fill="#170a8f"/>
<circle cx="539.5" cy="623.0" r="1.85" fill="#170a8f"/>
<circle cx="543.9" cy="627.7" r="1.85" fill="#170a8f"/>
<circle cx="534.6" cy="631.2" r="1.85" fill="#170a8f"/>
<circle cx="480.3" cy="638.7" r="1.85" fill="#170a8f"/>
<circle cx="526.7" cy="635.9" r="1.85" fill="#170a8f"/>
<circle cx="521.5" cy="640.5" r="1.85" fill="#170a8f"/>
<circle cx="528.5" cy="640.8" r="1.85" fill="#170a8f"/>
<circle cx="531.1" cy="641.2" r="1.85" fill="#170a8f"/>
<circle cx="530.2" cy="644.0" r="1.85" fill="#170a8f"/>
<circle cx="534.6" cy="637.3" r="1.85" fill="#170a8f"/>
<circle cx="535.5" cy="636.5" r="1.85" fill="#170a8f"/>
<circle cx="537.2" cy="636.5" r="1.85" fill="#170a8f"/>
<circle cx="540.7" cy="641.4" r="1.85" fill="#170a8f"/>
<circle cx="544.2" cy="645.2" r="1.85" fill="#170a8f"/>
<circle cx="545.6" cy="644.7" r="1.85" fill="#170a8f"/>
<circle cx="496.9" cy="649.6" r="1.85" fill="#170a8f"/>
<circle cx="523.7" cy="649.1" r="1.85" fill="#170a8f"/>
<circle cx="525.0" cy="649.1" r="1.85" fill="#170a8f"/>
<circle cx="538.1" cy="651.0" r="1.85" fill="#170a8f"/>
<circle cx="517.6" cy="660.1" r="1.85" fill="#170a8f"/>
<circle cx="521.5" cy="663.6" r="1.85" fill="#170a8f"/>
<circle cx="523.2" cy="663.6" r="1.85" fill="#170a8f"/>
<circle cx="525.8" cy="659.8" r="1.85" fill="#170a8f"/>
<circle cx="528.5" cy="661.0" r="1.85" fill="#170a8f"/>
<circle cx="536.9" cy="659.2" r="1.85" fill="#170a8f"/>
<circle cx="548.1" cy="658.7" r="1.85" fill="#170a8f"/>
<circle cx="547.2" cy="661.0" r="1.85" fill="#170a8f"/>
<circle cx="533.4" cy="666.2" r="1.85" fill="#170a8f"/>
<circle cx="493.4" cy="666.6" r="1.85" fill="#170a8f"/>
<circle cx="520.2" cy="670.3" r="1.85" fill="#170a8f"/>
<circle cx="532.0" cy="671.5" r="1.85" fill="#170a8f"/>
<circle cx="537.8" cy="665.7" r="1.85" fill="#170a8f"/>
<circle cx="538.5" cy="669.8" r="1.85" fill="#170a8f"/>
<circle cx="539.0" cy="672.0" r="1.85" fill="#170a8f"/>
<circle cx="557.0" cy="670.3" r="1.85" fill="#170a8f"/>
<circle cx="558.3" cy="669.8" r="1.85" fill="#170a8f"/>
<line x1="480.3" y1="616.7" x2="557.7" y2="654.9" stroke="#1f1a99" stroke-width="1.4"/>
<rect x="472.2" y="580.4" width="92.0" height="92.0" fill="none" stroke="#1a1a1a" stroke-width="1.6"/>
<line x1="467.2" y1="672.4" x2="472.2" y2="672.4" stroke="#1a1a1a" stroke-width="1.6"/>
<text x="466.0" y="675.8" font-size="9.5" font-weight="bold" text-anchor="end" fill="#111">0</text>
<line x1="467.2" y1="641.7" x2="472.2" y2="641.7" stroke="#1a1a1a" stroke-width="1.6"/>
<text x="466.0" y="645.1" font-size="9.5" font-weight="bold" text-anchor="end" fill="#111">2</text>
<line x1="467.2" y1="611.1" x2="472.2" y2="611.1" stroke="#1a1a1a" stroke-width="1.6"/>
<text x="466.0" y="614.5" font-size="9.5" font-weight="bold" text-anchor="end" fill="#111">4</text>
<line x1="467.2" y1="580.4" x2="472.2" y2="580.4" stroke="#1a1a1a" stroke-width="1.6"/>
<text x="466.0" y="583.8" font-size="9.5" font-weight="bold" text-anchor="end" fill="#111">6</text>
<line x1="472.2" y1="672.4" x2="472.2" y2="676.9" stroke="#1a1a1a" stroke-width="1.5"/>
<line x1="490.7" y1="672.4" x2="490.7" y2="676.9" stroke="#1a1a1a" stroke-width="1.5"/>
<line x1="509.1" y1="672.4" x2="509.1" y2="676.9" stroke="#1a1a1a" stroke-width="1.5"/>
<line x1="527.6" y1="672.4" x2="527.6" y2="676.9" stroke="#1a1a1a" stroke-width="1.5"/>
<line x1="546.0" y1="672.4" x2="546.0" y2="676.9" stroke="#1a1a1a" stroke-width="1.5"/>
<line x1="564.5" y1="672.4" x2="564.5" y2="676.9" stroke="#1a1a1a" stroke-width="1.5"/>
<text x="472.2" y="686.9" font-size="9.6" font-weight="bold" text-anchor="middle" fill="#111">-0.8</text>
<text x="509.1" y="686.9" font-size="9.6" font-weight="bold" text-anchor="middle" fill="#111">-0.4</text>
<text x="546.0" y="686.9" font-size="9.6" font-weight="bold" text-anchor="middle" fill="#111">0.0</text>
<text x="518.4" y="699.7" font-size="9.0" font-weight="bold" text-anchor="middle" fill="#222" textLength="67.5" lengthAdjust="spacingAndGlyphs">KAT2A DepScore</text>
<text x="518.0" y="572.5" font-size="11.1" font-weight="bold" text-anchor="middle" fill="#111">EDN1</text>
<text x="530.9" y="588.7" font-size="9.3" fill="#3a3a3a">r=-0.40</text>
<text x="530.9" y="601.0" font-size="9.3" fill="#3a3a3a">p=0.003</text>
<line x1="591.4" y1="654.0" x2="682.8" y2="654.0" stroke="#e9e9e9" stroke-width="0.9"/>
<line x1="591.4" y1="635.6" x2="682.8" y2="635.6" stroke="#e9e9e9" stroke-width="0.9"/>
<line x1="591.4" y1="617.2" x2="682.8" y2="617.2" stroke="#e9e9e9" stroke-width="0.9"/>
<line x1="591.4" y1="598.8" x2="682.8" y2="598.8" stroke="#e9e9e9" stroke-width="0.9"/>
<line x1="628.3" y1="580.4" x2="628.3" y2="672.4" stroke="#e9e9e9" stroke-width="0.9"/>
<line x1="665.2" y1="580.4" x2="665.2" y2="672.4" stroke="#e9e9e9" stroke-width="0.9"/>
<path d="M598.7,602.1 L601.4,603.9 L604.2,605.8 L606.9,607.6 L609.7,609.4 L612.4,611.2 L615.1,613.0 L617.9,614.8 L620.6,616.5 L623.4,618.2 L626.1,619.9 L628.9,621.6 L631.6,623.2 L634.3,624.8 L637.1,626.3 L639.8,627.8 L642.6,629.3 L645.3,630.7 L648.0,632.1 L650.8,633.4 L653.5,634.7 L656.3,635.9 L659.0,637.1 L661.8,638.2 L664.5,639.4 L667.2,640.4 L670.0,641.5 L672.7,642.5 L675.5,643.4 L678.2,644.4 L678.2,665.4 L675.5,663.7 L672.7,661.9 L670.0,660.3 L667.2,658.6 L664.5,657.0 L661.8,655.4 L659.0,653.8 L656.3,652.3 L653.5,650.8 L650.8,649.4 L648.0,648.0 L645.3,646.7 L642.6,645.4 L639.8,644.2 L637.1,643.0 L634.3,641.9 L631.6,640.8 L628.9,639.7 L626.1,638.7 L623.4,637.7 L620.6,636.7 L617.9,635.7 L615.1,634.8 L612.4,633.9 L609.7,633.0 L606.9,632.1 L604.2,631.2 L601.4,630.3 L598.7,629.5 Z" fill="#cdd0ec"/>
<circle cx="642.7" cy="596.1" r="1.85" fill="#170a8f"/>
<circle cx="622.4" cy="600.3" r="1.85" fill="#170a8f"/>
<circle cx="629.9" cy="602.4" r="1.85" fill="#170a8f"/>
<circle cx="643.6" cy="603.4" r="1.85" fill="#170a8f"/>
<circle cx="640.8" cy="605.2" r="1.85" fill="#170a8f"/>
<circle cx="613.3" cy="605.2" r="1.85" fill="#170a8f"/>
<circle cx="626.1" cy="609.2" r="1.85" fill="#170a8f"/>
<circle cx="633.9" cy="610.1" r="1.85" fill="#170a8f"/>
<circle cx="599.2" cy="613.8" r="1.85" fill="#170a8f"/>
<circle cx="602.3" cy="614.3" r="1.85" fill="#170a8f"/>
<circle cx="676.4" cy="614.3" r="1.85" fill="#170a8f"/>
<circle cx="655.8" cy="616.1" r="1.85" fill="#170a8f"/>
<circle cx="651.8" cy="619.2" r="1.85" fill="#170a8f"/>
<circle cx="657.6" cy="618.9" r="1.85" fill="#170a8f"/>
<circle cx="622.4" cy="624.3" r="1.85" fill="#170a8f"/>
<circle cx="614.4" cy="624.3" r="1.85" fill="#170a8f"/>
<circle cx="625.7" cy="628.4" r="1.85" fill="#170a8f"/>
<circle cx="663.1" cy="629.8" r="1.85" fill="#170a8f"/>
<circle cx="622.0" cy="632.6" r="1.85" fill="#170a8f"/>
<circle cx="623.9" cy="631.6" r="1.85" fill="#170a8f"/>
<circle cx="612.9" cy="632.2" r="1.85" fill="#170a8f"/>
<circle cx="649.4" cy="634.4" r="1.85" fill="#170a8f"/>
<circle cx="654.0" cy="634.4" r="1.85" fill="#170a8f"/>
<circle cx="658.5" cy="634.4" r="1.85" fill="#170a8f"/>
<circle cx="664.4" cy="634.9" r="1.85" fill="#170a8f"/>
<circle cx="644.5" cy="635.8" r="1.85" fill="#170a8f"/>
<circle cx="627.5" cy="638.9" r="1.85" fill="#170a8f"/>
<circle cx="656.4" cy="640.8" r="1.85" fill="#170a8f"/>
<circle cx="647.2" cy="641.7" r="1.85" fill="#170a8f"/>
<circle cx="667.7" cy="642.6" r="1.85" fill="#170a8f"/>
<circle cx="640.3" cy="643.9" r="1.85" fill="#170a8f"/>
<circle cx="642.7" cy="645.3" r="1.85" fill="#170a8f"/>
<circle cx="644.9" cy="644.4" r="1.85" fill="#170a8f"/>
<circle cx="655.8" cy="647.2" r="1.85" fill="#170a8f"/>
<circle cx="650.9" cy="649.9" r="1.85" fill="#170a8f"/>
<circle cx="657.6" cy="651.7" r="1.85" fill="#170a8f"/>
<circle cx="663.1" cy="651.2" r="1.85" fill="#170a8f"/>
<circle cx="616.6" cy="652.3" r="1.85" fill="#170a8f"/>
<circle cx="645.8" cy="654.5" r="1.85" fill="#170a8f"/>
<circle cx="649.4" cy="654.5" r="1.85" fill="#170a8f"/>
<circle cx="637.6" cy="662.1" r="1.85" fill="#170a8f"/>
<circle cx="651.2" cy="663.0" r="1.85" fill="#170a8f"/>
<circle cx="652.7" cy="660.8" r="1.85" fill="#170a8f"/>
<circle cx="653.4" cy="663.6" r="1.85" fill="#170a8f"/>
<circle cx="666.8" cy="663.9" r="1.85" fill="#170a8f"/>
<circle cx="636.6" cy="668.1" r="1.85" fill="#170a8f"/>
<circle cx="660.0" cy="668.1" r="1.85" fill="#170a8f"/>
<circle cx="639.4" cy="672.3" r="1.85" fill="#170a8f"/>
<circle cx="647.6" cy="671.8" r="1.85" fill="#170a8f"/>
<circle cx="657.6" cy="671.8" r="1.85" fill="#170a8f"/>
<circle cx="667.7" cy="670.3" r="1.85" fill="#170a8f"/>
<circle cx="675.9" cy="659.9" r="1.85" fill="#170a8f"/>
<circle cx="677.7" cy="655.4" r="1.85" fill="#170a8f"/>
<line x1="598.7" y1="615.2" x2="678.2" y2="655.0" stroke="#1f1a99" stroke-width="1.4"/>
<rect x="591.4" y="580.4" width="91.4" height="92.0" fill="none" stroke="#1a1a1a" stroke-width="1.6"/>
<line x1="586.4" y1="672.4" x2="591.4" y2="672.4" stroke="#1a1a1a" stroke-width="1.6"/>
<text x="585.2" y="675.8" font-size="9.5" font-weight="bold" text-anchor="end" fill="#111">0</text>
<line x1="586.4" y1="654.0" x2="591.4" y2="654.0" stroke="#1a1a1a" stroke-width="1.6"/>
<text x="585.2" y="657.4" font-size="9.5" font-weight="bold" text-anchor="end" fill="#111">2</text>
<line x1="586.4" y1="635.6" x2="591.4" y2="635.6" stroke="#1a1a1a" stroke-width="1.6"/>
<text x="585.2" y="639.0" font-size="9.5" font-weight="bold" text-anchor="end" fill="#111">4</text>
<line x1="586.4" y1="617.2" x2="591.4" y2="617.2" stroke="#1a1a1a" stroke-width="1.6"/>
<text x="585.2" y="620.6" font-size="9.5" font-weight="bold" text-anchor="end" fill="#111">6</text>
<line x1="586.4" y1="598.8" x2="591.4" y2="598.8" stroke="#1a1a1a" stroke-width="1.6"/>
<text x="585.2" y="602.2" font-size="9.5" font-weight="bold" text-anchor="end" fill="#111">8</text>
<line x1="586.4" y1="580.4" x2="591.4" y2="580.4" stroke="#1a1a1a" stroke-width="1.6"/>
<text x="585.2" y="583.8" font-size="9.5" font-weight="bold" text-anchor="end" fill="#111">10</text>
<line x1="591.4" y1="672.4" x2="591.4" y2="676.9" stroke="#1a1a1a" stroke-width="1.5"/>
<line x1="609.9" y1="672.4" x2="609.9" y2="676.9" stroke="#1a1a1a" stroke-width="1.5"/>
<line x1="628.3" y1="672.4" x2="628.3" y2="676.9" stroke="#1a1a1a" stroke-width="1.5"/>
<line x1="646.8" y1="672.4" x2="646.8" y2="676.9" stroke="#1a1a1a" stroke-width="1.5"/>
<line x1="665.2" y1="672.4" x2="665.2" y2="676.9" stroke="#1a1a1a" stroke-width="1.5"/>
<line x1="683.7" y1="672.4" x2="683.7" y2="676.9" stroke="#1a1a1a" stroke-width="1.5"/>
<text x="591.4" y="686.9" font-size="9.6" font-weight="bold" text-anchor="middle" fill="#111">-0.8</text>
<text x="628.3" y="686.9" font-size="9.6" font-weight="bold" text-anchor="middle" fill="#111">-0.4</text>
<text x="665.2" y="686.9" font-size="9.6" font-weight="bold" text-anchor="middle" fill="#111">0.0</text>
<text x="637.6" y="699.7" font-size="9.0" font-weight="bold" text-anchor="middle" fill="#222" textLength="67.5" lengthAdjust="spacingAndGlyphs">KAT2A DepScore</text>
<text x="637.5" y="572.5" font-size="11.1" font-weight="bold" text-anchor="middle" fill="#111">HPGD</text>
<text x="649.8" y="588.7" font-size="9.3" fill="#3a3a3a">r=-0.44</text>
<text x="649.8" y="601.0" font-size="9.3" fill="#3a3a3a">p=0.001</text>
<line x1="353.4" y1="796.3" x2="445.2" y2="796.3" stroke="#e9e9e9" stroke-width="0.9"/>
<line x1="353.4" y1="773.4" x2="445.2" y2="773.4" stroke="#e9e9e9" stroke-width="0.9"/>
<line x1="353.4" y1="750.5" x2="445.2" y2="750.5" stroke="#e9e9e9" stroke-width="0.9"/>
<line x1="390.3" y1="727.5" x2="390.3" y2="819.3" stroke="#e9e9e9" stroke-width="0.9"/>
<line x1="427.2" y1="727.5" x2="427.2" y2="819.3" stroke="#e9e9e9" stroke-width="0.9"/>
<path d="M360.8,759.2 L363.5,760.4 L366.2,761.6 L368.9,762.8 L371.6,764.0 L374.3,765.2 L377.0,766.3 L379.7,767.5 L382.4,768.6 L385.1,769.7 L387.8,770.9 L390.5,771.9 L393.2,773.0 L395.9,774.0 L398.6,775.1 L401.4,776.0 L404.1,777.0 L406.8,777.9 L409.5,778.8 L412.2,779.6 L414.9,780.4 L417.6,781.2 L420.3,781.9 L423.0,782.6 L425.7,783.3 L428.4,784.0 L431.1,784.6 L433.8,785.2 L436.5,785.8 L439.2,786.4 L439.2,799.6 L436.5,798.5 L433.8,797.3 L431.1,796.2 L428.4,795.1 L425.7,794.1 L423.0,793.0 L420.3,792.0 L417.6,791.0 L414.9,790.1 L412.2,789.2 L409.5,788.3 L406.8,787.5 L404.1,786.6 L401.4,785.9 L398.6,785.1 L395.9,784.4 L393.2,783.7 L390.5,783.1 L387.8,782.5 L385.1,781.8 L382.4,781.2 L379.7,780.7 L377.0,780.1 L374.3,779.5 L371.6,779.0 L368.9,778.5 L366.2,777.9 L363.5,777.4 L360.8,776.9 Z" fill="#cdd0ec"/>
<circle cx="391.7" cy="744.2" r="1.85" fill="#170a8f"/>
<circle cx="361.2" cy="753.5" r="1.85" fill="#170a8f"/>
<circle cx="376.2" cy="758.5" r="1.85" fill="#170a8f"/>
<circle cx="387.8" cy="759.2" r="1.85" fill="#170a8f"/>
<circle cx="402.0" cy="759.8" r="1.85" fill="#170a8f"/>
<circle cx="402.2" cy="762.3" r="1.85" fill="#170a8f"/>
<circle cx="384.1" cy="763.6" r="1.85" fill="#170a8f"/>
<circle cx="424.4" cy="765.5" r="1.85" fill="#170a8f"/>
<circle cx="415.3" cy="767.9" r="1.85" fill="#170a8f"/>
<circle cx="384.0" cy="769.3" r="1.85" fill="#170a8f"/>
<circle cx="387.8" cy="772.5" r="1.85" fill="#170a8f"/>
<circle cx="410.7" cy="772.7" r="1.85" fill="#170a8f"/>
<circle cx="412.0" cy="774.4" r="1.85" fill="#170a8f"/>
<circle cx="419.6" cy="773.6" r="1.85" fill="#170a8f"/>
<circle cx="420.6" cy="775.0" r="1.85" fill="#170a8f"/>
<circle cx="429.1" cy="775.0" r="1.85" fill="#170a8f"/>
<circle cx="421.9" cy="776.9" r="1.85" fill="#170a8f"/>
<circle cx="377.9" cy="776.9" r="1.85" fill="#170a8f"/>
<circle cx="384.5" cy="778.8" r="1.85" fill="#170a8f"/>
<circle cx="386.4" cy="777.4" r="1.85" fill="#170a8f"/>
<circle cx="375.0" cy="781.6" r="1.85" fill="#170a8f"/>
<circle cx="404.5" cy="780.7" r="1.85" fill="#170a8f"/>
<circle cx="407.3" cy="781.2" r="1.85" fill="#170a8f"/>
<circle cx="406.4" cy="783.5" r="1.85" fill="#170a8f"/>
<circle cx="405.4" cy="784.5" r="1.85" fill="#170a8f"/>
<circle cx="395.5" cy="784.1" r="1.85" fill="#170a8f"/>
<circle cx="418.7" cy="781.6" r="1.85" fill="#170a8f"/>
<circle cx="418.7" cy="784.8" r="1.85" fill="#170a8f"/>
<circle cx="425.3" cy="783.5" r="1.85" fill="#170a8f"/>
<circle cx="429.1" cy="785.8" r="1.85" fill="#170a8f"/>
<circle cx="374.7" cy="785.4" r="1.85" fill="#170a8f"/>
<circle cx="389.3" cy="787.3" r="1.85" fill="#170a8f"/>
<circle cx="398.8" cy="788.3" r="1.85" fill="#170a8f"/>
<circle cx="409.2" cy="788.3" r="1.85" fill="#170a8f"/>
<circle cx="426.3" cy="790.1" r="1.85" fill="#170a8f"/>
<circle cx="401.6" cy="792.0" r="1.85" fill="#170a8f"/>
<circle cx="364.0" cy="791.7" r="1.85" fill="#170a8f"/>
<circle cx="408.8" cy="794.3" r="1.85" fill="#170a8f"/>
<circle cx="413.0" cy="793.0" r="1.85" fill="#170a8f"/>
<circle cx="414.9" cy="793.6" r="1.85" fill="#170a8f"/>
<circle cx="416.8" cy="794.3" r="1.85" fill="#170a8f"/>
<circle cx="420.0" cy="794.9" r="1.85" fill="#170a8f"/>
<circle cx="398.8" cy="795.8" r="1.85" fill="#170a8f"/>
<circle cx="404.1" cy="796.4" r="1.85" fill="#170a8f"/>
<circle cx="413.0" cy="797.7" r="1.85" fill="#170a8f"/>
<circle cx="413.9" cy="800.0" r="1.85" fill="#170a8f"/>
<circle cx="417.7" cy="799.6" r="1.85" fill="#170a8f"/>
<circle cx="418.3" cy="801.2" r="1.85" fill="#170a8f"/>
<circle cx="412.6" cy="802.1" r="1.85" fill="#170a8f"/>
<circle cx="428.7" cy="798.7" r="1.85" fill="#170a8f"/>
<circle cx="438.6" cy="789.2" r="1.85" fill="#170a8f"/>
<circle cx="439.6" cy="790.7" r="1.85" fill="#170a8f"/>
<circle cx="411.7" cy="810.5" r="1.85" fill="#170a8f"/>
<circle cx="437.7" cy="809.7" r="1.85" fill="#170a8f"/>
<line x1="360.8" y1="767.8" x2="439.2" y2="793.0" stroke="#1f1a99" stroke-width="1.4"/>
<rect x="353.4" y="727.5" width="91.8" height="91.8" fill="none" stroke="#1a1a1a" stroke-width="1.6"/>
<line x1="348.4" y1="819.3" x2="353.4" y2="819.3" stroke="#1a1a1a" stroke-width="1.6"/>
<text x="347.2" y="822.7" font-size="9.5" font-weight="bold" text-anchor="end" fill="#111">0</text>
<line x1="348.4" y1="796.3" x2="353.4" y2="796.3" stroke="#1a1a1a" stroke-width="1.6"/>
<text x="347.2" y="799.7" font-size="9.5" font-weight="bold" text-anchor="end" fill="#111">2</text>
<line x1="348.4" y1="773.4" x2="353.4" y2="773.4" stroke="#1a1a1a" stroke-width="1.6"/>
<text x="347.2" y="776.8" font-size="9.5" font-weight="bold" text-anchor="end" fill="#111">4</text>
<line x1="348.4" y1="750.5" x2="353.4" y2="750.5" stroke="#1a1a1a" stroke-width="1.6"/>
<text x="347.2" y="753.9" font-size="9.5" font-weight="bold" text-anchor="end" fill="#111">6</text>
<line x1="348.4" y1="727.5" x2="353.4" y2="727.5" stroke="#1a1a1a" stroke-width="1.6"/>
<text x="347.2" y="730.9" font-size="9.5" font-weight="bold" text-anchor="end" fill="#111">8</text>
<line x1="353.4" y1="819.3" x2="353.4" y2="823.8" stroke="#1a1a1a" stroke-width="1.5"/>
<line x1="371.9" y1="819.3" x2="371.9" y2="823.8" stroke="#1a1a1a" stroke-width="1.5"/>
<line x1="390.3" y1="819.3" x2="390.3" y2="823.8" stroke="#1a1a1a" stroke-width="1.5"/>
<line x1="408.8" y1="819.3" x2="408.8" y2="823.8" stroke="#1a1a1a" stroke-width="1.5"/>
<line x1="427.2" y1="819.3" x2="427.2" y2="823.8" stroke="#1a1a1a" stroke-width="1.5"/>
<line x1="445.7" y1="819.3" x2="445.7" y2="823.8" stroke="#1a1a1a" stroke-width="1.5"/>
<text x="353.4" y="833.8" font-size="9.6" font-weight="bold" text-anchor="middle" fill="#111">-0.8</text>
<text x="390.3" y="833.8" font-size="9.6" font-weight="bold" text-anchor="middle" fill="#111">-0.4</text>
<text x="427.2" y="833.8" font-size="9.6" font-weight="bold" text-anchor="middle" fill="#111">0.0</text>
<text x="399.6" y="846.6" font-size="9.0" font-weight="bold" text-anchor="middle" fill="#222" textLength="67.5" lengthAdjust="spacingAndGlyphs">KAT2A DepScore</text>
<text x="398.7" y="719.6" font-size="11.1" font-weight="bold" text-anchor="middle" fill="#111">IRF7</text>
<text x="410.0" y="735.8" font-size="9.3" fill="#3a3a3a">r=-0.43</text>
<text x="410.0" y="748.1" font-size="9.3" fill="#3a3a3a">p=0.001</text>
<line x1="472.3" y1="800.9" x2="564.5" y2="800.9" stroke="#e9e9e9" stroke-width="0.9"/>
<line x1="472.3" y1="782.6" x2="564.5" y2="782.6" stroke="#e9e9e9" stroke-width="0.9"/>
<line x1="472.3" y1="764.2" x2="564.5" y2="764.2" stroke="#e9e9e9" stroke-width="0.9"/>
<line x1="472.3" y1="745.9" x2="564.5" y2="745.9" stroke="#e9e9e9" stroke-width="0.9"/>
<line x1="509.2" y1="727.5" x2="509.2" y2="819.3" stroke="#e9e9e9" stroke-width="0.9"/>
<line x1="546.1" y1="727.5" x2="546.1" y2="819.3" stroke="#e9e9e9" stroke-width="0.9"/>
<path d="M480.4,740.8 L483.1,742.9 L485.8,745.0 L488.4,747.2 L491.1,749.2 L493.8,751.3 L496.5,753.3 L499.1,755.4 L501.8,757.3 L504.5,759.3 L507.2,761.2 L509.8,763.1 L512.5,764.9 L515.2,766.6 L517.9,768.3 L520.5,769.9 L523.2,771.5 L525.9,772.9 L528.6,774.3 L531.2,775.6 L533.9,776.8 L536.6,777.9 L539.3,778.9 L541.9,779.9 L544.6,780.8 L547.3,781.6 L550.0,782.4 L552.6,783.1 L555.3,783.8 L558.0,784.5 L558.0,813.9 L555.3,811.9 L552.6,810.0 L550.0,808.1 L547.3,806.2 L544.6,804.4 L541.9,802.6 L539.3,800.9 L536.6,799.3 L533.9,797.8 L531.2,796.3 L528.6,794.9 L525.9,793.7 L523.2,792.5 L520.5,791.3 L517.9,790.3 L515.2,789.3 L512.5,788.4 L509.8,787.6 L507.2,786.8 L504.5,786.1 L501.8,785.4 L499.1,784.7 L496.5,784.1 L493.8,783.5 L491.1,782.9 L488.4,782.3 L485.8,781.8 L483.1,781.2 L480.4,780.7 Z" fill="#cdd0ec"/>
<circle cx="524.5" cy="732.3" r="1.85" fill="#170a8f"/>
<circle cx="504.1" cy="733.2" r="1.85" fill="#170a8f"/>
<circle cx="506.8" cy="734.2" r="1.85" fill="#170a8f"/>
<circle cx="506.4" cy="735.7" r="1.85" fill="#170a8f"/>
<circle cx="538.1" cy="737.6" r="1.85" fill="#170a8f"/>
<circle cx="532.4" cy="740.8" r="1.85" fill="#170a8f"/>
<circle cx="534.9" cy="743.3" r="1.85" fill="#170a8f"/>
<circle cx="538.3" cy="742.1" r="1.85" fill="#170a8f"/>
<circle cx="493.7" cy="749.9" r="1.85" fill="#170a8f"/>
<circle cx="544.0" cy="750.3" r="1.85" fill="#170a8f"/>
<circle cx="523.5" cy="751.8" r="1.85" fill="#170a8f"/>
<circle cx="507.9" cy="757.9" r="1.85" fill="#170a8f"/>
<circle cx="496.9" cy="758.8" r="1.85" fill="#170a8f"/>
<circle cx="495.4" cy="761.7" r="1.85" fill="#170a8f"/>
<circle cx="505.5" cy="760.4" r="1.85" fill="#170a8f"/>
<circle cx="534.3" cy="759.4" r="1.85" fill="#170a8f"/>
<circle cx="545.7" cy="763.2" r="1.85" fill="#170a8f"/>
<circle cx="541.0" cy="765.1" r="1.85" fill="#170a8f"/>
<circle cx="528.3" cy="767.0" r="1.85" fill="#170a8f"/>
<circle cx="537.2" cy="768.7" r="1.85" fill="#170a8f"/>
<circle cx="525.4" cy="771.7" r="1.85" fill="#170a8f"/>
<circle cx="503.0" cy="770.8" r="1.85" fill="#170a8f"/>
<circle cx="480.4" cy="774.0" r="1.85" fill="#170a8f"/>
<circle cx="530.7" cy="774.6" r="1.85" fill="#170a8f"/>
<circle cx="510.6" cy="777.8" r="1.85" fill="#170a8f"/>
<circle cx="528.6" cy="779.3" r="1.85" fill="#170a8f"/>
<circle cx="483.3" cy="787.7" r="1.85" fill="#170a8f"/>
<circle cx="537.2" cy="788.8" r="1.85" fill="#170a8f"/>
<circle cx="517.4" cy="790.1" r="1.85" fill="#170a8f"/>
<circle cx="521.6" cy="793.6" r="1.85" fill="#170a8f"/>
<circle cx="494.1" cy="797.7" r="1.85" fill="#170a8f"/>
<circle cx="526.7" cy="801.9" r="1.85" fill="#170a8f"/>
<circle cx="531.7" cy="801.9" r="1.85" fill="#170a8f"/>
<circle cx="533.4" cy="802.9" r="1.85" fill="#170a8f"/>
<circle cx="547.8" cy="804.4" r="1.85" fill="#170a8f"/>
<circle cx="558.6" cy="805.0" r="1.85" fill="#170a8f"/>
<circle cx="539.1" cy="805.5" r="1.85" fill="#170a8f"/>
<circle cx="503.0" cy="806.7" r="1.85" fill="#170a8f"/>
<circle cx="514.6" cy="807.2" r="1.85" fill="#170a8f"/>
<circle cx="521.2" cy="807.8" r="1.85" fill="#170a8f"/>
<circle cx="530.7" cy="811.0" r="1.85" fill="#170a8f"/>
<circle cx="529.8" cy="814.4" r="1.85" fill="#170a8f"/>
<circle cx="518.4" cy="819.2" r="1.85" fill="#170a8f"/>
<circle cx="520.7" cy="819.2" r="1.85" fill="#170a8f"/>
<circle cx="523.5" cy="818.2" r="1.85" fill="#170a8f"/>
<circle cx="525.4" cy="818.2" r="1.85" fill="#170a8f"/>
<circle cx="532.0" cy="819.0" r="1.85" fill="#170a8f"/>
<circle cx="537.7" cy="817.7" r="1.85" fill="#170a8f"/>
<circle cx="538.7" cy="819.2" r="1.85" fill="#170a8f"/>
<circle cx="544.0" cy="819.2" r="1.85" fill="#170a8f"/>
<circle cx="548.2" cy="819.2" r="1.85" fill="#170a8f"/>
<circle cx="556.7" cy="816.7" r="1.85" fill="#170a8f"/>
<circle cx="557.7" cy="818.8" r="1.85" fill="#170a8f"/>
<line x1="480.4" y1="761.1" x2="558.0" y2="800.6" stroke="#1f1a99" stroke-width="1.4"/>
<rect x="472.3" y="727.5" width="92.2" height="91.8" fill="none" stroke="#1a1a1a" stroke-width="1.6"/>
<line x1="467.3" y1="819.3" x2="472.3" y2="819.3" stroke="#1a1a1a" stroke-width="1.6"/>
<text x="466.1" y="822.7" font-size="9.5" font-weight="bold" text-anchor="end" fill="#111">0</text>
<line x1="467.3" y1="800.9" x2="472.3" y2="800.9" stroke="#1a1a1a" stroke-width="1.6"/>
<text x="466.1" y="804.3" font-size="9.5" font-weight="bold" text-anchor="end" fill="#111">2</text>
<line x1="467.3" y1="782.6" x2="472.3" y2="782.6" stroke="#1a1a1a" stroke-width="1.6"/>
<text x="466.1" y="786.0" font-size="9.5" font-weight="bold" text-anchor="end" fill="#111">4</text>
<line x1="467.3" y1="764.2" x2="472.3" y2="764.2" stroke="#1a1a1a" stroke-width="1.6"/>
<text x="466.1" y="767.6" font-size="9.5" font-weight="bold" text-anchor="end" fill="#111">6</text>
<line x1="467.3" y1="745.9" x2="472.3" y2="745.9" stroke="#1a1a1a" stroke-width="1.6"/>
<text x="466.1" y="749.3" font-size="9.5" font-weight="bold" text-anchor="end" fill="#111">8</text>
<line x1="467.3" y1="727.5" x2="472.3" y2="727.5" stroke="#1a1a1a" stroke-width="1.6"/>
<text x="466.1" y="730.9" font-size="9.5" font-weight="bold" text-anchor="end" fill="#111">10</text>
<line x1="472.3" y1="819.3" x2="472.3" y2="823.8" stroke="#1a1a1a" stroke-width="1.5"/>
<line x1="490.8" y1="819.3" x2="490.8" y2="823.8" stroke="#1a1a1a" stroke-width="1.5"/>
<line x1="509.2" y1="819.3" x2="509.2" y2="823.8" stroke="#1a1a1a" stroke-width="1.5"/>
<line x1="527.7" y1="819.3" x2="527.7" y2="823.8" stroke="#1a1a1a" stroke-width="1.5"/>
<line x1="546.1" y1="819.3" x2="546.1" y2="823.8" stroke="#1a1a1a" stroke-width="1.5"/>
<line x1="564.6" y1="819.3" x2="564.6" y2="823.8" stroke="#1a1a1a" stroke-width="1.5"/>
<text x="472.3" y="833.8" font-size="9.6" font-weight="bold" text-anchor="middle" fill="#111">-0.8</text>
<text x="509.2" y="833.8" font-size="9.6" font-weight="bold" text-anchor="middle" fill="#111">-0.4</text>
<text x="546.1" y="833.8" font-size="9.6" font-weight="bold" text-anchor="middle" fill="#111">0.0</text>
<text x="518.5" y="846.6" font-size="9.0" font-weight="bold" text-anchor="middle" fill="#222" textLength="67.5" lengthAdjust="spacingAndGlyphs">KAT2A DepScore</text>
<text x="518.4" y="719.6" font-size="11.1" font-weight="bold" text-anchor="middle" fill="#111">KRT23</text>
<text x="474.6" y="735.8" font-size="9.3" fill="#3a3a3a">r=-0.32</text>
<text x="474.6" y="748.1" font-size="9.3" fill="#3a3a3a">p=0.02</text>
<line x1="591.4" y1="788.7" x2="683.2" y2="788.7" stroke="#e9e9e9" stroke-width="0.9"/>
<line x1="591.4" y1="758.1" x2="683.2" y2="758.1" stroke="#e9e9e9" stroke-width="0.9"/>
<line x1="628.3" y1="727.5" x2="628.3" y2="819.3" stroke="#e9e9e9" stroke-width="0.9"/>
<line x1="665.2" y1="727.5" x2="665.2" y2="819.3" stroke="#e9e9e9" stroke-width="0.9"/>
<path d="M599.5,765.8 L602.2,767.0 L604.9,768.2 L607.6,769.4 L610.3,770.6 L612.9,771.8 L615.6,772.9 L618.3,774.1 L621.0,775.2 L623.7,776.3 L626.4,777.3 L629.1,778.4 L631.8,779.4 L634.5,780.3 L637.2,781.2 L639.8,782.0 L642.5,782.8 L645.2,783.5 L647.9,784.2 L650.6,784.7 L653.3,785.2 L656.0,785.7 L658.7,786.0 L661.4,786.4 L664.1,786.6 L666.7,786.8 L669.4,787.0 L672.1,787.2 L674.8,787.3 L677.5,787.4 L677.5,808.1 L674.8,807.0 L672.1,805.9 L669.4,804.8 L666.7,803.8 L664.1,802.8 L661.4,801.9 L658.7,801.0 L656.0,800.1 L653.3,799.3 L650.6,798.6 L647.9,798.0 L645.2,797.4 L642.5,796.9 L639.8,796.5 L637.2,796.1 L634.5,795.8 L631.8,795.5 L629.1,795.3 L626.4,795.1 L623.7,794.9 L621.0,794.8 L618.3,794.7 L615.6,794.7 L612.9,794.6 L610.3,794.6 L607.6,794.5 L604.9,794.5 L602.2,794.5 L599.5,794.5 Z" fill="#cdd0ec"/>
<circle cx="624.5" cy="754.9" r="1.85" fill="#170a8f"/>
<circle cx="657.2" cy="759.2" r="1.85" fill="#170a8f"/>
<circle cx="613.6" cy="761.7" r="1.85" fill="#170a8f"/>
<circle cx="627.3" cy="762.6" r="1.85" fill="#170a8f"/>
<circle cx="614.9" cy="765.8" r="1.85" fill="#170a8f"/>
<circle cx="625.8" cy="768.6" r="1.85" fill="#170a8f"/>
<circle cx="626.2" cy="771.1" r="1.85" fill="#170a8f"/>
<circle cx="644.0" cy="768.6" r="1.85" fill="#170a8f"/>
<circle cx="646.8" cy="771.1" r="1.85" fill="#170a8f"/>
<circle cx="656.2" cy="767.3" r="1.85" fill="#170a8f"/>
<circle cx="653.4" cy="769.2" r="1.85" fill="#170a8f"/>
<circle cx="652.7" cy="771.1" r="1.85" fill="#170a8f"/>
<circle cx="655.9" cy="770.5" r="1.85" fill="#170a8f"/>
<circle cx="664.7" cy="772.4" r="1.85" fill="#170a8f"/>
<circle cx="629.9" cy="773.3" r="1.85" fill="#170a8f"/>
<circle cx="622.0" cy="774.2" r="1.85" fill="#170a8f"/>
<circle cx="612.6" cy="774.8" r="1.85" fill="#170a8f"/>
<circle cx="645.5" cy="777.1" r="1.85" fill="#170a8f"/>
<circle cx="652.1" cy="775.2" r="1.85" fill="#170a8f"/>
<circle cx="651.2" cy="773.9" r="1.85" fill="#170a8f"/>
<circle cx="660.0" cy="777.1" r="1.85" fill="#170a8f"/>
<circle cx="642.3" cy="780.3" r="1.85" fill="#170a8f"/>
<circle cx="662.4" cy="782.1" r="1.85" fill="#170a8f"/>
<circle cx="640.5" cy="785.2" r="1.85" fill="#170a8f"/>
<circle cx="652.1" cy="783.6" r="1.85" fill="#170a8f"/>
<circle cx="650.2" cy="786.5" r="1.85" fill="#170a8f"/>
<circle cx="649.3" cy="788.0" r="1.85" fill="#170a8f"/>
<circle cx="599.5" cy="790.6" r="1.85" fill="#170a8f"/>
<circle cx="663.4" cy="788.9" r="1.85" fill="#170a8f"/>
<circle cx="666.8" cy="791.5" r="1.85" fill="#170a8f"/>
<circle cx="644.6" cy="793.6" r="1.85" fill="#170a8f"/>
<circle cx="657.2" cy="794.5" r="1.85" fill="#170a8f"/>
<circle cx="676.5" cy="794.5" r="1.85" fill="#170a8f"/>
<circle cx="622.6" cy="806.4" r="1.85" fill="#170a8f"/>
<circle cx="633.9" cy="807.7" r="1.85" fill="#170a8f"/>
<circle cx="650.8" cy="803.9" r="1.85" fill="#170a8f"/>
<circle cx="677.9" cy="807.5" r="1.85" fill="#170a8f"/>
<circle cx="639.3" cy="811.8" r="1.85" fill="#170a8f"/>
<circle cx="636.7" cy="812.8" r="1.85" fill="#170a8f"/>
<circle cx="650.2" cy="811.8" r="1.85" fill="#170a8f"/>
<circle cx="657.4" cy="811.8" r="1.85" fill="#170a8f"/>
<circle cx="637.4" cy="817.5" r="1.85" fill="#170a8f"/>
<circle cx="640.8" cy="816.2" r="1.85" fill="#170a8f"/>
<circle cx="642.7" cy="818.8" r="1.85" fill="#170a8f"/>
<circle cx="647.4" cy="816.5" r="1.85" fill="#170a8f"/>
<circle cx="648.3" cy="816.9" r="1.85" fill="#170a8f"/>
<circle cx="656.2" cy="818.8" r="1.85" fill="#170a8f"/>
<circle cx="657.7" cy="817.5" r="1.85" fill="#170a8f"/>
<circle cx="658.7" cy="818.4" r="1.85" fill="#170a8f"/>
<circle cx="667.1" cy="818.8" r="1.85" fill="#170a8f"/>
<circle cx="675.6" cy="814.7" r="1.85" fill="#170a8f"/>
<circle cx="602.3" cy="817.9" r="1.85" fill="#170a8f"/>
<circle cx="616.0" cy="818.4" r="1.85" fill="#170a8f"/>
<line x1="599.5" y1="780.5" x2="677.5" y2="798.1" stroke="#1f1a99" stroke-width="1.4"/>
<rect x="591.4" y="727.5" width="91.8" height="91.8" fill="none" stroke="#1a1a1a" stroke-width="1.6"/>
<line x1="586.4" y1="819.3" x2="591.4" y2="819.3" stroke="#1a1a1a" stroke-width="1.6"/>
<text x="585.2" y="822.7" font-size="9.5" font-weight="bold" text-anchor="end" fill="#111">0</text>
<line x1="586.4" y1="788.7" x2="591.4" y2="788.7" stroke="#1a1a1a" stroke-width="1.6"/>
<text x="585.2" y="792.1" font-size="9.5" font-weight="bold" text-anchor="end" fill="#111">5</text>
<line x1="586.4" y1="758.1" x2="591.4" y2="758.1" stroke="#1a1a1a" stroke-width="1.6"/>
<text x="585.2" y="761.5" font-size="9.5" font-weight="bold" text-anchor="end" fill="#111">10</text>
<line x1="586.4" y1="727.5" x2="591.4" y2="727.5" stroke="#1a1a1a" stroke-width="1.6"/>
<text x="585.2" y="730.9" font-size="9.5" font-weight="bold" text-anchor="end" fill="#111">15</text>
<line x1="591.4" y1="819.3" x2="591.4" y2="823.8" stroke="#1a1a1a" stroke-width="1.5"/>
<line x1="609.9" y1="819.3" x2="609.9" y2="823.8" stroke="#1a1a1a" stroke-width="1.5"/>
<line x1="628.3" y1="819.3" x2="628.3" y2="823.8" stroke="#1a1a1a" stroke-width="1.5"/>
<line x1="646.8" y1="819.3" x2="646.8" y2="823.8" stroke="#1a1a1a" stroke-width="1.5"/>
<line x1="665.2" y1="819.3" x2="665.2" y2="823.8" stroke="#1a1a1a" stroke-width="1.5"/>
<line x1="683.7" y1="819.3" x2="683.7" y2="823.8" stroke="#1a1a1a" stroke-width="1.5"/>
<text x="591.4" y="833.8" font-size="9.6" font-weight="bold" text-anchor="middle" fill="#111">-0.8</text>
<text x="628.3" y="833.8" font-size="9.6" font-weight="bold" text-anchor="middle" fill="#111">-0.4</text>
<text x="665.2" y="833.8" font-size="9.6" font-weight="bold" text-anchor="middle" fill="#111">0.0</text>
<text x="637.6" y="846.6" font-size="9.0" font-weight="bold" text-anchor="middle" fill="#222" textLength="67.5" lengthAdjust="spacingAndGlyphs">KAT2A DepScore</text>
<text x="637.3" y="719.6" font-size="11.1" font-weight="bold" text-anchor="middle" fill="#111">KRT20</text>
<text x="649.6" y="735.8" font-size="9.3" fill="#3a3a3a">r=-0.21</text>
<text x="649.6" y="748.1" font-size="9.3" fill="#3a3a3a">p=0.12</text>
<g transform="translate(335.8,654.4) rotate(-90)">
<text x="0.0" y="0.0" font-size="9.8" font-weight="bold" fill="#111">LOG</text>
<text x="21.6" y="2.2" font-size="7.6" font-weight="bold" fill="#111">2</text>
<text x="28.4" y="0.0" font-size="9.8" font-weight="bold" fill="#111">RPKM</text>
</g>
<g transform="translate(336.0,801.5) rotate(-90)">
<text x="0.0" y="0.0" font-size="9.8" font-weight="bold" fill="#111">LOG</text>
<text x="21.6" y="2.2" font-size="7.6" font-weight="bold" fill="#111">2</text>
<text x="28.4" y="0.0" font-size="9.8" font-weight="bold" fill="#111">RPKM</text>
</g>
</svg></body></html>
